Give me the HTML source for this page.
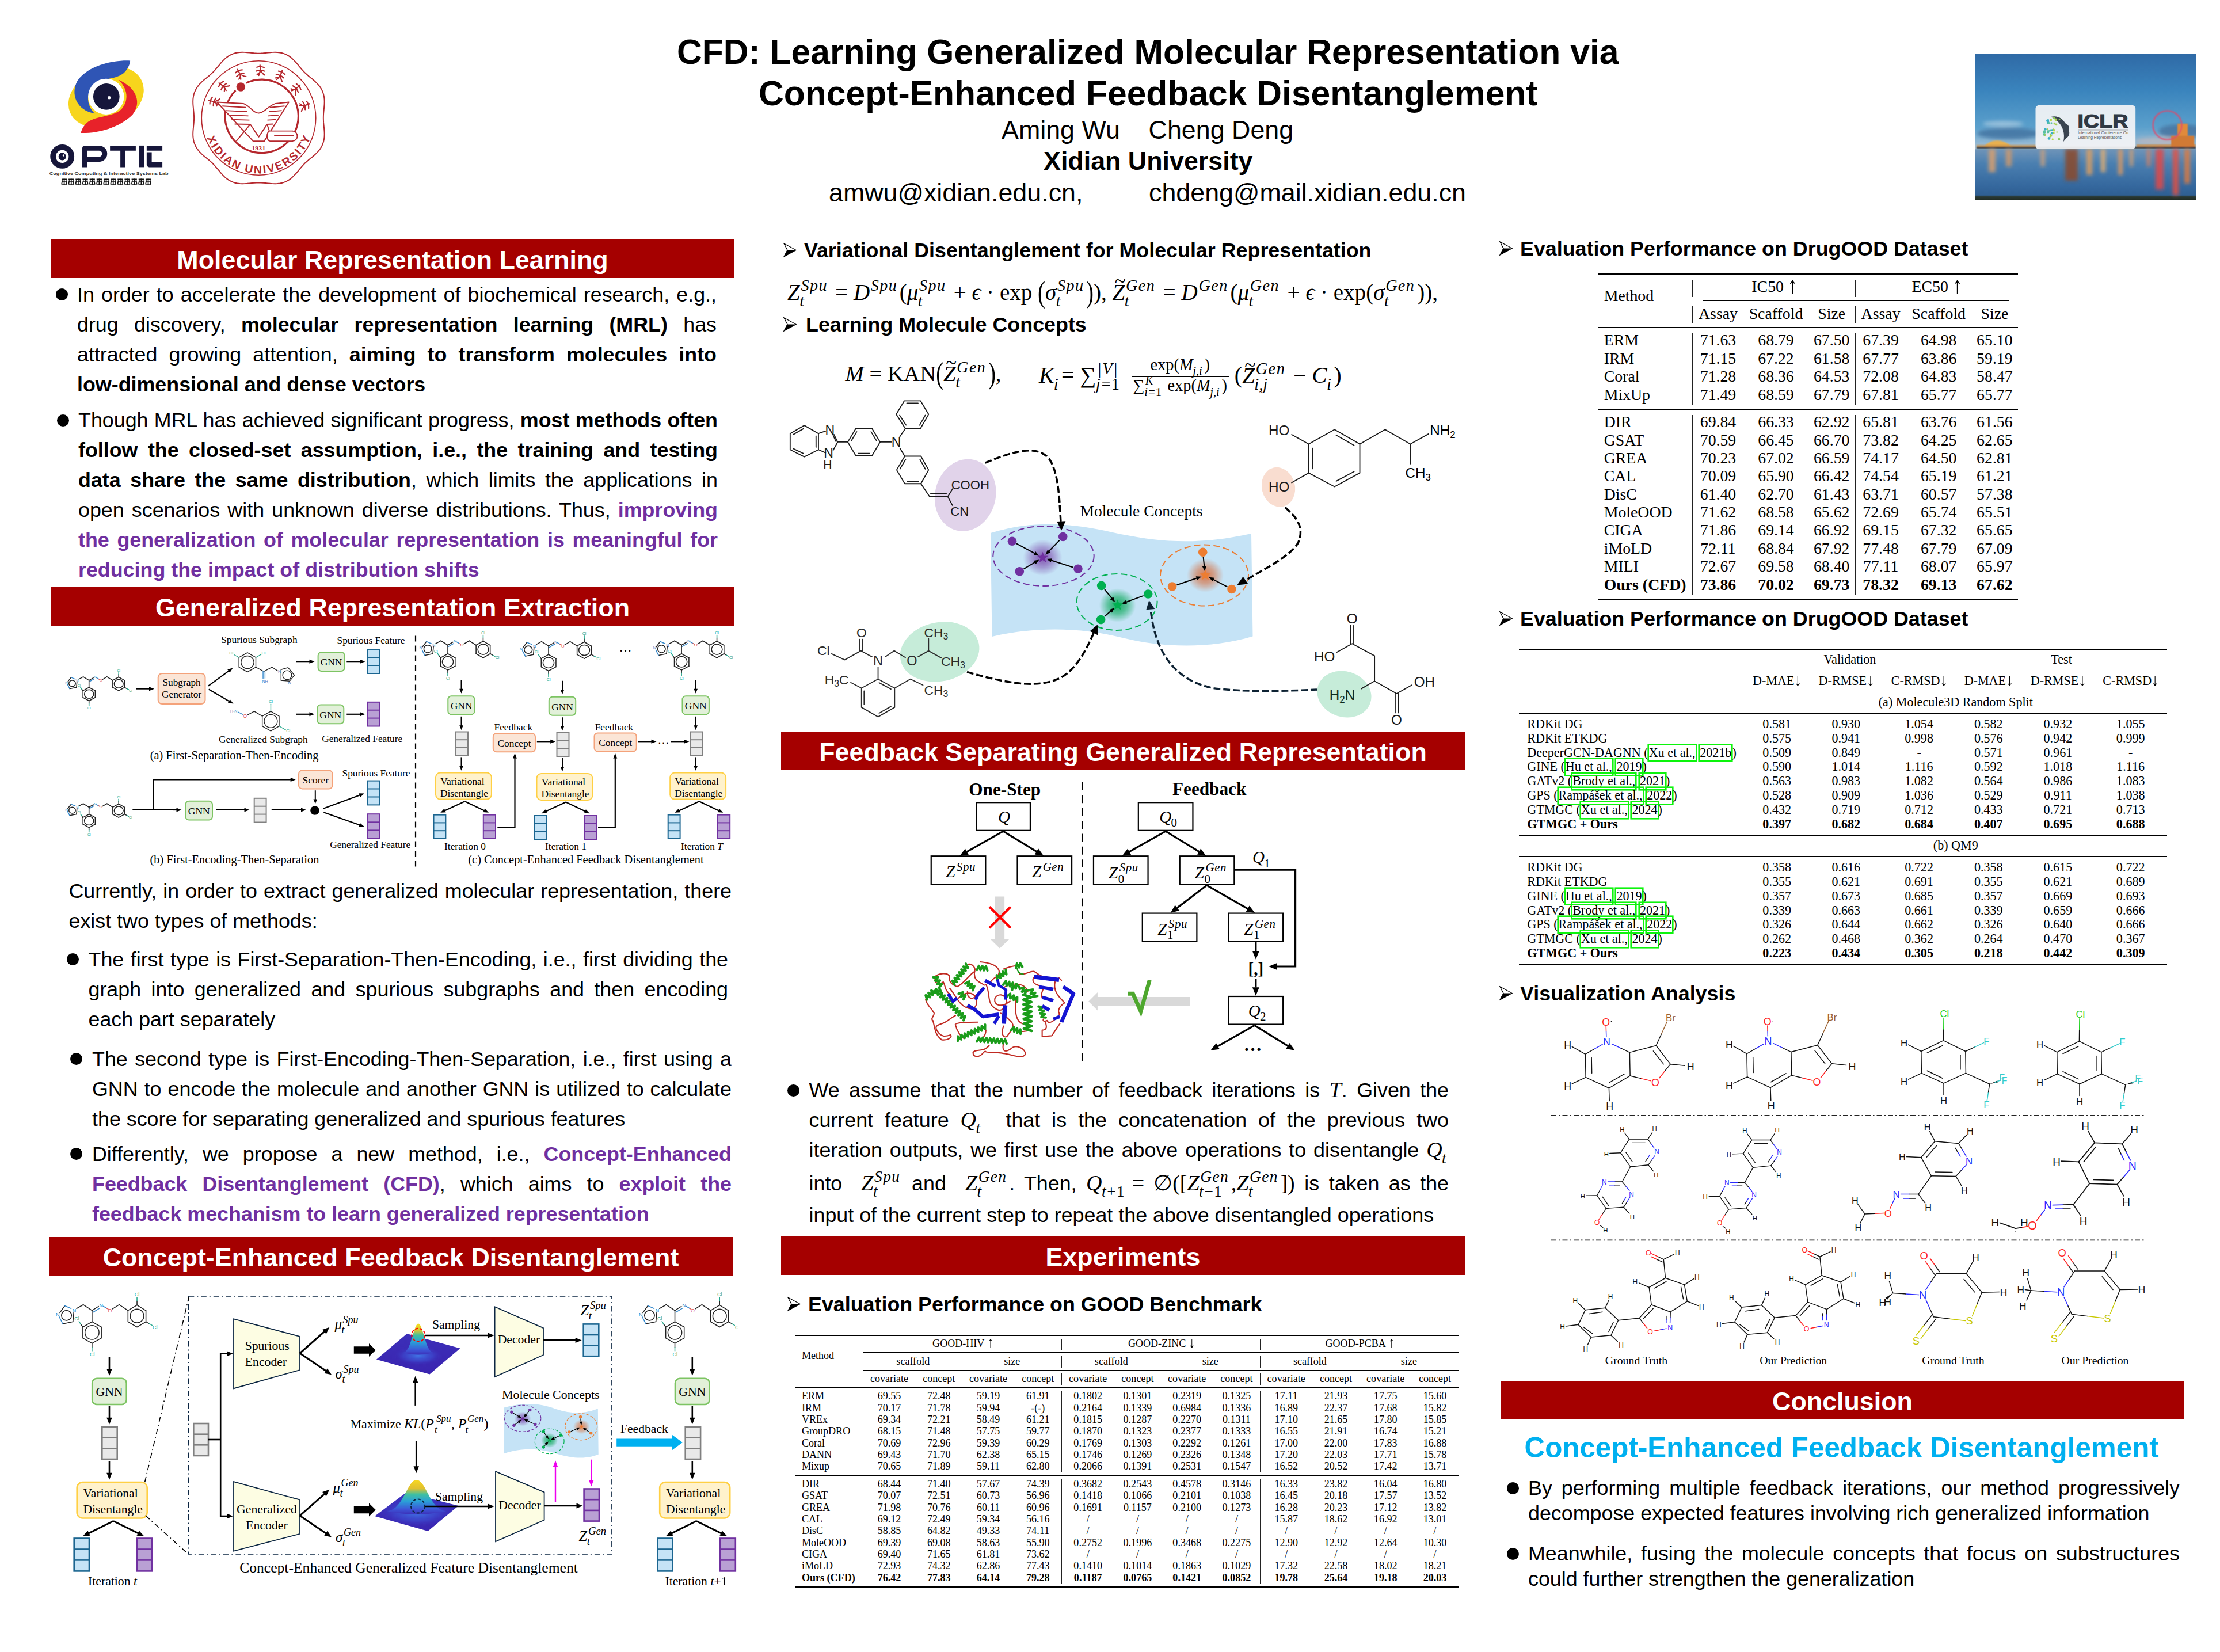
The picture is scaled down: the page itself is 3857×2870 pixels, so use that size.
<!DOCTYPE html>
<html><head><meta charset="utf-8"><title>CFD Poster</title>
<style>

html,body{margin:0;padding:0;background:#fff;}
#page{position:relative;width:3857px;height:2870px;overflow:hidden;background:#fff;font-family:"Liberation Sans",sans-serif;color:#000;}
.a{position:absolute;white-space:nowrap;}
.hdr{position:absolute;background:#a50000;color:#fff;font-weight:bold;font-size:44.8px;text-align:center;height:67px;line-height:67px;white-space:nowrap;}
.p{position:absolute;font-size:35.85px;line-height:52px;}
.ln{height:52px;white-space:nowrap;text-align:justify;text-align-last:justify;}
.ln.l{text-align:left;text-align-last:left;}
.ln span.sp{white-space:normal}
.b{font-weight:bold}
.pu{color:#7030a0;font-weight:bold}
.dot{position:absolute;width:21px;height:21px;border-radius:50%;background:#000;}
.sh{position:absolute;font-size:35.85px;font-weight:bold;white-space:nowrap;line-height:44px;}
.m{font-family:"Liberation Serif",serif;font-style:italic;}
.mr{font-family:"Liberation Serif",serif;font-style:normal;}
svg{position:absolute;left:0;top:0;overflow:visible}
svg text{font-family:"Liberation Serif",serif;}
svg .sans, svg .sans text{font-family:"Liberation Sans",sans-serif;}

.eq{position:absolute;white-space:nowrap;font-family:"Liberation Serif",serif;font-style:italic;transform-origin:0 50%;}
.eq .n,.m .n{font-style:normal}
.ss{display:inline-block;position:relative;width:0;height:0;}
.ss .u{position:absolute;left:.06em;bottom:.36em;font-size:.72em;line-height:1;white-space:nowrap;letter-spacing:.05em}
.ss .d{position:absolute;left:-.02em;top:-.42em;font-size:.72em;line-height:1;white-space:nowrap}
.sp{display:inline-block}
.big{display:inline-block;transform:scaleY(1.35);transform-origin:50% 55%;font-style:normal}
.frac{display:inline-block;vertical-align:middle;text-align:center;font-size:.72em;line-height:1.05;position:relative;top:-.16em}
.frac .nu{display:block;padding:0 .1em .2em}
.frac .de{display:block;border-top:.06em solid #000;padding:.0em .1em 0}
.til{display:inline-block;position:relative}
.til:after{content:"~";position:absolute;left:.12em;top:-.52em;font-style:normal;font-size:.9em}

.t{position:absolute;white-space:nowrap;font-family:"Liberation Serif",serif;transform:translateX(-50%);}
.tl{position:absolute;white-space:nowrap;font-family:"Liberation Serif",serif;}
.r{position:absolute;background:#000;}
.ar{display:inline-block;transform:scale(1.3,1.5);transform-origin:50% 62%;margin-left:.08em}
.ar2{display:inline-block;transform:scale(1.25,1.35);transform-origin:50% 62%;margin-left:.04em}
.gb{display:inline-block;box-shadow:0 0 0 2.6px #0cf40c;margin:0 1px;}

</style></head><body>
<div id="page">
<!-- p_base -->

<!-- p_text -->
<div class="a b" style="left:0;width:3857px;text-align:center;top:53.5px;font-size:60.6px;line-height:72px;"><div style="position:absolute;left:1176px;top:0;white-space:nowrap">CFD: Learning Generalized Molecular Representation via</div><div style="position:absolute;left:1318px;top:72px;white-space:nowrap">Concept-Enhanced Feedback Disentanglement</div></div>
<div class="a" style="left:1740px;top:199px;font-size:44.8px;line-height:52px;white-space:pre">Aming Wu    Cheng Deng</div>
<div class="a b" style="left:1813px;top:253px;font-size:44.8px;line-height:52px;">Xidian University</div>
<div class="a" style="left:1440px;top:308px;font-size:44.8px;line-height:52px;white-space:pre">amwu@xidian.edu.cn,</div>
<div class="a" style="left:1996px;top:308px;font-size:44.8px;line-height:52px;white-space:pre">chdeng@mail.xidian.edu.cn</div>
<div class="hdr" style="left:88px;top:416px;width:1188px;height:67px;line-height:70px;overflow:hidden">Molecular Representation Learning</div>
<div class="hdr" style="left:88px;top:1020px;width:1188px;height:67px;line-height:70px;overflow:hidden">Generalized Representation Extraction</div>
<div class="hdr" style="left:85px;top:2149px;width:1188px;height:67px;line-height:70px;overflow:hidden">Concept-Enhanced Feedback Disentanglement</div>
<div class="hdr" style="left:1357px;top:1271px;width:1188px;height:67px;line-height:70px;overflow:hidden">Feedback Separating Generalized Representation</div>
<div class="hdr" style="left:1357px;top:2148px;width:1188px;height:67px;line-height:70px;overflow:hidden">Experiments</div>
<div class="hdr" style="left:2607px;top:2399px;width:1188px;height:67px;line-height:70px;overflow:hidden">Conclusion</div>
<div class="dot" style="left:97.0px;top:501.0px;width:21px;height:21px"></div>
<div class="p" style="left:134px;top:486px;width:1111px;line-height:52px">
<div class="ln" style="height:52px;white-space:normal">In order to accelerate the development of biochemical research, e.g.,</div>
<div class="ln" style="height:52px;white-space:normal">drug discovery, <span class="b">molecular representation learning (MRL)</span> has</div>
<div class="ln" style="height:52px;white-space:normal">attracted growing attention, <span class="b">aiming to transform molecules into</span></div>
<div class="ln l" style="height:52px;white-space:normal"><span class="b">low-dimensional and dense vectors</span></div>
</div>
<div class="dot" style="left:98.5px;top:719.5px;width:21px;height:21px"></div>
<div class="p" style="left:136px;top:704px;width:1111px;line-height:52px">
<div class="ln" style="height:52px;white-space:normal">Though MRL has achieved significant progress, <span class="b">most methods often</span></div>
<div class="ln" style="height:52px;white-space:normal"><span class="b">follow the closed-set assumption, i.e., the training and testing</span></div>
<div class="ln" style="height:52px;white-space:normal"><span class="b">data share the same distribution</span>, which limits the applications in</div>
<div class="ln" style="height:52px;white-space:normal">open scenarios with unknown diverse distributions. Thus, <span class="pu">improving</span></div>
<div class="ln" style="height:52px;white-space:normal"><span class="pu">the generalization of molecular representation is meaningful for</span></div>
<div class="ln l" style="height:52px;white-space:normal"><span class="pu">reducing the impact of distribution shifts</span></div>
</div>
<div class="p" style="left:119.5px;top:1522px;width:1151.5px;line-height:52px">
<div class="ln" style="height:52px;white-space:normal">Currently, in order to extract generalized molecular representation, there</div>
<div class="ln l" style="height:52px;white-space:normal">exist two types of methods:</div>
</div>
<div class="dot" style="left:116.0px;top:1655.5px;width:21px;height:21px"></div>
<div class="p" style="left:153.5px;top:1641px;width:1111.5px;line-height:52px">
<div class="ln" style="height:52px;white-space:normal">The first type is First-Separation-Then-Encoding, i.e., first dividing the</div>
<div class="ln" style="height:52px;white-space:normal">graph into generalized and spurious subgraphs and then encoding</div>
<div class="ln l" style="height:52px;white-space:normal">each part separately</div>
</div>
<div class="dot" style="left:122.0px;top:1828.5px;width:21px;height:21px"></div>
<div class="p" style="left:160px;top:1814px;width:1111px;line-height:52px">
<div class="ln" style="height:52px;white-space:normal">The second type is First-Encoding-Then-Separation, i.e., first using a</div>
<div class="ln" style="height:52px;white-space:normal">GNN to encode the molecule and another GNN is utilized to calculate</div>
<div class="ln l" style="height:52px;white-space:normal">the score for separating generalized and spurious features</div>
</div>
<div class="dot" style="left:122.0px;top:1993.5px;width:21px;height:21px"></div>
<div class="p" style="left:160px;top:1979px;width:1111px;line-height:52px">
<div class="ln" style="height:52px;white-space:normal">Differently, we propose a new method, i.e., <span class="pu">Concept-Enhanced</span></div>
<div class="ln" style="height:52px;white-space:normal"><span class="pu">Feedback Disentanglement (CFD)</span>, which aims to <span class="pu">exploit the</span></div>
<div class="ln l" style="height:52px;white-space:normal"><span class="pu">feedback mechanism to learn generalized representation</span></div>
</div>
<svg class="a" style="left:1361px;top:421.5px" width="23.0" height="25.0" viewBox="0 0 23 25"><path d="M1 1 L22 12.5 L1 24 L7 12.5 Z" fill="#fff" stroke="#000" stroke-width="1.3" stroke-linejoin="miter"/><path d="M7 12.5 L22 12.5 L1 24 Z" fill="#000"/></svg><div class="sh" style="left:1397px;top:412.5px">Variational Disentanglement for Molecular Representation</div>
<svg class="a" style="left:1361px;top:550.5px" width="23.0" height="25.0" viewBox="0 0 23 25"><path d="M1 1 L22 12.5 L1 24 L7 12.5 Z" fill="#fff" stroke="#000" stroke-width="1.3" stroke-linejoin="miter"/><path d="M7 12.5 L22 12.5 L1 24 Z" fill="#000"/></svg><div class="sh" style="left:1400px;top:541.5px">Learning Molecule Concepts</div>
<svg class="a" style="left:1368px;top:2252.5px" width="23.0" height="25.0" viewBox="0 0 23 25"><path d="M1 1 L22 12.5 L1 24 L7 12.5 Z" fill="#fff" stroke="#000" stroke-width="1.3" stroke-linejoin="miter"/><path d="M7 12.5 L22 12.5 L1 24 Z" fill="#000"/></svg><div class="sh" style="left:1404px;top:2243.5px">Evaluation Performance on GOOD Benchmark</div>
<svg class="a" style="left:2605px;top:418.5px" width="23.0" height="25.0" viewBox="0 0 23 25"><path d="M1 1 L22 12.5 L1 24 L7 12.5 Z" fill="#fff" stroke="#000" stroke-width="1.3" stroke-linejoin="miter"/><path d="M7 12.5 L22 12.5 L1 24 Z" fill="#000"/></svg><div class="sh" style="left:2641px;top:409.5px">Evaluation Performance on DrugOOD Dataset</div>
<svg class="a" style="left:2605px;top:1061.5px" width="23.0" height="25.0" viewBox="0 0 23 25"><path d="M1 1 L22 12.5 L1 24 L7 12.5 Z" fill="#fff" stroke="#000" stroke-width="1.3" stroke-linejoin="miter"/><path d="M7 12.5 L22 12.5 L1 24 Z" fill="#000"/></svg><div class="sh" style="left:2641px;top:1052.5px">Evaluation Performance on DrugOOD Dataset</div>
<svg class="a" style="left:2605px;top:1712.5px" width="23.0" height="25.0" viewBox="0 0 23 25"><path d="M1 1 L22 12.5 L1 24 L7 12.5 Z" fill="#fff" stroke="#000" stroke-width="1.3" stroke-linejoin="miter"/><path d="M7 12.5 L22 12.5 L1 24 Z" fill="#000"/></svg><div class="sh" style="left:2641px;top:1703.5px">Visualization Analysis</div>
<div class="a b" style="left:2648.5px;top:2485px;font-size:49.35px;line-height:60px;color:#00b0f0">Concept-Enhanced Feedback Disentanglement</div>
<div class="dot" style="left:2617.5px;top:2575.0px;width:21px;height:21px"></div>
<div class="p" style="left:2655px;top:2563.4px;width:1132px;line-height:44px">
<div class="ln" style="height:44px;white-space:normal">By performing multiple feedback iterations, our method progressively</div>
<div class="ln l" style="height:44px;white-space:normal">decompose expected features involving rich generalized information</div>
</div>
<div class="dot" style="left:2617.5px;top:2689.0px;width:21px;height:21px"></div>
<div class="p" style="left:2655px;top:2677.4px;width:1132px;line-height:44px">
<div class="ln" style="height:44px;white-space:normal">Meanwhile, fusing the molecule concepts that focus on substructures</div>
<div class="ln l" style="height:44px;white-space:normal">could further strengthen the generalization</div>
</div>
<!-- p_math -->
<div class="eq" id="eq1" style="left:1368px;top:482.6px;font-size:39.1px;line-height:50.8px;transform:scaleX(1.0)">Z<span class="ss"><span class="u">Spu</span><span class="d">t</span></span><span class="sp" style="width:1.32em"></span><span class="n"> = </span>D<span class="ss"><span class="u">Spu</span></span><span class="sp" style="width:1.32em"></span><span class="n">(</span>&mu;<span class="ss"><span class="u">Spu</span><span class="d">t</span></span><span class="sp" style="width:1.32em"></span><span class="n"> + </span>&#1013;<span class="n"> &middot; exp </span><span class="big">(</span>&sigma;<span class="ss"><span class="u">Spu</span><span class="d">t</span></span><span class="sp" style="width:1.32em"></span><span class="big">)</span><span class="n">), </span><span class="til">Z</span><span class="ss"><span class="u">Gen</span><span class="d">t</span></span><span class="sp" style="width:1.45em"></span><span class="n"> = </span>D<span class="ss"><span class="u">Gen</span></span><span class="sp" style="width:1.45em"></span><span class="n">(</span>&mu;<span class="ss"><span class="u">Gen</span><span class="d">t</span></span><span class="sp" style="width:1.45em"></span><span class="n"> + </span>&#1013;<span class="n"> &middot; exp(</span>&sigma;<span class="ss"><span class="u">Gen</span><span class="d">t</span></span><span class="sp" style="width:1.45em"></span><span class="n">)),</span></div>
<div class="eq" id="eq2a" style="left:1468.5px;top:623.8px;font-size:38.8px;line-height:50.4px;transform:scaleX(1.0)">M<span class="n"> = KAN</span><span class="big">(</span><span class="til">Z</span><span class="ss"><span class="u">Gen</span><span class="d">t</span></span><span class="sp" style="width:1.45em"></span><span class="big">)</span><span class="n">,</span></div>
<div class="eq" id="eq2b" style="left:1805px;top:623.3px;font-size:39.5px;line-height:51.4px;transform:scaleX(1.0)">K<span class="ss"><span class="d">i</span></span><span class="sp" style="width:0.32em"></span><span class="n">= &sum;</span><span class="ss"><span class="u">|V|</span><span class="d">j=<span class="n">1</span></span></span><span class="sp" style="width:1.55em"></span><span class="frac"><span class="nu"><span class="n">exp(</span>M<span class="ss"><span class="d">j,i</span></span><span class="sp" style="width:0.7em"></span><span class="n">)</span></span><span class="de"><span class="n">&sum;</span><span class="ss"><span class="u">K</span><span class="d">i=<span class="n">1</span></span></span><span class="sp" style="width:1.15em"></span><span class="n"> exp(</span>M<span class="ss"><span class="d">j,i</span></span><span class="sp" style="width:0.7em"></span><span class="n">)</span></span></span><span class="n"> (</span><span class="til">Z</span><span class="ss"><span class="u">Gen</span><span class="d">i,j</span></span><span class="sp" style="width:1.45em"></span><span class="n"> &minus; </span>C<span class="ss"><span class="d">i</span></span><span class="sp" style="width:0.3em"></span><span class="n">)</span></div>
<div class="dot" style="left:1367.5px;top:1883.5px"></div>
<div class="p" style="left:1405.5px;top:1868.0px;width:1111.5px;line-height:52px"><div class="ln" style="height:52px;white-space:normal">We assume that the number of feedback iterations is <span class="m" style="font-size:38px;line-height:1px">T</span>. Given the</div></div>
<div class="p" style="left:1405.5px;top:1920.0px;width:1111.5px;line-height:52px"><div class="ln" style="height:52px;white-space:normal">current feature <span class="m" style="font-size:38px;line-height:1px">Q<span class="ss"><span class="d">t</span></span><span class="sp" style="width:0.3em"></span></span>&nbsp; that is the concatenation of the previous two</div></div>
<div class="p" style="left:1405.5px;top:1972.0px;width:1111.5px;line-height:52px"><div class="ln" style="height:52px;white-space:normal">iteration outputs, we first use the above operations to disentangle <span class="m" style="font-size:38px;line-height:1px">Q<span class="ss"><span class="d">t</span></span><span class="sp" style="width:0.3em"></span></span></div></div>
<div class="p" style="left:1405.5px;top:2030.0px;width:1111.5px;line-height:52px"><div class="ln" style="height:52px;white-space:normal">into &nbsp;<span class="m" style="font-size:38px;line-height:1px">Z<span class="ss"><span class="u">Spu</span><span class="d">t</span></span><span class="sp" style="width:1.32em"></span></span> and &nbsp;<span class="m" style="font-size:38px;line-height:1px">Z<span class="ss"><span class="u">Gen</span><span class="d">t</span></span><span class="sp" style="width:1.45em"></span></span>. Then, <span class="m" style="font-size:38px;line-height:1px">Q<span class="ss"><span class="d">t+<span class="n">1</span></span></span><span class="sp" style="width:0.95em"></span><span class="n"> = &empty;([</span>Z<span class="ss"><span class="u">Gen</span><span class="d">t&minus;<span class="n">1</span></span></span><span class="sp" style="width:1.45em"></span><span class="n">,</span>Z<span class="ss"><span class="u">Gen</span><span class="d">t</span></span><span class="sp" style="width:1.45em"></span><span class="n">])</span></span> is taken as the</div></div>
<div class="p" style="left:1405.5px;top:2085.0px;width:1111.5px;line-height:52px"><div class="ln l" style="height:52px;white-space:normal">input of the current step to repeat the above disentangled operations</div></div>
<!-- p_tables -->
<div class="r" style="left:2777px;top:473.5px;width:729px;height:3px"></div>
<div class="r" style="left:2777px;top:568.0px;width:729px;height:2px"></div>
<div class="r" style="left:2777px;top:709.6px;width:729px;height:2px"></div>
<div class="r" style="left:2777px;top:1039.8px;width:729px;height:3px"></div>
<div class="r" style="left:2957.6px;top:521.0px;width:532.9000000000001px;height:1.5px"></div>
<div class="r" style="left:2940.2px;top:486px;width:1.5px;height:30px;background:#222"></div>
<div class="r" style="left:2940.2px;top:532px;width:1.5px;height:30px;background:#222"></div>
<div class="r" style="left:2940.2px;top:579px;width:1.5px;height:125px;background:#222"></div>
<div class="r" style="left:2940.2px;top:720.5px;width:1.5px;height:313.5px;background:#222"></div>
<div class="r" style="left:3222.8px;top:486px;width:1.5px;height:30px;background:#222"></div>
<div class="r" style="left:3222.8px;top:532px;width:1.5px;height:30px;background:#222"></div>
<div class="r" style="left:3222.8px;top:579px;width:1.5px;height:125px;background:#222"></div>
<div class="r" style="left:3222.8px;top:720.5px;width:1.5px;height:313.5px;background:#222"></div>
<div class="tl" style="left:2786.7px;top:497.3px;font-size:27.8px;line-height:33.4px">Method</div>
<div class="t" style="left:3082.7px;top:481.1px;font-size:27.8px;line-height:33.4px">IC50 <span class="ar">&#8593;</span></div>
<div class="t" style="left:3364.8px;top:481.1px;font-size:27.8px;line-height:33.4px">EC50 <span class="ar">&#8593;</span></div>
<div class="t" style="left:2985px;top:528.0px;font-size:27.8px;line-height:33.4px">Assay</div>
<div class="t" style="left:3085.5px;top:528.0px;font-size:27.8px;line-height:33.4px">Scaffold</div>
<div class="t" style="left:3182.2px;top:528.0px;font-size:27.8px;line-height:33.4px">Size</div>
<div class="t" style="left:3267.6px;top:528.0px;font-size:27.8px;line-height:33.4px">Assay</div>
<div class="t" style="left:3368.2px;top:528.0px;font-size:27.8px;line-height:33.4px">Scaffold</div>
<div class="t" style="left:3465.4px;top:528.0px;font-size:27.8px;line-height:33.4px">Size</div>
<div class="tl" style="left:2786.7px;top:574.4px;font-size:27.8px;line-height:33.4px">ERM</div>
<div class="t" style="left:2985px;top:574.4px;font-size:27.8px;line-height:33.4px">71.63</div>
<div class="t" style="left:3085.5px;top:574.4px;font-size:27.8px;line-height:33.4px">68.79</div>
<div class="t" style="left:3182.2px;top:574.4px;font-size:27.8px;line-height:33.4px">67.50</div>
<div class="t" style="left:3267.6px;top:574.4px;font-size:27.8px;line-height:33.4px">67.39</div>
<div class="t" style="left:3368.2px;top:574.4px;font-size:27.8px;line-height:33.4px">64.98</div>
<div class="t" style="left:3465.4px;top:574.4px;font-size:27.8px;line-height:33.4px">65.10</div>
<div class="tl" style="left:2786.7px;top:605.8px;font-size:27.8px;line-height:33.4px">IRM</div>
<div class="t" style="left:2985px;top:605.8px;font-size:27.8px;line-height:33.4px">71.15</div>
<div class="t" style="left:3085.5px;top:605.8px;font-size:27.8px;line-height:33.4px">67.22</div>
<div class="t" style="left:3182.2px;top:605.8px;font-size:27.8px;line-height:33.4px">61.58</div>
<div class="t" style="left:3267.6px;top:605.8px;font-size:27.8px;line-height:33.4px">67.77</div>
<div class="t" style="left:3368.2px;top:605.8px;font-size:27.8px;line-height:33.4px">63.86</div>
<div class="t" style="left:3465.4px;top:605.8px;font-size:27.8px;line-height:33.4px">59.19</div>
<div class="tl" style="left:2786.7px;top:637.1px;font-size:27.8px;line-height:33.4px">Coral</div>
<div class="t" style="left:2985px;top:637.1px;font-size:27.8px;line-height:33.4px">71.28</div>
<div class="t" style="left:3085.5px;top:637.1px;font-size:27.8px;line-height:33.4px">68.36</div>
<div class="t" style="left:3182.2px;top:637.1px;font-size:27.8px;line-height:33.4px">64.53</div>
<div class="t" style="left:3267.6px;top:637.1px;font-size:27.8px;line-height:33.4px">72.08</div>
<div class="t" style="left:3368.2px;top:637.1px;font-size:27.8px;line-height:33.4px">64.83</div>
<div class="t" style="left:3465.4px;top:637.1px;font-size:27.8px;line-height:33.4px">58.47</div>
<div class="tl" style="left:2786.7px;top:668.5px;font-size:27.8px;line-height:33.4px">MixUp</div>
<div class="t" style="left:2985px;top:668.5px;font-size:27.8px;line-height:33.4px">71.49</div>
<div class="t" style="left:3085.5px;top:668.5px;font-size:27.8px;line-height:33.4px">68.59</div>
<div class="t" style="left:3182.2px;top:668.5px;font-size:27.8px;line-height:33.4px">67.79</div>
<div class="t" style="left:3267.6px;top:668.5px;font-size:27.8px;line-height:33.4px">67.81</div>
<div class="t" style="left:3368.2px;top:668.5px;font-size:27.8px;line-height:33.4px">65.77</div>
<div class="t" style="left:3465.4px;top:668.5px;font-size:27.8px;line-height:33.4px">65.77</div>
<div class="tl" style="left:2786.7px;top:716.3px;font-size:27.8px;line-height:33.4px">DIR</div>
<div class="t" style="left:2985px;top:716.3px;font-size:27.8px;line-height:33.4px">69.84</div>
<div class="t" style="left:3085.5px;top:716.3px;font-size:27.8px;line-height:33.4px">66.33</div>
<div class="t" style="left:3182.2px;top:716.3px;font-size:27.8px;line-height:33.4px">62.92</div>
<div class="t" style="left:3267.6px;top:716.3px;font-size:27.8px;line-height:33.4px">65.81</div>
<div class="t" style="left:3368.2px;top:716.3px;font-size:27.8px;line-height:33.4px">63.76</div>
<div class="t" style="left:3465.4px;top:716.3px;font-size:27.8px;line-height:33.4px">61.56</div>
<div class="tl" style="left:2786.7px;top:747.6px;font-size:27.8px;line-height:33.4px">GSAT</div>
<div class="t" style="left:2985px;top:747.6px;font-size:27.8px;line-height:33.4px">70.59</div>
<div class="t" style="left:3085.5px;top:747.6px;font-size:27.8px;line-height:33.4px">66.45</div>
<div class="t" style="left:3182.2px;top:747.6px;font-size:27.8px;line-height:33.4px">66.70</div>
<div class="t" style="left:3267.6px;top:747.6px;font-size:27.8px;line-height:33.4px">73.82</div>
<div class="t" style="left:3368.2px;top:747.6px;font-size:27.8px;line-height:33.4px">64.25</div>
<div class="t" style="left:3465.4px;top:747.6px;font-size:27.8px;line-height:33.4px">62.65</div>
<div class="tl" style="left:2786.7px;top:779.0px;font-size:27.8px;line-height:33.4px">GREA</div>
<div class="t" style="left:2985px;top:779.0px;font-size:27.8px;line-height:33.4px">70.23</div>
<div class="t" style="left:3085.5px;top:779.0px;font-size:27.8px;line-height:33.4px">67.02</div>
<div class="t" style="left:3182.2px;top:779.0px;font-size:27.8px;line-height:33.4px">66.59</div>
<div class="t" style="left:3267.6px;top:779.0px;font-size:27.8px;line-height:33.4px">74.17</div>
<div class="t" style="left:3368.2px;top:779.0px;font-size:27.8px;line-height:33.4px">64.50</div>
<div class="t" style="left:3465.4px;top:779.0px;font-size:27.8px;line-height:33.4px">62.81</div>
<div class="tl" style="left:2786.7px;top:810.3px;font-size:27.8px;line-height:33.4px">CAL</div>
<div class="t" style="left:2985px;top:810.3px;font-size:27.8px;line-height:33.4px">70.09</div>
<div class="t" style="left:3085.5px;top:810.3px;font-size:27.8px;line-height:33.4px">65.90</div>
<div class="t" style="left:3182.2px;top:810.3px;font-size:27.8px;line-height:33.4px">66.42</div>
<div class="t" style="left:3267.6px;top:810.3px;font-size:27.8px;line-height:33.4px">74.54</div>
<div class="t" style="left:3368.2px;top:810.3px;font-size:27.8px;line-height:33.4px">65.19</div>
<div class="t" style="left:3465.4px;top:810.3px;font-size:27.8px;line-height:33.4px">61.21</div>
<div class="tl" style="left:2786.7px;top:841.7px;font-size:27.8px;line-height:33.4px">DisC</div>
<div class="t" style="left:2985px;top:841.7px;font-size:27.8px;line-height:33.4px">61.40</div>
<div class="t" style="left:3085.5px;top:841.7px;font-size:27.8px;line-height:33.4px">62.70</div>
<div class="t" style="left:3182.2px;top:841.7px;font-size:27.8px;line-height:33.4px">61.43</div>
<div class="t" style="left:3267.6px;top:841.7px;font-size:27.8px;line-height:33.4px">63.71</div>
<div class="t" style="left:3368.2px;top:841.7px;font-size:27.8px;line-height:33.4px">60.57</div>
<div class="t" style="left:3465.4px;top:841.7px;font-size:27.8px;line-height:33.4px">57.38</div>
<div class="tl" style="left:2786.7px;top:873.0px;font-size:27.8px;line-height:33.4px">MoleOOD</div>
<div class="t" style="left:2985px;top:873.0px;font-size:27.8px;line-height:33.4px">71.62</div>
<div class="t" style="left:3085.5px;top:873.0px;font-size:27.8px;line-height:33.4px">68.58</div>
<div class="t" style="left:3182.2px;top:873.0px;font-size:27.8px;line-height:33.4px">65.62</div>
<div class="t" style="left:3267.6px;top:873.0px;font-size:27.8px;line-height:33.4px">72.69</div>
<div class="t" style="left:3368.2px;top:873.0px;font-size:27.8px;line-height:33.4px">65.74</div>
<div class="t" style="left:3465.4px;top:873.0px;font-size:27.8px;line-height:33.4px">65.51</div>
<div class="tl" style="left:2786.7px;top:904.4px;font-size:27.8px;line-height:33.4px">CIGA</div>
<div class="t" style="left:2985px;top:904.4px;font-size:27.8px;line-height:33.4px">71.86</div>
<div class="t" style="left:3085.5px;top:904.4px;font-size:27.8px;line-height:33.4px">69.14</div>
<div class="t" style="left:3182.2px;top:904.4px;font-size:27.8px;line-height:33.4px">66.92</div>
<div class="t" style="left:3267.6px;top:904.4px;font-size:27.8px;line-height:33.4px">69.15</div>
<div class="t" style="left:3368.2px;top:904.4px;font-size:27.8px;line-height:33.4px">67.32</div>
<div class="t" style="left:3465.4px;top:904.4px;font-size:27.8px;line-height:33.4px">65.65</div>
<div class="tl" style="left:2786.7px;top:935.8px;font-size:27.8px;line-height:33.4px">iMoLD</div>
<div class="t" style="left:2985px;top:935.8px;font-size:27.8px;line-height:33.4px">72.11</div>
<div class="t" style="left:3085.5px;top:935.8px;font-size:27.8px;line-height:33.4px">68.84</div>
<div class="t" style="left:3182.2px;top:935.8px;font-size:27.8px;line-height:33.4px">67.92</div>
<div class="t" style="left:3267.6px;top:935.8px;font-size:27.8px;line-height:33.4px">77.48</div>
<div class="t" style="left:3368.2px;top:935.8px;font-size:27.8px;line-height:33.4px">67.79</div>
<div class="t" style="left:3465.4px;top:935.8px;font-size:27.8px;line-height:33.4px">67.09</div>
<div class="tl" style="left:2786.7px;top:967.1px;font-size:27.8px;line-height:33.4px">MILI</div>
<div class="t" style="left:2985px;top:967.1px;font-size:27.8px;line-height:33.4px">72.67</div>
<div class="t" style="left:3085.5px;top:967.1px;font-size:27.8px;line-height:33.4px">69.58</div>
<div class="t" style="left:3182.2px;top:967.1px;font-size:27.8px;line-height:33.4px">68.40</div>
<div class="t" style="left:3267.6px;top:967.1px;font-size:27.8px;line-height:33.4px">77.11</div>
<div class="t" style="left:3368.2px;top:967.1px;font-size:27.8px;line-height:33.4px">68.07</div>
<div class="t" style="left:3465.4px;top:967.1px;font-size:27.8px;line-height:33.4px">65.97</div>
<div class="tl" style="left:2786.7px;top:998.5px;font-size:27.8px;line-height:33.4px;font-weight:bold">Ours (CFD)</div>
<div class="t" style="left:2985px;top:998.5px;font-size:27.8px;line-height:33.4px;font-weight:bold">73.86</div>
<div class="t" style="left:3085.5px;top:998.5px;font-size:27.8px;line-height:33.4px;font-weight:bold">70.02</div>
<div class="t" style="left:3182.2px;top:998.5px;font-size:27.8px;line-height:33.4px;font-weight:bold">69.73</div>
<div class="t" style="left:3267.6px;top:998.5px;font-size:27.8px;line-height:33.4px;font-weight:bold">78.32</div>
<div class="t" style="left:3368.2px;top:998.5px;font-size:27.8px;line-height:33.4px;font-weight:bold">69.13</div>
<div class="t" style="left:3465.4px;top:998.5px;font-size:27.8px;line-height:33.4px;font-weight:bold">67.62</div>
<div class="r" style="left:2638.7px;top:1126.5px;width:1126.6000000000004px;height:2.5px"></div>
<div class="r" style="left:3030.8px;top:1164.6px;width:734.5px;height:1px"></div>
<div class="r" style="left:3030.8px;top:1201.5px;width:734.5px;height:1px"></div>
<div class="r" style="left:2638.7px;top:1238.0px;width:1126.6000000000004px;height:1.8px"></div>
<div class="r" style="left:2638.7px;top:1450.2px;width:1126.6000000000004px;height:1.8px"></div>
<div class="r" style="left:2638.7px;top:1487.1px;width:1126.6000000000004px;height:1.8px"></div>
<div class="r" style="left:2638.7px;top:1673.8px;width:1126.6000000000004px;height:2.5px"></div>
<div class="t" style="left:3214px;top:1132.8px;font-size:22.1px;line-height:26.5px">Validation</div>
<div class="t" style="left:3581.6px;top:1132.8px;font-size:22.1px;line-height:26.5px">Test</div>
<div class="t" style="left:3087.2px;top:1170.3px;font-size:22.1px;line-height:26.5px">D-MAE<span class="ar2">&#8595;</span></div>
<div class="t" style="left:3207.3px;top:1170.3px;font-size:22.1px;line-height:26.5px">D-RMSE<span class="ar2">&#8595;</span></div>
<div class="t" style="left:3334.1px;top:1170.3px;font-size:22.1px;line-height:26.5px">C-RMSD<span class="ar2">&#8595;</span></div>
<div class="t" style="left:3454.8px;top:1170.3px;font-size:22.1px;line-height:26.5px">D-MAE<span class="ar2">&#8595;</span></div>
<div class="t" style="left:3575.4px;top:1170.3px;font-size:22.1px;line-height:26.5px">D-RMSE<span class="ar2">&#8595;</span></div>
<div class="t" style="left:3701.7px;top:1170.3px;font-size:22.1px;line-height:26.5px">C-RMSD<span class="ar2">&#8595;</span></div>
<div class="t" style="left:3397.8px;top:1206.7px;font-size:22.1px;line-height:26.5px">(a) Molecule3D Random Split</div>
<div class="t" style="left:3397.8px;top:1455.8px;font-size:22.1px;line-height:26.5px">(b) QM9</div>
<div class="tl" style="left:2653.2px;top:1244.7px;font-size:22.1px;line-height:26.5px">RDKit DG</div>
<div class="t" style="left:3087.2px;top:1244.7px;font-size:22.1px;line-height:26.5px">0.581</div>
<div class="t" style="left:3207.3px;top:1244.7px;font-size:22.1px;line-height:26.5px">0.930</div>
<div class="t" style="left:3334.1px;top:1244.7px;font-size:22.1px;line-height:26.5px">1.054</div>
<div class="t" style="left:3454.8px;top:1244.7px;font-size:22.1px;line-height:26.5px">0.582</div>
<div class="t" style="left:3575.4px;top:1244.7px;font-size:22.1px;line-height:26.5px">0.932</div>
<div class="t" style="left:3701.7px;top:1244.7px;font-size:22.1px;line-height:26.5px">1.055</div>
<div class="tl" style="left:2653.2px;top:1269.6px;font-size:22.1px;line-height:26.5px">RDKit ETKDG</div>
<div class="t" style="left:3087.2px;top:1269.6px;font-size:22.1px;line-height:26.5px">0.575</div>
<div class="t" style="left:3207.3px;top:1269.6px;font-size:22.1px;line-height:26.5px">0.941</div>
<div class="t" style="left:3334.1px;top:1269.6px;font-size:22.1px;line-height:26.5px">0.998</div>
<div class="t" style="left:3454.8px;top:1269.6px;font-size:22.1px;line-height:26.5px">0.576</div>
<div class="t" style="left:3575.4px;top:1269.6px;font-size:22.1px;line-height:26.5px">0.942</div>
<div class="t" style="left:3701.7px;top:1269.6px;font-size:22.1px;line-height:26.5px">0.999</div>
<div class="tl" style="left:2653.2px;top:1294.5px;font-size:22.1px;line-height:26.5px">DeeperGCN-DAGNN (<span class="gb">Xu et al.,</span> <span class="gb">2021b</span>)</div>
<div class="t" style="left:3087.2px;top:1294.5px;font-size:22.1px;line-height:26.5px">0.509</div>
<div class="t" style="left:3207.3px;top:1294.5px;font-size:22.1px;line-height:26.5px">0.849</div>
<div class="t" style="left:3334.1px;top:1294.5px;font-size:22.1px;line-height:26.5px">-</div>
<div class="t" style="left:3454.8px;top:1294.5px;font-size:22.1px;line-height:26.5px">0.571</div>
<div class="t" style="left:3575.4px;top:1294.5px;font-size:22.1px;line-height:26.5px">0.961</div>
<div class="t" style="left:3701.7px;top:1294.5px;font-size:22.1px;line-height:26.5px">-</div>
<div class="tl" style="left:2653.2px;top:1319.4px;font-size:22.1px;line-height:26.5px">GINE (<span class="gb">Hu et al.,</span> <span class="gb">2019</span>)</div>
<div class="t" style="left:3087.2px;top:1319.4px;font-size:22.1px;line-height:26.5px">0.590</div>
<div class="t" style="left:3207.3px;top:1319.4px;font-size:22.1px;line-height:26.5px">1.014</div>
<div class="t" style="left:3334.1px;top:1319.4px;font-size:22.1px;line-height:26.5px">1.116</div>
<div class="t" style="left:3454.8px;top:1319.4px;font-size:22.1px;line-height:26.5px">0.592</div>
<div class="t" style="left:3575.4px;top:1319.4px;font-size:22.1px;line-height:26.5px">1.018</div>
<div class="t" style="left:3701.7px;top:1319.4px;font-size:22.1px;line-height:26.5px">1.116</div>
<div class="tl" style="left:2653.2px;top:1344.2px;font-size:22.1px;line-height:26.5px">GATv2 (<span class="gb">Brody et al.,</span> <span class="gb">2021</span>)</div>
<div class="t" style="left:3087.2px;top:1344.2px;font-size:22.1px;line-height:26.5px">0.563</div>
<div class="t" style="left:3207.3px;top:1344.2px;font-size:22.1px;line-height:26.5px">0.983</div>
<div class="t" style="left:3334.1px;top:1344.2px;font-size:22.1px;line-height:26.5px">1.082</div>
<div class="t" style="left:3454.8px;top:1344.2px;font-size:22.1px;line-height:26.5px">0.564</div>
<div class="t" style="left:3575.4px;top:1344.2px;font-size:22.1px;line-height:26.5px">0.986</div>
<div class="t" style="left:3701.7px;top:1344.2px;font-size:22.1px;line-height:26.5px">1.083</div>
<div class="tl" style="left:2653.2px;top:1369.2px;font-size:22.1px;line-height:26.5px">GPS (<span class="gb">Ramp&aacute;&scaron;ek et al.,</span> <span class="gb">2022</span>)</div>
<div class="t" style="left:3087.2px;top:1369.2px;font-size:22.1px;line-height:26.5px">0.528</div>
<div class="t" style="left:3207.3px;top:1369.2px;font-size:22.1px;line-height:26.5px">0.909</div>
<div class="t" style="left:3334.1px;top:1369.2px;font-size:22.1px;line-height:26.5px">1.036</div>
<div class="t" style="left:3454.8px;top:1369.2px;font-size:22.1px;line-height:26.5px">0.529</div>
<div class="t" style="left:3575.4px;top:1369.2px;font-size:22.1px;line-height:26.5px">0.911</div>
<div class="t" style="left:3701.7px;top:1369.2px;font-size:22.1px;line-height:26.5px">1.038</div>
<div class="tl" style="left:2653.2px;top:1394.1px;font-size:22.1px;line-height:26.5px">GTMGC (<span class="gb">Xu et al.,</span> <span class="gb">2024</span>)</div>
<div class="t" style="left:3087.2px;top:1394.1px;font-size:22.1px;line-height:26.5px">0.432</div>
<div class="t" style="left:3207.3px;top:1394.1px;font-size:22.1px;line-height:26.5px">0.719</div>
<div class="t" style="left:3334.1px;top:1394.1px;font-size:22.1px;line-height:26.5px">0.712</div>
<div class="t" style="left:3454.8px;top:1394.1px;font-size:22.1px;line-height:26.5px">0.433</div>
<div class="t" style="left:3575.4px;top:1394.1px;font-size:22.1px;line-height:26.5px">0.721</div>
<div class="t" style="left:3701.7px;top:1394.1px;font-size:22.1px;line-height:26.5px">0.713</div>
<div class="tl" style="left:2653.2px;top:1419.0px;font-size:22.1px;line-height:26.5px;font-weight:bold">GTMGC + Ours</div>
<div class="t" style="left:3087.2px;top:1419.0px;font-size:22.1px;line-height:26.5px;font-weight:bold">0.397</div>
<div class="t" style="left:3207.3px;top:1419.0px;font-size:22.1px;line-height:26.5px;font-weight:bold">0.682</div>
<div class="t" style="left:3334.1px;top:1419.0px;font-size:22.1px;line-height:26.5px;font-weight:bold">0.684</div>
<div class="t" style="left:3454.8px;top:1419.0px;font-size:22.1px;line-height:26.5px;font-weight:bold">0.407</div>
<div class="t" style="left:3575.4px;top:1419.0px;font-size:22.1px;line-height:26.5px;font-weight:bold">0.695</div>
<div class="t" style="left:3701.7px;top:1419.0px;font-size:22.1px;line-height:26.5px;font-weight:bold">0.688</div>
<div class="tl" style="left:2653.2px;top:1493.8px;font-size:22.1px;line-height:26.5px">RDKit DG</div>
<div class="t" style="left:3087.2px;top:1493.8px;font-size:22.1px;line-height:26.5px">0.358</div>
<div class="t" style="left:3207.3px;top:1493.8px;font-size:22.1px;line-height:26.5px">0.616</div>
<div class="t" style="left:3334.1px;top:1493.8px;font-size:22.1px;line-height:26.5px">0.722</div>
<div class="t" style="left:3454.8px;top:1493.8px;font-size:22.1px;line-height:26.5px">0.358</div>
<div class="t" style="left:3575.4px;top:1493.8px;font-size:22.1px;line-height:26.5px">0.615</div>
<div class="t" style="left:3701.7px;top:1493.8px;font-size:22.1px;line-height:26.5px">0.722</div>
<div class="tl" style="left:2653.2px;top:1518.8px;font-size:22.1px;line-height:26.5px">RDKit ETKDG</div>
<div class="t" style="left:3087.2px;top:1518.8px;font-size:22.1px;line-height:26.5px">0.355</div>
<div class="t" style="left:3207.3px;top:1518.8px;font-size:22.1px;line-height:26.5px">0.621</div>
<div class="t" style="left:3334.1px;top:1518.8px;font-size:22.1px;line-height:26.5px">0.691</div>
<div class="t" style="left:3454.8px;top:1518.8px;font-size:22.1px;line-height:26.5px">0.355</div>
<div class="t" style="left:3575.4px;top:1518.8px;font-size:22.1px;line-height:26.5px">0.621</div>
<div class="t" style="left:3701.7px;top:1518.8px;font-size:22.1px;line-height:26.5px">0.689</div>
<div class="tl" style="left:2653.2px;top:1543.6px;font-size:22.1px;line-height:26.5px">GINE (<span class="gb">Hu et al.,</span> <span class="gb">2019</span>)</div>
<div class="t" style="left:3087.2px;top:1543.6px;font-size:22.1px;line-height:26.5px">0.357</div>
<div class="t" style="left:3207.3px;top:1543.6px;font-size:22.1px;line-height:26.5px">0.673</div>
<div class="t" style="left:3334.1px;top:1543.6px;font-size:22.1px;line-height:26.5px">0.685</div>
<div class="t" style="left:3454.8px;top:1543.6px;font-size:22.1px;line-height:26.5px">0.357</div>
<div class="t" style="left:3575.4px;top:1543.6px;font-size:22.1px;line-height:26.5px">0.669</div>
<div class="t" style="left:3701.7px;top:1543.6px;font-size:22.1px;line-height:26.5px">0.693</div>
<div class="tl" style="left:2653.2px;top:1568.5px;font-size:22.1px;line-height:26.5px">GATv2 (<span class="gb">Brody et al.,</span> <span class="gb">2021</span>)</div>
<div class="t" style="left:3087.2px;top:1568.5px;font-size:22.1px;line-height:26.5px">0.339</div>
<div class="t" style="left:3207.3px;top:1568.5px;font-size:22.1px;line-height:26.5px">0.663</div>
<div class="t" style="left:3334.1px;top:1568.5px;font-size:22.1px;line-height:26.5px">0.661</div>
<div class="t" style="left:3454.8px;top:1568.5px;font-size:22.1px;line-height:26.5px">0.339</div>
<div class="t" style="left:3575.4px;top:1568.5px;font-size:22.1px;line-height:26.5px">0.659</div>
<div class="t" style="left:3701.7px;top:1568.5px;font-size:22.1px;line-height:26.5px">0.666</div>
<div class="tl" style="left:2653.2px;top:1593.4px;font-size:22.1px;line-height:26.5px">GPS (<span class="gb">Ramp&aacute;&scaron;ek et al.,</span> <span class="gb">2022</span>)</div>
<div class="t" style="left:3087.2px;top:1593.4px;font-size:22.1px;line-height:26.5px">0.326</div>
<div class="t" style="left:3207.3px;top:1593.4px;font-size:22.1px;line-height:26.5px">0.644</div>
<div class="t" style="left:3334.1px;top:1593.4px;font-size:22.1px;line-height:26.5px">0.662</div>
<div class="t" style="left:3454.8px;top:1593.4px;font-size:22.1px;line-height:26.5px">0.326</div>
<div class="t" style="left:3575.4px;top:1593.4px;font-size:22.1px;line-height:26.5px">0.640</div>
<div class="t" style="left:3701.7px;top:1593.4px;font-size:22.1px;line-height:26.5px">0.666</div>
<div class="tl" style="left:2653.2px;top:1618.3px;font-size:22.1px;line-height:26.5px">GTMGC (<span class="gb">Xu et al.,</span> <span class="gb">2024</span>)</div>
<div class="t" style="left:3087.2px;top:1618.3px;font-size:22.1px;line-height:26.5px">0.262</div>
<div class="t" style="left:3207.3px;top:1618.3px;font-size:22.1px;line-height:26.5px">0.468</div>
<div class="t" style="left:3334.1px;top:1618.3px;font-size:22.1px;line-height:26.5px">0.362</div>
<div class="t" style="left:3454.8px;top:1618.3px;font-size:22.1px;line-height:26.5px">0.264</div>
<div class="t" style="left:3575.4px;top:1618.3px;font-size:22.1px;line-height:26.5px">0.470</div>
<div class="t" style="left:3701.7px;top:1618.3px;font-size:22.1px;line-height:26.5px">0.367</div>
<div class="tl" style="left:2653.2px;top:1643.2px;font-size:22.1px;line-height:26.5px;font-weight:bold">GTMGC + Ours</div>
<div class="t" style="left:3087.2px;top:1643.2px;font-size:22.1px;line-height:26.5px;font-weight:bold">0.223</div>
<div class="t" style="left:3207.3px;top:1643.2px;font-size:22.1px;line-height:26.5px;font-weight:bold">0.434</div>
<div class="t" style="left:3334.1px;top:1643.2px;font-size:22.1px;line-height:26.5px;font-weight:bold">0.305</div>
<div class="t" style="left:3454.8px;top:1643.2px;font-size:22.1px;line-height:26.5px;font-weight:bold">0.218</div>
<div class="t" style="left:3575.4px;top:1643.2px;font-size:22.1px;line-height:26.5px;font-weight:bold">0.442</div>
<div class="t" style="left:3701.7px;top:1643.2px;font-size:22.1px;line-height:26.5px;font-weight:bold">0.309</div>
<div class="r" style="left:1381.3px;top:2318.7px;width:1152.8999999999999px;height:2px"></div>
<div class="r" style="left:1499.5px;top:2349.4px;width:1034.6999999999998px;height:1px"></div>
<div class="r" style="left:1499.5px;top:2379.6px;width:1034.6999999999998px;height:1px"></div>
<div class="r" style="left:1381.3px;top:2409.7px;width:1152.8999999999999px;height:1.2px"></div>
<div class="r" style="left:1381.3px;top:2562.5px;width:1152.8999999999999px;height:1.2px"></div>
<div class="r" style="left:1381.3px;top:2756.1px;width:1152.8999999999999px;height:2px"></div>
<div class="r" style="left:1498.9px;top:2326px;width:1.2px;height:19px;background:#222"></div>
<div class="r" style="left:1498.9px;top:2356px;width:1.2px;height:20px;background:#222"></div>
<div class="r" style="left:1498.9px;top:2386px;width:1.2px;height:20px;background:#222"></div>
<div class="r" style="left:1498.9px;top:2417px;width:1.2px;height:141px;background:#222"></div>
<div class="r" style="left:1498.9px;top:2570px;width:1.2px;height:182px;background:#222"></div>
<div class="r" style="left:1844.0px;top:2326px;width:1.2px;height:19px;background:#222"></div>
<div class="r" style="left:1844.0px;top:2356px;width:1.2px;height:20px;background:#222"></div>
<div class="r" style="left:1844.0px;top:2386px;width:1.2px;height:20px;background:#222"></div>
<div class="r" style="left:1844.0px;top:2417px;width:1.2px;height:141px;background:#222"></div>
<div class="r" style="left:1844.0px;top:2570px;width:1.2px;height:182px;background:#222"></div>
<div class="r" style="left:2189.0px;top:2326px;width:1.2px;height:19px;background:#222"></div>
<div class="r" style="left:2189.0px;top:2356px;width:1.2px;height:20px;background:#222"></div>
<div class="r" style="left:2189.0px;top:2386px;width:1.2px;height:20px;background:#222"></div>
<div class="r" style="left:2189.0px;top:2417px;width:1.2px;height:141px;background:#222"></div>
<div class="r" style="left:2189.0px;top:2570px;width:1.2px;height:182px;background:#222"></div>
<div class="tl" style="left:1392.9px;top:2345.0px;font-size:18.07px;line-height:21.7px">Method</div>
<div class="t" style="left:1672.6px;top:2324.2px;font-size:18.07px;line-height:21.7px">GOOD-HIV <span class="ar">&#8593;</span></div>
<div class="t" style="left:2017.6px;top:2324.2px;font-size:18.07px;line-height:21.7px">GOOD-ZINC <span class="ar">&#8595;</span></div>
<div class="t" style="left:2362.2px;top:2324.2px;font-size:18.07px;line-height:21.7px">GOOD-PCBA <span class="ar">&#8593;</span></div>
<div class="t" style="left:1586.3px;top:2354.8px;font-size:18.07px;line-height:21.7px">scaffold</div>
<div class="t" style="left:1758.3px;top:2354.8px;font-size:18.07px;line-height:21.7px">size</div>
<div class="t" style="left:1930.8px;top:2354.8px;font-size:18.07px;line-height:21.7px">scaffold</div>
<div class="t" style="left:2102.8px;top:2354.8px;font-size:18.07px;line-height:21.7px">size</div>
<div class="t" style="left:2275.9px;top:2354.8px;font-size:18.07px;line-height:21.7px">scaffold</div>
<div class="t" style="left:2447.9px;top:2354.8px;font-size:18.07px;line-height:21.7px">size</div>
<div class="t" style="left:1545px;top:2385.2px;font-size:18.07px;line-height:21.7px">covariate</div>
<div class="t" style="left:1631.3px;top:2385.2px;font-size:18.07px;line-height:21.7px">concept</div>
<div class="t" style="left:1717px;top:2385.2px;font-size:18.07px;line-height:21.7px">covariate</div>
<div class="t" style="left:1803.3px;top:2385.2px;font-size:18.07px;line-height:21.7px">concept</div>
<div class="t" style="left:1890.2px;top:2385.2px;font-size:18.07px;line-height:21.7px">covariate</div>
<div class="t" style="left:1976.4px;top:2385.2px;font-size:18.07px;line-height:21.7px">concept</div>
<div class="t" style="left:2062.2px;top:2385.2px;font-size:18.07px;line-height:21.7px">covariate</div>
<div class="t" style="left:2148.4px;top:2385.2px;font-size:18.07px;line-height:21.7px">concept</div>
<div class="t" style="left:2234.7px;top:2385.2px;font-size:18.07px;line-height:21.7px">covariate</div>
<div class="t" style="left:2321px;top:2385.2px;font-size:18.07px;line-height:21.7px">concept</div>
<div class="t" style="left:2407.2px;top:2385.2px;font-size:18.07px;line-height:21.7px">covariate</div>
<div class="t" style="left:2493px;top:2385.2px;font-size:18.07px;line-height:21.7px">concept</div>
<div class="tl" style="left:1392.9px;top:2415.3px;font-size:18.07px;line-height:21.7px">ERM</div>
<div class="t" style="left:1545px;top:2415.3px;font-size:18.07px;line-height:21.7px">69.55</div>
<div class="t" style="left:1631.3px;top:2415.3px;font-size:18.07px;line-height:21.7px">72.48</div>
<div class="t" style="left:1717px;top:2415.3px;font-size:18.07px;line-height:21.7px">59.19</div>
<div class="t" style="left:1803.3px;top:2415.3px;font-size:18.07px;line-height:21.7px">61.91</div>
<div class="t" style="left:1890.2px;top:2415.3px;font-size:18.07px;line-height:21.7px">0.1802</div>
<div class="t" style="left:1976.4px;top:2415.3px;font-size:18.07px;line-height:21.7px">0.1301</div>
<div class="t" style="left:2062.2px;top:2415.3px;font-size:18.07px;line-height:21.7px">0.2319</div>
<div class="t" style="left:2148.4px;top:2415.3px;font-size:18.07px;line-height:21.7px">0.1325</div>
<div class="t" style="left:2234.7px;top:2415.3px;font-size:18.07px;line-height:21.7px">17.11</div>
<div class="t" style="left:2321px;top:2415.3px;font-size:18.07px;line-height:21.7px">21.93</div>
<div class="t" style="left:2407.2px;top:2415.3px;font-size:18.07px;line-height:21.7px">17.75</div>
<div class="t" style="left:2493px;top:2415.3px;font-size:18.07px;line-height:21.7px">15.60</div>
<div class="tl" style="left:1392.9px;top:2435.7px;font-size:18.07px;line-height:21.7px">IRM</div>
<div class="t" style="left:1545px;top:2435.7px;font-size:18.07px;line-height:21.7px">70.17</div>
<div class="t" style="left:1631.3px;top:2435.7px;font-size:18.07px;line-height:21.7px">71.78</div>
<div class="t" style="left:1717px;top:2435.7px;font-size:18.07px;line-height:21.7px">59.94</div>
<div class="t" style="left:1803.3px;top:2435.7px;font-size:18.07px;line-height:21.7px">-(-)</div>
<div class="t" style="left:1890.2px;top:2435.7px;font-size:18.07px;line-height:21.7px">0.2164</div>
<div class="t" style="left:1976.4px;top:2435.7px;font-size:18.07px;line-height:21.7px">0.1339</div>
<div class="t" style="left:2062.2px;top:2435.7px;font-size:18.07px;line-height:21.7px">0.6984</div>
<div class="t" style="left:2148.4px;top:2435.7px;font-size:18.07px;line-height:21.7px">0.1336</div>
<div class="t" style="left:2234.7px;top:2435.7px;font-size:18.07px;line-height:21.7px">16.89</div>
<div class="t" style="left:2321px;top:2435.7px;font-size:18.07px;line-height:21.7px">22.37</div>
<div class="t" style="left:2407.2px;top:2435.7px;font-size:18.07px;line-height:21.7px">17.68</div>
<div class="t" style="left:2493px;top:2435.7px;font-size:18.07px;line-height:21.7px">15.82</div>
<div class="tl" style="left:1392.9px;top:2456.0px;font-size:18.07px;line-height:21.7px">VREx</div>
<div class="t" style="left:1545px;top:2456.0px;font-size:18.07px;line-height:21.7px">69.34</div>
<div class="t" style="left:1631.3px;top:2456.0px;font-size:18.07px;line-height:21.7px">72.21</div>
<div class="t" style="left:1717px;top:2456.0px;font-size:18.07px;line-height:21.7px">58.49</div>
<div class="t" style="left:1803.3px;top:2456.0px;font-size:18.07px;line-height:21.7px">61.21</div>
<div class="t" style="left:1890.2px;top:2456.0px;font-size:18.07px;line-height:21.7px">0.1815</div>
<div class="t" style="left:1976.4px;top:2456.0px;font-size:18.07px;line-height:21.7px">0.1287</div>
<div class="t" style="left:2062.2px;top:2456.0px;font-size:18.07px;line-height:21.7px">0.2270</div>
<div class="t" style="left:2148.4px;top:2456.0px;font-size:18.07px;line-height:21.7px">0.1311</div>
<div class="t" style="left:2234.7px;top:2456.0px;font-size:18.07px;line-height:21.7px">17.10</div>
<div class="t" style="left:2321px;top:2456.0px;font-size:18.07px;line-height:21.7px">21.65</div>
<div class="t" style="left:2407.2px;top:2456.0px;font-size:18.07px;line-height:21.7px">17.80</div>
<div class="t" style="left:2493px;top:2456.0px;font-size:18.07px;line-height:21.7px">15.85</div>
<div class="tl" style="left:1392.9px;top:2476.3px;font-size:18.07px;line-height:21.7px">GroupDRO</div>
<div class="t" style="left:1545px;top:2476.3px;font-size:18.07px;line-height:21.7px">68.15</div>
<div class="t" style="left:1631.3px;top:2476.3px;font-size:18.07px;line-height:21.7px">71.48</div>
<div class="t" style="left:1717px;top:2476.3px;font-size:18.07px;line-height:21.7px">57.75</div>
<div class="t" style="left:1803.3px;top:2476.3px;font-size:18.07px;line-height:21.7px">59.77</div>
<div class="t" style="left:1890.2px;top:2476.3px;font-size:18.07px;line-height:21.7px">0.1870</div>
<div class="t" style="left:1976.4px;top:2476.3px;font-size:18.07px;line-height:21.7px">0.1323</div>
<div class="t" style="left:2062.2px;top:2476.3px;font-size:18.07px;line-height:21.7px">0.2377</div>
<div class="t" style="left:2148.4px;top:2476.3px;font-size:18.07px;line-height:21.7px">0.1333</div>
<div class="t" style="left:2234.7px;top:2476.3px;font-size:18.07px;line-height:21.7px">16.55</div>
<div class="t" style="left:2321px;top:2476.3px;font-size:18.07px;line-height:21.7px">21.91</div>
<div class="t" style="left:2407.2px;top:2476.3px;font-size:18.07px;line-height:21.7px">16.74</div>
<div class="t" style="left:2493px;top:2476.3px;font-size:18.07px;line-height:21.7px">15.21</div>
<div class="tl" style="left:1392.9px;top:2496.7px;font-size:18.07px;line-height:21.7px">Coral</div>
<div class="t" style="left:1545px;top:2496.7px;font-size:18.07px;line-height:21.7px">70.69</div>
<div class="t" style="left:1631.3px;top:2496.7px;font-size:18.07px;line-height:21.7px">72.96</div>
<div class="t" style="left:1717px;top:2496.7px;font-size:18.07px;line-height:21.7px">59.39</div>
<div class="t" style="left:1803.3px;top:2496.7px;font-size:18.07px;line-height:21.7px">60.29</div>
<div class="t" style="left:1890.2px;top:2496.7px;font-size:18.07px;line-height:21.7px">0.1769</div>
<div class="t" style="left:1976.4px;top:2496.7px;font-size:18.07px;line-height:21.7px">0.1303</div>
<div class="t" style="left:2062.2px;top:2496.7px;font-size:18.07px;line-height:21.7px">0.2292</div>
<div class="t" style="left:2148.4px;top:2496.7px;font-size:18.07px;line-height:21.7px">0.1261</div>
<div class="t" style="left:2234.7px;top:2496.7px;font-size:18.07px;line-height:21.7px">17.00</div>
<div class="t" style="left:2321px;top:2496.7px;font-size:18.07px;line-height:21.7px">22.00</div>
<div class="t" style="left:2407.2px;top:2496.7px;font-size:18.07px;line-height:21.7px">17.83</div>
<div class="t" style="left:2493px;top:2496.7px;font-size:18.07px;line-height:21.7px">16.88</div>
<div class="tl" style="left:1392.9px;top:2517.0px;font-size:18.07px;line-height:21.7px">DANN</div>
<div class="t" style="left:1545px;top:2517.0px;font-size:18.07px;line-height:21.7px">69.43</div>
<div class="t" style="left:1631.3px;top:2517.0px;font-size:18.07px;line-height:21.7px">71.70</div>
<div class="t" style="left:1717px;top:2517.0px;font-size:18.07px;line-height:21.7px">62.38</div>
<div class="t" style="left:1803.3px;top:2517.0px;font-size:18.07px;line-height:21.7px">65.15</div>
<div class="t" style="left:1890.2px;top:2517.0px;font-size:18.07px;line-height:21.7px">0.1746</div>
<div class="t" style="left:1976.4px;top:2517.0px;font-size:18.07px;line-height:21.7px">0.1269</div>
<div class="t" style="left:2062.2px;top:2517.0px;font-size:18.07px;line-height:21.7px">0.2326</div>
<div class="t" style="left:2148.4px;top:2517.0px;font-size:18.07px;line-height:21.7px">0.1348</div>
<div class="t" style="left:2234.7px;top:2517.0px;font-size:18.07px;line-height:21.7px">17.20</div>
<div class="t" style="left:2321px;top:2517.0px;font-size:18.07px;line-height:21.7px">22.03</div>
<div class="t" style="left:2407.2px;top:2517.0px;font-size:18.07px;line-height:21.7px">17.71</div>
<div class="t" style="left:2493px;top:2517.0px;font-size:18.07px;line-height:21.7px">15.78</div>
<div class="tl" style="left:1392.9px;top:2537.3px;font-size:18.07px;line-height:21.7px">Mixup</div>
<div class="t" style="left:1545px;top:2537.3px;font-size:18.07px;line-height:21.7px">70.65</div>
<div class="t" style="left:1631.3px;top:2537.3px;font-size:18.07px;line-height:21.7px">71.89</div>
<div class="t" style="left:1717px;top:2537.3px;font-size:18.07px;line-height:21.7px">59.11</div>
<div class="t" style="left:1803.3px;top:2537.3px;font-size:18.07px;line-height:21.7px">62.80</div>
<div class="t" style="left:1890.2px;top:2537.3px;font-size:18.07px;line-height:21.7px">0.2066</div>
<div class="t" style="left:1976.4px;top:2537.3px;font-size:18.07px;line-height:21.7px">0.1391</div>
<div class="t" style="left:2062.2px;top:2537.3px;font-size:18.07px;line-height:21.7px">0.2531</div>
<div class="t" style="left:2148.4px;top:2537.3px;font-size:18.07px;line-height:21.7px">0.1547</div>
<div class="t" style="left:2234.7px;top:2537.3px;font-size:18.07px;line-height:21.7px">16.52</div>
<div class="t" style="left:2321px;top:2537.3px;font-size:18.07px;line-height:21.7px">20.52</div>
<div class="t" style="left:2407.2px;top:2537.3px;font-size:18.07px;line-height:21.7px">17.42</div>
<div class="t" style="left:2493px;top:2537.3px;font-size:18.07px;line-height:21.7px">13.71</div>
<div class="tl" style="left:1392.9px;top:2568.1px;font-size:18.07px;line-height:21.7px">DIR</div>
<div class="t" style="left:1545px;top:2568.1px;font-size:18.07px;line-height:21.7px">68.44</div>
<div class="t" style="left:1631.3px;top:2568.1px;font-size:18.07px;line-height:21.7px">71.40</div>
<div class="t" style="left:1717px;top:2568.1px;font-size:18.07px;line-height:21.7px">57.67</div>
<div class="t" style="left:1803.3px;top:2568.1px;font-size:18.07px;line-height:21.7px">74.39</div>
<div class="t" style="left:1890.2px;top:2568.1px;font-size:18.07px;line-height:21.7px">0.3682</div>
<div class="t" style="left:1976.4px;top:2568.1px;font-size:18.07px;line-height:21.7px">0.2543</div>
<div class="t" style="left:2062.2px;top:2568.1px;font-size:18.07px;line-height:21.7px">0.4578</div>
<div class="t" style="left:2148.4px;top:2568.1px;font-size:18.07px;line-height:21.7px">0.3146</div>
<div class="t" style="left:2234.7px;top:2568.1px;font-size:18.07px;line-height:21.7px">16.33</div>
<div class="t" style="left:2321px;top:2568.1px;font-size:18.07px;line-height:21.7px">23.82</div>
<div class="t" style="left:2407.2px;top:2568.1px;font-size:18.07px;line-height:21.7px">16.04</div>
<div class="t" style="left:2493px;top:2568.1px;font-size:18.07px;line-height:21.7px">16.80</div>
<div class="tl" style="left:1392.9px;top:2588.4px;font-size:18.07px;line-height:21.7px">GSAT</div>
<div class="t" style="left:1545px;top:2588.4px;font-size:18.07px;line-height:21.7px">70.07</div>
<div class="t" style="left:1631.3px;top:2588.4px;font-size:18.07px;line-height:21.7px">72.51</div>
<div class="t" style="left:1717px;top:2588.4px;font-size:18.07px;line-height:21.7px">60.73</div>
<div class="t" style="left:1803.3px;top:2588.4px;font-size:18.07px;line-height:21.7px">56.96</div>
<div class="t" style="left:1890.2px;top:2588.4px;font-size:18.07px;line-height:21.7px">0.1418</div>
<div class="t" style="left:1976.4px;top:2588.4px;font-size:18.07px;line-height:21.7px">0.1066</div>
<div class="t" style="left:2062.2px;top:2588.4px;font-size:18.07px;line-height:21.7px">0.2101</div>
<div class="t" style="left:2148.4px;top:2588.4px;font-size:18.07px;line-height:21.7px">0.1038</div>
<div class="t" style="left:2234.7px;top:2588.4px;font-size:18.07px;line-height:21.7px">16.45</div>
<div class="t" style="left:2321px;top:2588.4px;font-size:18.07px;line-height:21.7px">20.18</div>
<div class="t" style="left:2407.2px;top:2588.4px;font-size:18.07px;line-height:21.7px">17.57</div>
<div class="t" style="left:2493px;top:2588.4px;font-size:18.07px;line-height:21.7px">13.52</div>
<div class="tl" style="left:1392.9px;top:2608.7px;font-size:18.07px;line-height:21.7px">GREA</div>
<div class="t" style="left:1545px;top:2608.7px;font-size:18.07px;line-height:21.7px">71.98</div>
<div class="t" style="left:1631.3px;top:2608.7px;font-size:18.07px;line-height:21.7px">70.76</div>
<div class="t" style="left:1717px;top:2608.7px;font-size:18.07px;line-height:21.7px">60.11</div>
<div class="t" style="left:1803.3px;top:2608.7px;font-size:18.07px;line-height:21.7px">60.96</div>
<div class="t" style="left:1890.2px;top:2608.7px;font-size:18.07px;line-height:21.7px">0.1691</div>
<div class="t" style="left:1976.4px;top:2608.7px;font-size:18.07px;line-height:21.7px">0.1157</div>
<div class="t" style="left:2062.2px;top:2608.7px;font-size:18.07px;line-height:21.7px">0.2100</div>
<div class="t" style="left:2148.4px;top:2608.7px;font-size:18.07px;line-height:21.7px">0.1273</div>
<div class="t" style="left:2234.7px;top:2608.7px;font-size:18.07px;line-height:21.7px">16.28</div>
<div class="t" style="left:2321px;top:2608.7px;font-size:18.07px;line-height:21.7px">20.23</div>
<div class="t" style="left:2407.2px;top:2608.7px;font-size:18.07px;line-height:21.7px">17.12</div>
<div class="t" style="left:2493px;top:2608.7px;font-size:18.07px;line-height:21.7px">13.82</div>
<div class="tl" style="left:1392.9px;top:2629.0px;font-size:18.07px;line-height:21.7px">CAL</div>
<div class="t" style="left:1545px;top:2629.0px;font-size:18.07px;line-height:21.7px">69.12</div>
<div class="t" style="left:1631.3px;top:2629.0px;font-size:18.07px;line-height:21.7px">72.49</div>
<div class="t" style="left:1717px;top:2629.0px;font-size:18.07px;line-height:21.7px">59.34</div>
<div class="t" style="left:1803.3px;top:2629.0px;font-size:18.07px;line-height:21.7px">56.16</div>
<div class="t" style="left:1890.2px;top:2629.0px;font-size:18.07px;line-height:21.7px">/</div>
<div class="t" style="left:1976.4px;top:2629.0px;font-size:18.07px;line-height:21.7px">/</div>
<div class="t" style="left:2062.2px;top:2629.0px;font-size:18.07px;line-height:21.7px">/</div>
<div class="t" style="left:2148.4px;top:2629.0px;font-size:18.07px;line-height:21.7px">/</div>
<div class="t" style="left:2234.7px;top:2629.0px;font-size:18.07px;line-height:21.7px">15.87</div>
<div class="t" style="left:2321px;top:2629.0px;font-size:18.07px;line-height:21.7px">18.62</div>
<div class="t" style="left:2407.2px;top:2629.0px;font-size:18.07px;line-height:21.7px">16.92</div>
<div class="t" style="left:2493px;top:2629.0px;font-size:18.07px;line-height:21.7px">13.01</div>
<div class="tl" style="left:1392.9px;top:2649.4px;font-size:18.07px;line-height:21.7px">DisC</div>
<div class="t" style="left:1545px;top:2649.4px;font-size:18.07px;line-height:21.7px">58.85</div>
<div class="t" style="left:1631.3px;top:2649.4px;font-size:18.07px;line-height:21.7px">64.82</div>
<div class="t" style="left:1717px;top:2649.4px;font-size:18.07px;line-height:21.7px">49.33</div>
<div class="t" style="left:1803.3px;top:2649.4px;font-size:18.07px;line-height:21.7px">74.11</div>
<div class="t" style="left:1890.2px;top:2649.4px;font-size:18.07px;line-height:21.7px">/</div>
<div class="t" style="left:1976.4px;top:2649.4px;font-size:18.07px;line-height:21.7px">/</div>
<div class="t" style="left:2062.2px;top:2649.4px;font-size:18.07px;line-height:21.7px">/</div>
<div class="t" style="left:2148.4px;top:2649.4px;font-size:18.07px;line-height:21.7px">/</div>
<div class="t" style="left:2234.7px;top:2649.4px;font-size:18.07px;line-height:21.7px">/</div>
<div class="t" style="left:2321px;top:2649.4px;font-size:18.07px;line-height:21.7px">/</div>
<div class="t" style="left:2407.2px;top:2649.4px;font-size:18.07px;line-height:21.7px">/</div>
<div class="t" style="left:2493px;top:2649.4px;font-size:18.07px;line-height:21.7px">/</div>
<div class="tl" style="left:1392.9px;top:2669.7px;font-size:18.07px;line-height:21.7px">MoleOOD</div>
<div class="t" style="left:1545px;top:2669.7px;font-size:18.07px;line-height:21.7px">69.39</div>
<div class="t" style="left:1631.3px;top:2669.7px;font-size:18.07px;line-height:21.7px">69.08</div>
<div class="t" style="left:1717px;top:2669.7px;font-size:18.07px;line-height:21.7px">58.63</div>
<div class="t" style="left:1803.3px;top:2669.7px;font-size:18.07px;line-height:21.7px">55.90</div>
<div class="t" style="left:1890.2px;top:2669.7px;font-size:18.07px;line-height:21.7px">0.2752</div>
<div class="t" style="left:1976.4px;top:2669.7px;font-size:18.07px;line-height:21.7px">0.1996</div>
<div class="t" style="left:2062.2px;top:2669.7px;font-size:18.07px;line-height:21.7px">0.3468</div>
<div class="t" style="left:2148.4px;top:2669.7px;font-size:18.07px;line-height:21.7px">0.2275</div>
<div class="t" style="left:2234.7px;top:2669.7px;font-size:18.07px;line-height:21.7px">12.90</div>
<div class="t" style="left:2321px;top:2669.7px;font-size:18.07px;line-height:21.7px">12.92</div>
<div class="t" style="left:2407.2px;top:2669.7px;font-size:18.07px;line-height:21.7px">12.64</div>
<div class="t" style="left:2493px;top:2669.7px;font-size:18.07px;line-height:21.7px">10.30</div>
<div class="tl" style="left:1392.9px;top:2690.0px;font-size:18.07px;line-height:21.7px">CIGA</div>
<div class="t" style="left:1545px;top:2690.0px;font-size:18.07px;line-height:21.7px">69.40</div>
<div class="t" style="left:1631.3px;top:2690.0px;font-size:18.07px;line-height:21.7px">71.65</div>
<div class="t" style="left:1717px;top:2690.0px;font-size:18.07px;line-height:21.7px">61.81</div>
<div class="t" style="left:1803.3px;top:2690.0px;font-size:18.07px;line-height:21.7px">73.62</div>
<div class="t" style="left:1890.2px;top:2690.0px;font-size:18.07px;line-height:21.7px">/</div>
<div class="t" style="left:1976.4px;top:2690.0px;font-size:18.07px;line-height:21.7px">/</div>
<div class="t" style="left:2062.2px;top:2690.0px;font-size:18.07px;line-height:21.7px">/</div>
<div class="t" style="left:2148.4px;top:2690.0px;font-size:18.07px;line-height:21.7px">/</div>
<div class="t" style="left:2234.7px;top:2690.0px;font-size:18.07px;line-height:21.7px">/</div>
<div class="t" style="left:2321px;top:2690.0px;font-size:18.07px;line-height:21.7px">/</div>
<div class="t" style="left:2407.2px;top:2690.0px;font-size:18.07px;line-height:21.7px">/</div>
<div class="t" style="left:2493px;top:2690.0px;font-size:18.07px;line-height:21.7px">/</div>
<div class="tl" style="left:1392.9px;top:2710.4px;font-size:18.07px;line-height:21.7px">iMoLD</div>
<div class="t" style="left:1545px;top:2710.4px;font-size:18.07px;line-height:21.7px">72.93</div>
<div class="t" style="left:1631.3px;top:2710.4px;font-size:18.07px;line-height:21.7px">74.32</div>
<div class="t" style="left:1717px;top:2710.4px;font-size:18.07px;line-height:21.7px">62.86</div>
<div class="t" style="left:1803.3px;top:2710.4px;font-size:18.07px;line-height:21.7px">77.43</div>
<div class="t" style="left:1890.2px;top:2710.4px;font-size:18.07px;line-height:21.7px">0.1410</div>
<div class="t" style="left:1976.4px;top:2710.4px;font-size:18.07px;line-height:21.7px">0.1014</div>
<div class="t" style="left:2062.2px;top:2710.4px;font-size:18.07px;line-height:21.7px">0.1863</div>
<div class="t" style="left:2148.4px;top:2710.4px;font-size:18.07px;line-height:21.7px">0.1029</div>
<div class="t" style="left:2234.7px;top:2710.4px;font-size:18.07px;line-height:21.7px">17.32</div>
<div class="t" style="left:2321px;top:2710.4px;font-size:18.07px;line-height:21.7px">22.58</div>
<div class="t" style="left:2407.2px;top:2710.4px;font-size:18.07px;line-height:21.7px">18.02</div>
<div class="t" style="left:2493px;top:2710.4px;font-size:18.07px;line-height:21.7px">18.21</div>
<div class="tl" style="left:1392.9px;top:2730.7px;font-size:18.07px;line-height:21.7px;font-weight:bold">Ours (CFD)</div>
<div class="t" style="left:1545px;top:2730.7px;font-size:18.07px;line-height:21.7px;font-weight:bold">76.42</div>
<div class="t" style="left:1631.3px;top:2730.7px;font-size:18.07px;line-height:21.7px;font-weight:bold">77.83</div>
<div class="t" style="left:1717px;top:2730.7px;font-size:18.07px;line-height:21.7px;font-weight:bold">64.14</div>
<div class="t" style="left:1803.3px;top:2730.7px;font-size:18.07px;line-height:21.7px;font-weight:bold">79.28</div>
<div class="t" style="left:1890.2px;top:2730.7px;font-size:18.07px;line-height:21.7px;font-weight:bold">0.1187</div>
<div class="t" style="left:1976.4px;top:2730.7px;font-size:18.07px;line-height:21.7px;font-weight:bold">0.0765</div>
<div class="t" style="left:2062.2px;top:2730.7px;font-size:18.07px;line-height:21.7px;font-weight:bold">0.1421</div>
<div class="t" style="left:2148.4px;top:2730.7px;font-size:18.07px;line-height:21.7px;font-weight:bold">0.0852</div>
<div class="t" style="left:2234.7px;top:2730.7px;font-size:18.07px;line-height:21.7px;font-weight:bold">19.78</div>
<div class="t" style="left:2321px;top:2730.7px;font-size:18.07px;line-height:21.7px;font-weight:bold">25.64</div>
<div class="t" style="left:2407.2px;top:2730.7px;font-size:18.07px;line-height:21.7px;font-weight:bold">19.18</div>
<div class="t" style="left:2493px;top:2730.7px;font-size:18.07px;line-height:21.7px;font-weight:bold">20.03</div>
<!-- p_fig1 -->
<svg width="3857" height="2870" viewBox="0 0 3857 2870" style="pointer-events:none"><defs><symbol id="mol" viewBox="120 102 1210 768" preserveAspectRatio="none" overflow="visible"><line x1="165" y1="345" x2="225" y2="262" stroke="#222" stroke-width="1.55" vector-effect="non-scaling-stroke" stroke-linecap="round"/><line x1="225" y1="262" x2="300" y2="295" stroke="#3388cc" stroke-width="1.55" vector-effect="non-scaling-stroke" stroke-linecap="round"/><line x1="332" y1="340" x2="322" y2="455" stroke="#222" stroke-width="1.55" vector-effect="non-scaling-stroke" stroke-linecap="round"/><line x1="322" y1="455" x2="200" y2="480" stroke="#222" stroke-width="1.55" vector-effect="non-scaling-stroke" stroke-linecap="round"/><line x1="200" y1="480" x2="158" y2="395" stroke="#3388cc" stroke-width="1.55" vector-effect="non-scaling-stroke" stroke-linecap="round"/><circle cx="245" cy="378" r="60" fill="none" stroke="#222" stroke-width="1.55" vector-effect="non-scaling-stroke"/><line x1="365" y1="295" x2="445" y2="250" stroke="#222" stroke-width="1.55" vector-effect="non-scaling-stroke" stroke-linecap="round"/><line x1="445" y1="250" x2="550" y2="318" stroke="#222" stroke-width="1.55" vector-effect="non-scaling-stroke" stroke-linecap="round"/><line x1="550" y1="318" x2="628" y2="270" stroke="#222" stroke-width="1.55" vector-effect="non-scaling-stroke" stroke-linecap="round"/><line x1="562" y1="340" x2="640" y2="292" stroke="#3388cc" stroke-width="1.55" vector-effect="non-scaling-stroke" stroke-linecap="round"/><line x1="685" y1="268" x2="725" y2="292" stroke="#3388cc" stroke-width="1.55" vector-effect="non-scaling-stroke" stroke-linecap="round"/><line x1="725" y1="292" x2="745" y2="303" stroke="#e05a5a" stroke-width="1.55" vector-effect="non-scaling-stroke" stroke-linecap="round"/><line x1="795" y1="300" x2="875" y2="250" stroke="#222" stroke-width="1.55" vector-effect="non-scaling-stroke" stroke-linecap="round"/><line x1="875" y1="250" x2="980" y2="318" stroke="#222" stroke-width="1.55" vector-effect="non-scaling-stroke" stroke-linecap="round"/><line x1="550" y1="318" x2="550" y2="455" stroke="#222" stroke-width="1.55" vector-effect="non-scaling-stroke" stroke-linecap="round"/><line x1="550" y1="455" x2="662" y2="518" stroke="#222" stroke-width="1.55" vector-effect="non-scaling-stroke" stroke-linecap="round"/><line x1="662" y1="518" x2="662" y2="650" stroke="#222" stroke-width="1.55" vector-effect="non-scaling-stroke" stroke-linecap="round"/><line x1="662" y1="650" x2="550" y2="713" stroke="#222" stroke-width="1.55" vector-effect="non-scaling-stroke" stroke-linecap="round"/><line x1="550" y1="713" x2="440" y2="650" stroke="#222" stroke-width="1.55" vector-effect="non-scaling-stroke" stroke-linecap="round"/><line x1="440" y1="650" x2="440" y2="518" stroke="#222" stroke-width="1.55" vector-effect="non-scaling-stroke" stroke-linecap="round"/><line x1="440" y1="518" x2="550" y2="455" stroke="#222" stroke-width="1.55" vector-effect="non-scaling-stroke" stroke-linecap="round"/><circle cx="550" cy="583" r="84" fill="none" stroke="#222" stroke-width="1.55" vector-effect="non-scaling-stroke"/><line x1="440" y1="518" x2="418" y2="487" stroke="#222" stroke-width="1.55" vector-effect="non-scaling-stroke" stroke-linecap="round"/><line x1="418" y1="487" x2="395" y2="452" stroke="#22a68a" stroke-width="1.55" vector-effect="non-scaling-stroke" stroke-linecap="round"/><line x1="550" y1="713" x2="550" y2="760" stroke="#222" stroke-width="1.55" vector-effect="non-scaling-stroke" stroke-linecap="round"/><line x1="550" y1="760" x2="550" y2="805" stroke="#22a68a" stroke-width="1.55" vector-effect="non-scaling-stroke" stroke-linecap="round"/><line x1="1088" y1="255" x2="1195" y2="320" stroke="#222" stroke-width="1.55" vector-effect="non-scaling-stroke" stroke-linecap="round"/><line x1="1195" y1="320" x2="1195" y2="455" stroke="#222" stroke-width="1.55" vector-effect="non-scaling-stroke" stroke-linecap="round"/><line x1="1195" y1="455" x2="1088" y2="518" stroke="#222" stroke-width="1.55" vector-effect="non-scaling-stroke" stroke-linecap="round"/><line x1="1088" y1="518" x2="980" y2="455" stroke="#222" stroke-width="1.55" vector-effect="non-scaling-stroke" stroke-linecap="round"/><line x1="980" y1="455" x2="980" y2="318" stroke="#222" stroke-width="1.55" vector-effect="non-scaling-stroke" stroke-linecap="round"/><line x1="980" y1="318" x2="1088" y2="255" stroke="#222" stroke-width="1.55" vector-effect="non-scaling-stroke" stroke-linecap="round"/><circle cx="1088" cy="385" r="82" fill="none" stroke="#222" stroke-width="1.55" vector-effect="non-scaling-stroke"/><line x1="1088" y1="255" x2="1088" y2="205" stroke="#222" stroke-width="1.55" vector-effect="non-scaling-stroke" stroke-linecap="round"/><line x1="1088" y1="205" x2="1088" y2="160" stroke="#22a68a" stroke-width="1.55" vector-effect="non-scaling-stroke" stroke-linecap="round"/><line x1="1195" y1="455" x2="1235" y2="478" stroke="#222" stroke-width="1.55" vector-effect="non-scaling-stroke" stroke-linecap="round"/><line x1="1235" y1="478" x2="1268" y2="497" stroke="#22a68a" stroke-width="1.55" vector-effect="non-scaling-stroke" stroke-linecap="round"/><text x="140" y="388" font-size="62" class="sans" fill="#3388cc" text-anchor="middle">N</text><text x="338" y="345" font-size="62" class="sans" fill="#3388cc" text-anchor="middle">N</text><text x="660" y="277" font-size="62" class="sans" fill="#3388cc" text-anchor="middle">N</text><text x="765" y="342" font-size="62" class="sans" fill="#e05a5a" text-anchor="middle">O</text><text x="368" y="437" font-size="62" class="sans" fill="#22a68a" text-anchor="middle">Cl</text><text x="552" y="870" font-size="62" class="sans" fill="#22a68a" text-anchor="middle">Cl</text><text x="1088" y="147" font-size="62" class="sans" fill="#22a68a" text-anchor="middle">Cl</text><text x="1303" y="540" font-size="62" class="sans" fill="#22a68a" text-anchor="middle">Cl</text></symbol></defs>
<use href="#mol" x="113.5" y="1162.5" width="115.9" height="69.1"/>
<line x1="236" y1="1196.7" x2="260" y2="1196.7" stroke="#000" stroke-width="2"/><polygon points="268,1196.7 259,1200.2 259,1193.2" fill="#000"/>
<rect x="274.7" y="1170" width="81.8" height="53" rx="7" fill="#fbe5d6" stroke="#f4a27a" stroke-width="2"/>
<text x="315.6" y="1190.7" font-size="17.3" text-anchor="middle" >Subgraph</text>
<text x="315.6" y="1211.7" font-size="17.3" text-anchor="middle" >Generator</text>
<line x1="362" y1="1191.7" x2="398.1" y2="1165.2" stroke="#000" stroke-width="2.2"/><polygon points="404.5,1160.5 399.3,1168.6 395.2,1163" fill="#000"/>
<line x1="362.6" y1="1197.5" x2="398.6" y2="1218.6" stroke="#000" stroke-width="2.2"/><polygon points="405.5,1222.6 396,1221.1 399.5,1215" fill="#000"/>
<text x="450.4" y="1117" font-size="17.35" text-anchor="middle" >Spurious Subgraph</text>
<text x="457.4" y="1289.5" font-size="17.35" text-anchor="middle" >Generalized Subgraph</text>
<text x="644.5" y="1117.5" font-size="17.35" text-anchor="middle" >Spurious Feature</text>
<text x="629.2" y="1288.5" font-size="17.35" text-anchor="middle" >Generalized Feature</text>
<g transform="translate(80,1085) scale(0.2793)" fill="none" stroke="#222" stroke-width="5" stroke-linecap="round">
<polygon points="1253,175 1305,205 1305,265 1253,295 1200,265 1200,205"/><circle cx="1253" cy="235" r="40"/>
<path d="M1200 205 L1170 188" stroke="#22a68a"/><path d="M1305 205 L1338 186" stroke="#22a68a"/>
<path d="M1305 265 L1355 292 L1405 265 L1440 288"/><path d="M1350 292 L1350 335 M1362 292 L1362 335" stroke="#3388cc"/>
<path d="M1462 280 L1505 268 L1545 315 L1515 352 L1462 348 Z"/><circle cx="1500" cy="315" r="28"/>
</g>
<g transform="translate(80,1085) scale(0.2793)" class="sans" font-size="26" text-anchor="middle">
<text x="1152" y="187" fill="#22a68a">Cl</text><text x="1353" y="187" fill="#22a68a">Cl</text><text x="1362" y="360" fill="#3388cc">NH</text><text x="1452" y="302" fill="#3388cc">N</text><text x="1515" y="374" fill="#3388cc">N</text></g>
<g transform="translate(80,1085) scale(0.2793)" fill="none" stroke="#222" stroke-width="5" stroke-linecap="round">
<polygon points="1398,540 1450,570 1450,632 1398,662 1345,632 1345,570"/><circle cx="1398" cy="601" r="41"/>
<path d="M1398 540 L1398 495" stroke="#22a68a"/><path d="M1450 632 L1490 655" stroke="#22a68a"/>
<path d="M1345 570 L1295 540 L1255 562"/><path d="M1225 560 L1195 545" stroke="#3388cc"/>
</g>
<g transform="translate(80,1085) scale(0.2793)" class="sans" font-size="26" text-anchor="middle">
<text x="1398" y="486" fill="#22a68a">Cl</text><text x="1506" y="670" fill="#22a68a">Cl</text><text x="1238" y="580" fill="#e05a5a" font-size="30">O</text><text x="1168" y="548" fill="#3388cc" font-size="24">H&#8322;N</text></g>
<line x1="514.5" y1="1149.2" x2="538.5" y2="1149.2" stroke="#000" stroke-width="2.2"/><polygon points="546.5,1149.2 537.5,1152.7 537.5,1145.7" fill="#000"/>
<line x1="602.3" y1="1149.2" x2="626.5" y2="1149.2" stroke="#000" stroke-width="2.2"/><polygon points="634.5,1149.2 625.5,1152.7 625.5,1145.7" fill="#000"/>
<line x1="514.5" y1="1240.8" x2="538.5" y2="1240.8" stroke="#000" stroke-width="2.2"/><polygon points="546.5,1240.8 537.5,1244.3 537.5,1237.3" fill="#000"/>
<line x1="602.3" y1="1240.8" x2="626.5" y2="1240.8" stroke="#000" stroke-width="2.2"/><polygon points="634.5,1240.8 625.5,1244.3 625.5,1237.3" fill="#000"/>
<rect x="552.6" y="1133" width="46.1" height="33" rx="6" fill="#e2f0d9" stroke="#7dc463" stroke-width="2"/>
<text x="575.6" y="1156" font-size="17.4" text-anchor="middle" >GNN</text>
<rect x="551.2" y="1224.6" width="46.1" height="32.7" rx="6" fill="#e2f0d9" stroke="#7dc463" stroke-width="2"/>
<text x="574.2" y="1247.5" font-size="17.4" text-anchor="middle" >GNN</text>
<rect x="638.6" y="1128" width="21.2" height="42" fill="#c5e3f6" stroke="#1b6590" stroke-width="2"/><line x1="638.6" y1="1142" x2="659.8" y2="1142" stroke="#1b6590" stroke-width="2"/><line x1="638.6" y1="1156" x2="659.8" y2="1156" stroke="#1b6590" stroke-width="2"/>
<rect x="638.6" y="1219.8" width="21.2" height="41.7" fill="#b9a0d4" stroke="#7030a0" stroke-width="2"/><line x1="638.6" y1="1233.7" x2="659.8" y2="1233.7" stroke="#7030a0" stroke-width="2"/><line x1="638.6" y1="1247.6" x2="659.8" y2="1247.6" stroke="#7030a0" stroke-width="2"/>
<text x="407" y="1319" font-size="20.4" text-anchor="middle" >(a) First-Separation-Then-Encoding</text>
<use href="#mol" x="113.5" y="1383" width="115.9" height="68.6"/>
<line x1="230.3" y1="1407" x2="306" y2="1407" stroke="#000" stroke-width="2.2" />
<line x1="300" y1="1407" x2="307.5" y2="1407" stroke="#000" stroke-width="2.2"/><polygon points="315.5,1407 306.5,1410.5 306.5,1403.5" fill="#000"/>
<path d="M266.6 1407 L266.6 1354.5 L505.7 1354.5" fill="none" stroke="#000" stroke-width="2.2" stroke-linejoin="miter"/><polygon points="513.7,1354.5 504.7,1358 504.7,1351" fill="#000"/>
<rect x="519" y="1338.6" width="58.7" height="31.8" rx="6" fill="#fbe5d6" stroke="#f4a27a" stroke-width="2"/>
<text x="548.3" y="1360.5" font-size="17.4" text-anchor="middle" >Scorer</text>
<rect x="322.4" y="1391.7" width="46.6" height="32.9" rx="6" fill="#e2f0d9" stroke="#7dc463" stroke-width="2"/>
<text x="345.7" y="1414.5" font-size="17.4" text-anchor="middle" >GNN</text>
<line x1="376" y1="1407" x2="425.5" y2="1407" stroke="#000" stroke-width="2.2"/><polygon points="433.5,1407 424.5,1410.5 424.5,1403.5" fill="#000"/>
<rect x="441.7" y="1386.8" width="20.9" height="41.7" fill="#e9e9e9" stroke="#808080" stroke-width="2"/><line x1="441.7" y1="1400.7" x2="462.6" y2="1400.7" stroke="#808080" stroke-width="2"/><line x1="441.7" y1="1414.6" x2="462.6" y2="1414.6" stroke="#808080" stroke-width="2"/>
<line x1="471.8" y1="1407" x2="524" y2="1407" stroke="#000" stroke-width="2.2"/><polygon points="532,1407 523,1410.5 523,1403.5" fill="#000"/>
<circle cx="547" cy="1408" r="7.8" fill="#000"/>
<line x1="547.8" y1="1373.2" x2="547.8" y2="1389.6" stroke="#000" stroke-width="2"/><polygon points="547.8,1396.6 544.5,1388.6 551,1388.6" fill="#000"/>
<line x1="561.8" y1="1404.8" x2="625.5" y2="1381.3" stroke="#000" stroke-width="2.2"/><polygon points="633,1378.5 625.8,1384.9 623.3,1378.3" fill="#000"/>
<line x1="562.3" y1="1411.2" x2="625.5" y2="1433.5" stroke="#000" stroke-width="2.2"/><polygon points="633,1436.2 623.3,1436.5 625.7,1429.9" fill="#000"/>
<rect x="638.6" y="1356.6" width="21.2" height="41.8" fill="#c5e3f6" stroke="#1b6590" stroke-width="2"/><line x1="638.6" y1="1370.5" x2="659.8" y2="1370.5" stroke="#1b6590" stroke-width="2"/><line x1="638.6" y1="1384.5" x2="659.8" y2="1384.5" stroke="#1b6590" stroke-width="2"/>
<rect x="638.6" y="1414.2" width="21.2" height="42.3" fill="#b9a0d4" stroke="#7030a0" stroke-width="2"/><line x1="638.6" y1="1428.3" x2="659.8" y2="1428.3" stroke="#7030a0" stroke-width="2"/><line x1="638.6" y1="1442.4" x2="659.8" y2="1442.4" stroke="#7030a0" stroke-width="2"/>
<text x="653.5" y="1348.5" font-size="17.35" text-anchor="middle" >Spurious Feature</text>
<text x="643.2" y="1473.3" font-size="17.35" text-anchor="middle" >Generalized Feature</text>
<text x="407.5" y="1500" font-size="20.4" text-anchor="middle" >(b) First-Encoding-Then-Separation</text>
<line x1="722" y1="1104.5" x2="722" y2="1509.5" stroke="#000" stroke-width="2.2" stroke-dasharray="10 7"/>
<use href="#mol" x="728.9" y="1097" width="138.2" height="84.4"/>
<use href="#mol" x="903.4" y="1098.4" width="139.6" height="84.4"/>
<use href="#mol" x="1135" y="1097" width="138.2" height="84.4"/>
<text x="1086.5" y="1132" font-size="22" text-anchor="middle" >&#8230;</text>
<line x1="801.5" y1="1181.4" x2="801.5" y2="1197.8" stroke="#000" stroke-width="2"/><polygon points="801.5,1204.8 798.2,1196.8 804.8,1196.8" fill="#000"/>
<rect x="778.3" y="1209.3" width="46.4" height="32.1" rx="6" fill="#e2f0d9" stroke="#7dc463" stroke-width="2"/>
<text x="801.5" y="1232.3" font-size="17.4" text-anchor="middle" >GNN</text>
<line x1="801.5" y1="1244.8" x2="801.5" y2="1261.2" stroke="#000" stroke-width="2"/><polygon points="801.5,1268.2 798.2,1260.2 804.8,1260.2" fill="#000"/>
<rect x="792" y="1271.5" width="21" height="41.1" fill="#e9e9e9" stroke="#808080" stroke-width="2"/><line x1="792" y1="1285.2" x2="813" y2="1285.2" stroke="#808080" stroke-width="2"/><line x1="792" y1="1298.9" x2="813" y2="1298.9" stroke="#808080" stroke-width="2"/>
<line x1="801.5" y1="1315.4" x2="801.5" y2="1331.8" stroke="#000" stroke-width="2"/><polygon points="801.5,1338.8 798.2,1330.8 804.8,1330.8" fill="#000"/>
<rect x="757" y="1342.5" width="96.9" height="46.1" rx="8" fill="#fff2cc" stroke="#ffd044" stroke-width="2"/>
<text x="803.5" y="1362.5" font-size="17.4" text-anchor="middle" >Variational</text>
<text x="806.5" y="1383.5" font-size="17.4" text-anchor="middle" >Disentangle</text>
<line x1="807.6" y1="1392.2" x2="772.5" y2="1408.4" stroke="#000" stroke-width="2.2"/><polygon points="765.2,1411.8 771.9,1404.8 774.8,1411.2" fill="#000"/>
<line x1="807.6" y1="1392.2" x2="841.8" y2="1408.4" stroke="#000" stroke-width="2.2"/><polygon points="849,1411.8 839.4,1411.1 842.4,1404.8" fill="#000"/>
<rect x="753.5" y="1415.6" width="20.9" height="41.4" fill="#c5e3f6" stroke="#1b6590" stroke-width="2"/><line x1="753.5" y1="1429.4" x2="774.4" y2="1429.4" stroke="#1b6590" stroke-width="2"/><line x1="753.5" y1="1443.2" x2="774.4" y2="1443.2" stroke="#1b6590" stroke-width="2"/>
<rect x="839.8" y="1415.6" width="21.2" height="41.4" fill="#b9a0d4" stroke="#7030a0" stroke-width="2"/><line x1="839.8" y1="1429.4" x2="861" y2="1429.4" stroke="#7030a0" stroke-width="2"/><line x1="839.8" y1="1443.2" x2="861" y2="1443.2" stroke="#7030a0" stroke-width="2"/>
<line x1="977" y1="1182.8" x2="977" y2="1199.2" stroke="#000" stroke-width="2"/><polygon points="977,1206.2 973.8,1198.2 980.2,1198.2" fill="#000"/>
<rect x="953.8" y="1210.7" width="46.4" height="32.1" rx="6" fill="#e2f0d9" stroke="#7dc463" stroke-width="2"/>
<text x="977" y="1233.7" font-size="17.4" text-anchor="middle" >GNN</text>
<line x1="977" y1="1246.2" x2="977" y2="1262.6" stroke="#000" stroke-width="2"/><polygon points="977,1269.6 973.8,1261.6 980.2,1261.6" fill="#000"/>
<rect x="967.5" y="1272.9" width="21" height="41.1" fill="#e9e9e9" stroke="#808080" stroke-width="2"/><line x1="967.5" y1="1286.6" x2="988.5" y2="1286.6" stroke="#808080" stroke-width="2"/><line x1="967.5" y1="1300.3" x2="988.5" y2="1300.3" stroke="#808080" stroke-width="2"/>
<line x1="977" y1="1316.8" x2="977" y2="1333.2" stroke="#000" stroke-width="2"/><polygon points="977,1340.2 973.8,1332.2 980.2,1332.2" fill="#000"/>
<rect x="932.5" y="1343.9" width="96.9" height="46.1" rx="8" fill="#fff2cc" stroke="#ffd044" stroke-width="2"/>
<text x="979" y="1363.9" font-size="17.4" text-anchor="middle" >Variational</text>
<text x="982" y="1384.9" font-size="17.4" text-anchor="middle" >Disentangle</text>
<line x1="983.1" y1="1393.6" x2="948" y2="1409.8" stroke="#000" stroke-width="2.2"/><polygon points="940.7,1413.2 947.4,1406.2 950.3,1412.6" fill="#000"/>
<line x1="983.1" y1="1393.6" x2="1017.3" y2="1409.8" stroke="#000" stroke-width="2.2"/><polygon points="1024.5,1413.2 1014.9,1412.5 1017.9,1406.2" fill="#000"/>
<rect x="929" y="1417" width="20.9" height="41.4" fill="#c5e3f6" stroke="#1b6590" stroke-width="2"/><line x1="929" y1="1430.8" x2="949.9" y2="1430.8" stroke="#1b6590" stroke-width="2"/><line x1="929" y1="1444.6" x2="949.9" y2="1444.6" stroke="#1b6590" stroke-width="2"/>
<rect x="1015.3" y="1417" width="21.2" height="41.4" fill="#b9a0d4" stroke="#7030a0" stroke-width="2"/><line x1="1015.3" y1="1430.8" x2="1036.5" y2="1430.8" stroke="#7030a0" stroke-width="2"/><line x1="1015.3" y1="1444.6" x2="1036.5" y2="1444.6" stroke="#7030a0" stroke-width="2"/>
<line x1="1208.7" y1="1181.4" x2="1208.7" y2="1197.8" stroke="#000" stroke-width="2"/><polygon points="1208.7,1204.8 1205.5,1196.8 1212,1196.8" fill="#000"/>
<rect x="1185.5" y="1209.3" width="46.4" height="32.1" rx="6" fill="#e2f0d9" stroke="#7dc463" stroke-width="2"/>
<text x="1208.7" y="1232.3" font-size="17.4" text-anchor="middle" >GNN</text>
<line x1="1208.7" y1="1244.8" x2="1208.7" y2="1261.2" stroke="#000" stroke-width="2"/><polygon points="1208.7,1268.2 1205.5,1260.2 1212,1260.2" fill="#000"/>
<rect x="1199.2" y="1271.5" width="21" height="41.1" fill="#e9e9e9" stroke="#808080" stroke-width="2"/><line x1="1199.2" y1="1285.2" x2="1220.2" y2="1285.2" stroke="#808080" stroke-width="2"/><line x1="1199.2" y1="1298.9" x2="1220.2" y2="1298.9" stroke="#808080" stroke-width="2"/>
<line x1="1208.7" y1="1315.4" x2="1208.7" y2="1331.8" stroke="#000" stroke-width="2"/><polygon points="1208.7,1338.8 1205.5,1330.8 1212,1330.8" fill="#000"/>
<rect x="1164.2" y="1342.5" width="96.9" height="46.1" rx="8" fill="#fff2cc" stroke="#ffd044" stroke-width="2"/>
<text x="1210.7" y="1362.5" font-size="17.4" text-anchor="middle" >Variational</text>
<text x="1213.7" y="1383.5" font-size="17.4" text-anchor="middle" >Disentangle</text>
<line x1="1214.8" y1="1392.2" x2="1179.7" y2="1408.4" stroke="#000" stroke-width="2.2"/><polygon points="1172.4,1411.8 1179.1,1404.8 1182,1411.2" fill="#000"/>
<line x1="1214.8" y1="1392.2" x2="1249" y2="1408.4" stroke="#000" stroke-width="2.2"/><polygon points="1256.2,1411.8 1246.6,1411.1 1249.6,1404.8" fill="#000"/>
<rect x="1160.7" y="1415.6" width="20.9" height="41.4" fill="#c5e3f6" stroke="#1b6590" stroke-width="2"/><line x1="1160.7" y1="1429.4" x2="1181.6" y2="1429.4" stroke="#1b6590" stroke-width="2"/><line x1="1160.7" y1="1443.2" x2="1181.6" y2="1443.2" stroke="#1b6590" stroke-width="2"/>
<rect x="1247" y="1415.6" width="21.2" height="41.4" fill="#b9a0d4" stroke="#7030a0" stroke-width="2"/><line x1="1247" y1="1429.4" x2="1268.2" y2="1429.4" stroke="#7030a0" stroke-width="2"/><line x1="1247" y1="1443.2" x2="1268.2" y2="1443.2" stroke="#7030a0" stroke-width="2"/>
<path d="M864.3 1437 L894.5 1437 L894.5 1316.6" fill="none" stroke="#000" stroke-width="2.2" stroke-linejoin="miter"/><polygon points="894.5,1308.6 898,1317.6 891,1317.6" fill="#000"/>
<path d="M1039 1437.5 L1068.8 1437.5 L1068.8 1316.6" fill="none" stroke="#000" stroke-width="2.2" stroke-linejoin="miter"/><polygon points="1068.8,1308.6 1072.3,1317.6 1065.3,1317.6" fill="#000"/>
<rect x="856.8" y="1274" width="73.2" height="32.2" rx="6" fill="#fbe5d6" stroke="#f4a27a" stroke-width="2"/>
<text x="893.5" y="1296.5" font-size="17.4" text-anchor="middle" >Concept</text>
<rect x="1032.5" y="1273.5" width="73.2" height="32.1" rx="6" fill="#fbe5d6" stroke="#f4a27a" stroke-width="2"/>
<text x="1069.2" y="1296" font-size="17.4" text-anchor="middle" >Concept</text>
<text x="891.8" y="1268.5" font-size="17.4" text-anchor="middle" >Feedback</text>
<text x="1067" y="1268.5" font-size="17.4" text-anchor="middle" >Feedback</text>
<line x1="932.8" y1="1288.3" x2="957.2" y2="1288.3" stroke="#000" stroke-width="2.2"/><polygon points="965.2,1288.3 956.2,1291.8 956.2,1284.8" fill="#000"/>
<line x1="1108" y1="1288.3" x2="1132.5" y2="1288.3" stroke="#000" stroke-width="2.2"/><polygon points="1140.5,1288.3 1131.5,1291.8 1131.5,1284.8" fill="#000"/>
<text x="1152.5" y="1292" font-size="20" text-anchor="middle" >&#8230;</text>
<line x1="1165" y1="1288.3" x2="1189.5" y2="1288.3" stroke="#000" stroke-width="2.2"/><polygon points="1197.5,1288.3 1188.5,1291.8 1188.5,1284.8" fill="#000"/>
<text x="808" y="1476" font-size="17.4" text-anchor="middle" >Iteration 0</text>
<text x="983" y="1476" font-size="17.4" text-anchor="middle" >Iteration 1</text>
<text x="1219.5" y="1476" font-size="17.4" text-anchor="middle" >Iteration <tspan font-style="italic">T</tspan></text>
<text x="1018" y="1500" font-size="20.4" text-anchor="middle" >(c) Concept-Enhanced Feedback Disentanglement</text>
</svg>
<!-- p_fig2 -->
<svg width="3857" height="2870" viewBox="0 0 3857 2870" style="pointer-events:none"><defs>
<radialGradient id="gsg"><stop offset="0" stop-color="#3f7ae8" stop-opacity=".95"/><stop offset=".6" stop-color="#3d55d8" stop-opacity=".5"/><stop offset="1" stop-color="#3c2fb8" stop-opacity="0"/></radialGradient>
<clipPath id="clipR"><rect x="1100" y="2230" width="181.7" height="140"/></clipPath>
<linearGradient id="gs1" x1="0" y1="0" x2="0" y2="1"><stop offset="0" stop-color="#3c2fb8"/><stop offset="1" stop-color="#3a24b0"/></linearGradient>
<linearGradient id="gs2" x1="0" y1="0" x2="0" y2="1"><stop offset="0" stop-color="#3c35c0"/><stop offset="1" stop-color="#3a24b0"/></linearGradient>
<linearGradient id="gb1" x1="0" y1="0" x2="0" y2="1"><stop offset="0" stop-color="#f6e21c"/><stop offset=".22" stop-color="#d9c433"/><stop offset=".38" stop-color="#3fc0a0"/><stop offset=".6" stop-color="#2a9fd8"/><stop offset=".85" stop-color="#3d55d8"/><stop offset="1" stop-color="#3c2fb8"/></linearGradient>
<linearGradient id="gb2" x1="0" y1="0" x2="0" y2="1"><stop offset="0" stop-color="#f8d820"/><stop offset=".25" stop-color="#e0c030"/><stop offset=".42" stop-color="#40c0a0"/><stop offset=".62" stop-color="#2aa0d8"/><stop offset=".85" stop-color="#3d55d8"/><stop offset="1" stop-color="#3c2fb8"/></linearGradient>
<radialGradient id="glP"><stop offset="0" stop-color="#7030a0" stop-opacity=".75"/><stop offset=".55" stop-color="#7030a0" stop-opacity=".4"/><stop offset="1" stop-color="#7030a0" stop-opacity="0"/></radialGradient>
<radialGradient id="glG"><stop offset="0" stop-color="#00a550" stop-opacity=".85"/><stop offset=".55" stop-color="#00a550" stop-opacity=".5"/><stop offset="1" stop-color="#00a550" stop-opacity="0"/></radialGradient>
<radialGradient id="glO"><stop offset="0" stop-color="#e07038" stop-opacity=".8"/><stop offset=".55" stop-color="#e07038" stop-opacity=".45"/><stop offset="1" stop-color="#e07038" stop-opacity="0"/></radialGradient>
</defs>
<g><use href="#mol" x="97.4" y="2245.3" width="175.8" height="111.1"/></g>
<line x1="190" y1="2357.5" x2="190" y2="2379" stroke="#000" stroke-width="2.6"/><polygon points="190,2390 185.2,2378 194.8,2378" fill="#000"/>
<rect x="160.2" y="2394.8" width="59.5" height="45.2" rx="8" fill="#e2f0d9" stroke="#7dc463" stroke-width="2.6"/>
<text x="190" y="2424.8" font-size="21.7" text-anchor="middle" >GNN</text>
<line x1="190" y1="2442" x2="190" y2="2463.8" stroke="#000" stroke-width="2.6"/><polygon points="190,2474.8 185.2,2462.8 194.8,2462.8" fill="#000"/>
<rect x="177.3" y="2479" width="26.4" height="56" fill="#e9e9e9" stroke="#808080" stroke-width="2.6"/><line x1="177.3" y1="2497.7" x2="203.7" y2="2497.7" stroke="#808080" stroke-width="2.6"/><line x1="177.3" y1="2516.3" x2="203.7" y2="2516.3" stroke="#808080" stroke-width="2.6"/>
<line x1="190" y1="2538" x2="190" y2="2559.7" stroke="#000" stroke-width="2.6"/><polygon points="190,2570.7 185.2,2558.7 194.8,2558.7" fill="#000"/>
<rect x="133.7" y="2575" width="122" height="62.5" rx="10" fill="#fff2cc" stroke="#ffd044" stroke-width="2.6"/>
<text x="192.2" y="2601" font-size="21.7" text-anchor="middle" >Variational</text>
<text x="196.2" y="2629" font-size="21.7" text-anchor="middle" >Disentangle</text>
<line x1="196.9" y1="2642.5" x2="153.8" y2="2663.9" stroke="#000" stroke-width="3"/><polygon points="143.9,2668.8 152.5,2659.2 156.8,2667.7" fill="#000"/>
<line x1="196.9" y1="2642.5" x2="240.5" y2="2663.9" stroke="#000" stroke-width="3"/><polygon points="250.4,2668.8 237.5,2667.8 241.7,2659.2" fill="#000"/>
<rect x="128.7" y="2672.5" width="26.3" height="56.9" fill="#c5e3f6" stroke="#1b6590" stroke-width="2.6"/><line x1="128.7" y1="2691.5" x2="155" y2="2691.5" stroke="#1b6590" stroke-width="2.6"/><line x1="128.7" y1="2710.4" x2="155" y2="2710.4" stroke="#1b6590" stroke-width="2.6"/>
<rect x="237.7" y="2672.5" width="26.5" height="56.9" fill="#b9a0d4" stroke="#7030a0" stroke-width="2.6"/><line x1="237.7" y1="2691.5" x2="264.2" y2="2691.5" stroke="#7030a0" stroke-width="2.6"/><line x1="237.7" y1="2710.4" x2="264.2" y2="2710.4" stroke="#7030a0" stroke-width="2.6"/>
<g clip-path="url(#clipR)"><use href="#mol" x="1110.4" y="2245.3" width="174.8" height="111.1"/></g>
<line x1="1202.8" y1="2357.5" x2="1202.8" y2="2379" stroke="#000" stroke-width="2.6"/><polygon points="1202.8,2390 1198,2378 1207.5,2378" fill="#000"/>
<rect x="1173" y="2394.8" width="59.5" height="45.2" rx="8" fill="#e2f0d9" stroke="#7dc463" stroke-width="2.6"/>
<text x="1202.8" y="2424.8" font-size="21.7" text-anchor="middle" >GNN</text>
<line x1="1202.8" y1="2442" x2="1202.8" y2="2463.8" stroke="#000" stroke-width="2.6"/><polygon points="1202.8,2474.8 1198,2462.8 1207.5,2462.8" fill="#000"/>
<rect x="1190.7" y="2479" width="26.4" height="56" fill="#e9e9e9" stroke="#808080" stroke-width="2.6"/><line x1="1190.7" y1="2497.7" x2="1217.1" y2="2497.7" stroke="#808080" stroke-width="2.6"/><line x1="1190.7" y1="2516.3" x2="1217.1" y2="2516.3" stroke="#808080" stroke-width="2.6"/>
<line x1="1202.8" y1="2538" x2="1202.8" y2="2559.7" stroke="#000" stroke-width="2.6"/><polygon points="1202.8,2570.7 1198,2558.7 1207.5,2558.7" fill="#000"/>
<rect x="1146.2" y="2575" width="122" height="62.5" rx="10" fill="#fff2cc" stroke="#ffd044" stroke-width="2.6"/>
<text x="1204.7" y="2601" font-size="21.7" text-anchor="middle" >Variational</text>
<text x="1208.7" y="2629" font-size="21.7" text-anchor="middle" >Disentangle</text>
<line x1="1209.8" y1="2642.5" x2="1166.7" y2="2663.9" stroke="#000" stroke-width="3"/><polygon points="1156.8,2668.8 1165.4,2659.2 1169.7,2667.7" fill="#000"/>
<line x1="1209.8" y1="2642.5" x2="1253.4" y2="2663.9" stroke="#000" stroke-width="3"/><polygon points="1263.3,2668.8 1250.4,2667.8 1254.6,2659.2" fill="#000"/>
<rect x="1142.3" y="2672.5" width="26.3" height="56.9" fill="#c5e3f6" stroke="#1b6590" stroke-width="2.6"/><line x1="1142.3" y1="2691.5" x2="1168.6" y2="2691.5" stroke="#1b6590" stroke-width="2.6"/><line x1="1142.3" y1="2710.4" x2="1168.6" y2="2710.4" stroke="#1b6590" stroke-width="2.6"/>
<rect x="1251.3" y="2672.5" width="26.5" height="56.9" fill="#b9a0d4" stroke="#7030a0" stroke-width="2.6"/><line x1="1251.3" y1="2691.5" x2="1277.8" y2="2691.5" stroke="#7030a0" stroke-width="2.6"/><line x1="1251.3" y1="2710.4" x2="1277.8" y2="2710.4" stroke="#7030a0" stroke-width="2.6"/>
<text x="195.5" y="2754" font-size="21.7" text-anchor="middle" >Iteration <tspan font-style="italic">t</tspan></text>
<text x="1209.5" y="2754" font-size="21.7" text-anchor="middle" >Iteration <tspan font-style="italic">t</tspan>+1</text>
<rect x="327.8" y="2251.8" width="735.2" height="448.2" fill="none" stroke="#0d2743" stroke-width="1.7" stroke-dasharray="9.5 5 2 5"/>
<line x1="251.6" y1="2575" x2="328" y2="2254" stroke="#000" stroke-width="1.6" stroke-dasharray="9.5 5 2 5"/>
<line x1="252.7" y1="2632.7" x2="327" y2="2699.8" stroke="#000" stroke-width="1.6" stroke-dasharray="9.5 5 2 5"/>
<rect x="336.3" y="2473" width="25.7" height="56" fill="#e9e9e9" stroke="#808080" stroke-width="2.6"/><line x1="336.3" y1="2491.7" x2="362" y2="2491.7" stroke="#808080" stroke-width="2.6"/><line x1="336.3" y1="2510.3" x2="362" y2="2510.3" stroke="#808080" stroke-width="2.6"/>
<line x1="362" y1="2501" x2="383.2" y2="2501" stroke="#000" stroke-width="2.6" />
<line x1="383.2" y1="2350.4" x2="383.2" y2="2635.3" stroke="#000" stroke-width="2.6" />
<line x1="382" y1="2351.7" x2="395" y2="2351.7" stroke="#000" stroke-width="2.6"/><polygon points="405,2351.7 394,2356.2 394,2347.2" fill="#000"/>
<line x1="382" y1="2634" x2="395" y2="2634" stroke="#000" stroke-width="2.6"/><polygon points="405,2634 394,2638.5 394,2629.5" fill="#000"/>
<polygon points="406,2291.4 520,2321.7 520,2380.4 406,2412.2" fill="#fdfde3" stroke="#0d2743" stroke-width="1.8"/>
<polygon points="406,2574.2 520,2605.3 520,2665 406,2694.6" fill="#fdfde3" stroke="#0d2743" stroke-width="1.8"/>
<text x="464.2" y="2344.5" font-size="21.7" text-anchor="middle" >Spurious</text>
<text x="462" y="2372.5" font-size="21.7" text-anchor="middle" >Encoder</text>
<text x="463.5" y="2628.5" font-size="21.7" text-anchor="middle" >Generalized</text>
<text x="463.5" y="2657" font-size="21.7" text-anchor="middle" >Encoder</text>
<line x1="521" y1="2351" x2="564.1" y2="2313" stroke="#000" stroke-width="3"/><polygon points="572.4,2305.7 566.7,2317.4 560.1,2309.9" fill="#000"/>
<line x1="521" y1="2351" x2="566.9" y2="2382.1" stroke="#000" stroke-width="3"/><polygon points="576,2388.3 563.3,2385.7 568.9,2377.4" fill="#000"/>
<line x1="521" y1="2633.2" x2="564.2" y2="2595.1" stroke="#000" stroke-width="3"/><polygon points="572.4,2587.8 566.7,2599.5 560.1,2592" fill="#000"/>
<line x1="521" y1="2633.2" x2="566.9" y2="2664.2" stroke="#000" stroke-width="3"/><polygon points="576,2670.4 563.3,2667.8 568.9,2659.5" fill="#000"/>
<text x="581.5" y="2309" font-size="25" font-style="italic">&mu;</text><text x="595.5" y="2298.5" font-size="18" font-style="italic">Spu</text><text x="593.5" y="2316" font-size="18" font-style="italic">t</text>
<text x="582.5" y="2395" font-size="25" font-style="italic">&sigma;</text><text x="596.5" y="2384.5" font-size="18" font-style="italic">Spu</text><text x="594.5" y="2402" font-size="18" font-style="italic">t</text>
<text x="578.5" y="2592.5" font-size="25" font-style="italic">&mu;</text><text x="592.5" y="2582" font-size="18" font-style="italic">Gen</text><text x="590.5" y="2599.5" font-size="18" font-style="italic">t</text>
<text x="583" y="2678.5" font-size="25" font-style="italic">&sigma;</text><text x="597" y="2668" font-size="18" font-style="italic">Gen</text><text x="595" y="2685.5" font-size="18" font-style="italic">t</text>
<polygon points="614.8,2339.3 641,2339.3 641,2334.0 652.8,2345.5 641,2357.0 641,2351.7 614.8,2351.7" fill="#000"/>
<polygon points="614.8,2616.8 641,2616.8 641,2611.5 652.8,2623 641,2634.5 641,2629.2 614.8,2629.2" fill="#000"/>
<polygon points="654,2361.7 707,2317 799.5,2342.6 746.5,2387.4" fill="url(#gs1)"/><clipPath id="gc1"><polygon points="654,2361.7 707,2317 799.5,2342.6 746.5,2387.4"/></clipPath><ellipse clip-path="url(#gc1)" cx="726.8" cy="2355.1" rx="41.9" ry="16.7" fill="url(#gsg)"/><path d="M699.8 2350.1 C714.6 2350.1 718.2 2299.4 726.8 2299.4 C735.4 2299.4 738.9 2350.1 753.8 2350.1 Q726.8 2357.1 699.8 2350.1 Z" fill="url(#gb1)"/>
<polygon points="651,2634 705.6,2593 796.4,2616 743.5,2660" fill="url(#gs2)"/><clipPath id="gc2"><polygon points="651,2634 705.6,2593 796.4,2616 743.5,2660"/></clipPath><ellipse clip-path="url(#gc2)" cx="723.8" cy="2627" rx="65" ry="26" fill="url(#gsg)"/><path d="M671.8 2625 C700.4 2625 707.2 2571 723.8 2571 C740.4 2571 747.2 2625 775.8 2625 Q723.8 2636.9 671.8 2625 Z" fill="url(#gb2)"/>
<circle cx="726.8" cy="2319.3" r="11.5" fill="none" stroke="#ff0000" stroke-width="2" stroke-dasharray="5 3"/>
<circle cx="726" cy="2616.5" r="12" fill="none" stroke="#0d2743" stroke-width="2" stroke-dasharray="5 3"/>
<line x1="739" y1="2320" x2="848.5" y2="2320" stroke="#000" stroke-width="2.6"/><polygon points="858.5,2320 847.5,2324.5 847.5,2315.5" fill="#000"/>
<line x1="739" y1="2617" x2="848.5" y2="2617" stroke="#000" stroke-width="2.6"/><polygon points="858.5,2617 847.5,2621.5 847.5,2612.5" fill="#000"/>
<text x="792.5" y="2308.3" font-size="21.7" text-anchor="middle" >Sampling</text>
<text x="797.5" y="2607.3" font-size="21.7" text-anchor="middle" >Sampling</text>
<line x1="721.7" y1="2441.9" x2="721.7" y2="2401.4" stroke="#000" stroke-width="2.6"/><polygon points="721.7,2390.4 726.5,2402.4 717,2402.4" fill="#000"/>
<line x1="723.2" y1="2504" x2="723.2" y2="2548.3" stroke="#000" stroke-width="2.6"/><polygon points="723.2,2559.3 718.5,2547.3 728,2547.3" fill="#000"/>
<text x="608.8" y="2481" font-size="21.7" text-anchor="start" >Maximize</text>
<text x="702" y="2481" font-size="24" font-style="italic">KL<tspan font-style="normal">(</tspan>P</text>
<text x="758" y="2470" font-size="17" font-style="italic">Spu</text><text x="755" y="2488.5" font-size="17" font-style="italic">t</text>
<text x="784" y="2481" font-size="24" font-style="italic"><tspan font-style="normal">, </tspan>P</text>
<text x="812" y="2470" font-size="17" font-style="italic">Gen</text><text x="808.5" y="2488.5" font-size="17" font-style="italic">t</text>
<text x="848.5" y="2481" font-size="24" text-anchor="end">)</text>
<polygon points="859.6,2270.3 944,2307.2 944,2354 859.6,2392" fill="#fdfde3" stroke="#0d2743" stroke-width="1.8"/>
<polygon points="861,2556.3 945.6,2592.3 945.6,2640.7 861,2678" fill="#fdfde3" stroke="#0d2743" stroke-width="1.8"/>
<text x="901.4" y="2333.8" font-size="21.7" text-anchor="middle" >Decoder</text>
<text x="903" y="2622.3" font-size="21.7" text-anchor="middle" >Decoder</text>
<line x1="944" y1="2328.4" x2="1000.6" y2="2328.4" stroke="#000" stroke-width="2.6"/><polygon points="1010.6,2328.4 999.6,2332.9 999.6,2323.9" fill="#000"/>
<line x1="945.6" y1="2616" x2="1002.5" y2="2616" stroke="#000" stroke-width="2.6"/><polygon points="1012.5,2616 1001.5,2620.5 1001.5,2611.5" fill="#000"/>
<rect x="1013.7" y="2300.4" width="26.6" height="55.8" fill="#c5e3f6" stroke="#1b6590" stroke-width="2.6"/><line x1="1013.7" y1="2319" x2="1040.3" y2="2319" stroke="#1b6590" stroke-width="2.6"/><line x1="1013.7" y1="2337.6" x2="1040.3" y2="2337.6" stroke="#1b6590" stroke-width="2.6"/>
<rect x="1014.6" y="2586.5" width="26.4" height="56.1" fill="#b9a0d4" stroke="#7030a0" stroke-width="2.6"/><line x1="1014.6" y1="2605.2" x2="1041" y2="2605.2" stroke="#7030a0" stroke-width="2.6"/><line x1="1014.6" y1="2623.9" x2="1041" y2="2623.9" stroke="#7030a0" stroke-width="2.6"/>
<text x="1008.5" y="2285" font-size="26" font-style="italic">Z</text><text x="1024.9" y="2274.1" font-size="18.7" font-style="italic">Spu</text><text x="1022.8" y="2292.3" font-size="18.7" font-style="italic">t</text>
<text x="1005.5" y="2677" font-size="26" font-style="italic">Z</text><text x="1021.9" y="2666.1" font-size="18.7" font-style="italic">Gen</text><text x="1019.8" y="2684.3" font-size="18.7" font-style="italic">t</text>
<text x="956.8" y="2429.5" font-size="21.9" text-anchor="middle" >Molecule Concepts</text>
<g transform="translate(875.3,2438.8) scale(0.3028,0.3029)"><path d="M0 22 C120 -10 200 -5 300 30 C400 62 470 55 540 28 L543 290 C470 318 400 315 300 285 C200 255 110 250 2 285 Z" fill="#c5e3f6"/><ellipse cx="108" cy="86" rx="48" ry="42" fill="url(#glP)"/><ellipse cx="108" cy="84" rx="105" ry="76" fill="none" stroke="#7030a0" stroke-width="4" stroke-dasharray="16 9"/><circle cx="45" cy="48" r="9" fill="#7030a0"/><line x1="53.6" y1="53.2" x2="83.2" y2="71" stroke="#000" stroke-width="4"/><polygon points="101.1,81.9 77.9,77.8 86.7,63.2" fill="#000"/><circle cx="150" cy="35" r="9" fill="#7030a0"/><line x1="143.6" y1="42.7" x2="126.4" y2="63.6" stroke="#000" stroke-width="4"/><polygon points="113.1,79.8 120.5,57.4 133.6,68.2" fill="#000"/><circle cx="58" cy="124" r="9" fill="#7030a0"/><line x1="66" y1="117.9" x2="84.9" y2="103.5" stroke="#000" stroke-width="4"/><polygon points="101.6,90.8 89.3,110.9 79,97.4" fill="#000"/><circle cx="180" cy="118" r="9" fill="#7030a0"/><line x1="170.9" y1="113.9" x2="134.5" y2="97.8" stroke="#000" stroke-width="4"/><polygon points="115.3,89.2 138.9,90.4 132,106" fill="#000"/><path d="M108 73 L111.2 81.6 L120.4 82 L113.2 87.7 L115.6 96.5 L108 91.5 L100.4 96.5 L102.8 87.7 L95.6 82 L104.8 81.6 Z" fill="#7030a0"/><ellipse cx="262" cy="210" rx="48" ry="42" fill="url(#glG)"/><ellipse cx="262" cy="215" rx="84" ry="72" fill="none" stroke="#00b050" stroke-width="4" stroke-dasharray="16 9"/><circle cx="228" cy="160" r="9" fill="#00b050"/><line x1="233.6" y1="168.3" x2="245.7" y2="186" stroke="#000" stroke-width="4"/><polygon points="257.5,203.4 238.1,190 252.2,180.4" fill="#000"/><circle cx="326" cy="180" r="9" fill="#00b050"/><line x1="316.9" y1="184.2" x2="288.3" y2="197.7" stroke="#000" stroke-width="4"/><polygon points="269.2,206.6 285.6,189.6 292.8,205" fill="#000"/><circle cx="228" cy="248" r="9" fill="#00b050"/><line x1="234.7" y1="240.5" x2="242.7" y2="231.6" stroke="#000" stroke-width="4"/><polygon points="256.7,216 248.3,238 235.7,226.7" fill="#000"/><path d="M262 197 L265.2 205.6 L274.4 206 L267.2 211.7 L269.6 220.5 L262 215.5 L254.4 220.5 L256.8 211.7 L249.6 206 L258.8 205.6 Z" fill="#00b050"/><ellipse cx="446" cy="132" rx="48" ry="42" fill="url(#glO)"/><ellipse cx="444" cy="132" rx="92" ry="76" fill="none" stroke="#ed7d31" stroke-width="4" stroke-dasharray="16 9"/><circle cx="440" cy="75" r="9" fill="#ed7d31"/><line x1="441" y1="84.9" x2="443" y2="103.2" stroke="#000" stroke-width="4"/><polygon points="445.2,124 434.4,103.1 451.3,101.3" fill="#000"/><circle cx="375" cy="162" r="9" fill="#ed7d31"/><line x1="384.2" y1="158.1" x2="419.3" y2="143.3" stroke="#000" stroke-width="4"/><polygon points="438.6,135.1 421.7,151.5 415.1,135.8" fill="#000"/><circle cx="500" cy="168" r="9" fill="#ed7d31"/><line x1="491.7" y1="162.5" x2="470.1" y2="148.1" stroke="#000" stroke-width="4"/><polygon points="452.7,136.4 475.7,141.6 466.2,155.7" fill="#000"/><path d="M446 119 L449.2 127.6 L458.4 128 L451.2 133.7 L453.6 142.5 L446 137.5 L438.4 142.5 L440.8 133.7 L433.6 128 L442.8 127.6 Z" fill="#ed7d31"/></g>
<line x1="965" y1="2609" x2="965" y2="2547.2" stroke="#ee00ee" stroke-width="2.4"/><polygon points="965,2537.2 969.2,2548.2 960.8,2548.2" fill="#ee00ee"/>
<line x1="1027.3" y1="2535.7" x2="1027.3" y2="2572.6" stroke="#ee00ee" stroke-width="2.4"/><polygon points="1027.3,2582.6 1023,2571.6 1031.5,2571.6" fill="#ee00ee"/>
<polygon points="1071.2,2499.4 1167.4,2499.4 1167.4,2492.6 1185.8,2506 1167.4,2519.6 1167.4,2512.8 1071.2,2512.8" fill="#00b0f0"/>
<text x="1119.4" y="2488.5" font-size="21.7" text-anchor="middle" >Feedback</text>
<text x="710" y="2732" font-size="25.6" text-anchor="middle" >Concept-Enhanced Generalized Feature Disentanglement</text>
</svg>
<!-- p_fig3 -->
<svg width="3857" height="2870" viewBox="0 0 3857 2870" style="pointer-events:none">
<defs>
<radialGradient id="g3P"><stop offset="0" stop-color="#7030a0" stop-opacity=".8"/><stop offset=".5" stop-color="#7030a0" stop-opacity=".45"/><stop offset="1" stop-color="#7030a0" stop-opacity="0"/></radialGradient>
<radialGradient id="g3G"><stop offset="0" stop-color="#00a550" stop-opacity=".9"/><stop offset=".5" stop-color="#00a550" stop-opacity=".55"/><stop offset="1" stop-color="#00a550" stop-opacity="0"/></radialGradient>
<radialGradient id="g3O"><stop offset="0" stop-color="#d9622b" stop-opacity=".85"/><stop offset=".5" stop-color="#d9622b" stop-opacity=".5"/><stop offset="1" stop-color="#d9622b" stop-opacity="0"/></radialGradient>
</defs>
<path d="M1721 926 C1790 905 1850 908 1920 922 C2000 940 2070 950 2174 927 L2176.5 1105.5 C2100 1128 2020 1125 1950 1108 C1880 1090 1800 1088 1723.5 1106 Z" fill="#c5e3f6"/>
<ellipse cx="1811.5" cy="968.8" rx="34" ry="31.3" fill="url(#g3P)"/>
<ellipse cx="1813" cy="966" rx="87.7" ry="52" fill="none" stroke="#7030a0" stroke-width="2" stroke-dasharray="11 6"/>
<circle cx="1758.5" cy="940.3" r="7.8" fill="#7030a0"/>
<line x1="1766" y1="944.3" x2="1798.3" y2="961.7" stroke="#000" stroke-width="2"/><polygon points="1805.3,965.5 1795.8,964.3 1799.1,958.1" fill="#000"/>
<circle cx="1846.7" cy="932.5" r="7.8" fill="#7030a0"/>
<line x1="1840.8" y1="938.6" x2="1821.9" y2="958" stroke="#000" stroke-width="2"/><polygon points="1816.4,963.8 1820.1,954.9 1825.2,959.8" fill="#000"/>
<circle cx="1771.3" cy="992.8" r="7.8" fill="#7030a0"/>
<line x1="1778.6" y1="988.4" x2="1798.6" y2="976.5" stroke="#000" stroke-width="2"/><polygon points="1805.5,972.4 1799.6,980 1796,974" fill="#000"/>
<circle cx="1873" cy="988.3" r="7.8" fill="#7030a0"/>
<line x1="1864.9" y1="985.7" x2="1825.8" y2="973.3" stroke="#000" stroke-width="2"/><polygon points="1818.2,970.9 1827.8,970.3 1825.7,977" fill="#000"/>
<path d="M1811.5 958.8 L1814 965.4 L1821 965.7 L1815.5 970.1 L1817.4 976.9 L1811.5 973 L1805.6 976.9 L1807.5 970.1 L1802 965.7 L1809 965.4 Z" fill="#7030a0"/>
<ellipse cx="1941.7" cy="1051.5" rx="32" ry="29.4" fill="url(#g3G)"/>
<ellipse cx="1940.6" cy="1045.9" rx="70" ry="49" fill="none" stroke="#00b050" stroke-width="2" stroke-dasharray="11 6"/>
<circle cx="1913.7" cy="1017.4" r="7.8" fill="#00b050"/>
<line x1="1919.1" y1="1024" x2="1932.2" y2="1039.9" stroke="#000" stroke-width="2"/><polygon points="1937.3,1046.1 1928.8,1041.4 1934.3,1036.9" fill="#000"/>
<circle cx="1994.7" cy="1032" r="7.8" fill="#00b050"/>
<line x1="1986.7" y1="1034.9" x2="1955.8" y2="1046.3" stroke="#000" stroke-width="2"/><polygon points="1948.3,1049.1 1955.5,1042.7 1957.9,1049.3" fill="#000"/>
<circle cx="1912.6" cy="1076.6" r="7.8" fill="#00b050"/>
<line x1="1919" y1="1071" x2="1930.3" y2="1061.3" stroke="#000" stroke-width="2"/><polygon points="1936.4,1056.1 1931.9,1064.6 1927.3,1059.3" fill="#000"/>
<path d="M1941.7 1041.5 L1944.2 1048.1 L1951.2 1048.4 L1945.7 1052.8 L1947.6 1059.6 L1941.7 1055.7 L1935.8 1059.6 L1937.7 1052.8 L1932.2 1048.4 L1939.2 1048.1 Z" fill="#00b050"/>
<ellipse cx="2094" cy="999.5" rx="32" ry="29.4" fill="url(#g3O)"/>
<ellipse cx="2092.5" cy="999.5" rx="76.5" ry="53" fill="none" stroke="#ed7d31" stroke-width="2" stroke-dasharray="11 6"/>
<circle cx="2089.7" cy="959.3" r="7.8" fill="#ed7d31"/>
<line x1="2090.6" y1="967.8" x2="2092.4" y2="984.6" stroke="#000" stroke-width="2"/><polygon points="2093.3,992.5 2088.8,984 2095.8,983.2" fill="#000"/>
<circle cx="2036.6" cy="1019" r="7.8" fill="#ed7d31"/>
<line x1="2044.6" y1="1016.3" x2="2079.8" y2="1004.3" stroke="#000" stroke-width="2"/><polygon points="2087.4,1001.8 2080,1008 2077.7,1001.3" fill="#000"/>
<circle cx="2140" cy="1023.5" r="7.8" fill="#ed7d31"/>
<line x1="2132.5" y1="1019.6" x2="2107.3" y2="1006.4" stroke="#000" stroke-width="2"/><polygon points="2100.2,1002.7 2109.8,1003.8 2106.6,1010" fill="#000"/>
<path d="M2094 989.5 L2096.5 996.1 L2103.5 996.4 L2098 1000.8 L2099.9 1007.6 L2094 1003.7 L2088.1 1007.6 L2090 1000.8 L2084.5 996.4 L2091.5 996.1 Z" fill="#ed7d31"/>
<text x="1983" y="897" font-size="27.5" text-anchor="middle" >Molecule Concepts</text>
<g transform="translate(1350,690) scale(0.35108)">
<ellipse cx="932" cy="485" rx="150" ry="180" transform="rotate(14 932 485)" fill="#e1d3ea"/>
<ellipse cx="805" cy="1260" rx="198" ry="146" transform="rotate(-12 805 1260)" fill="#c6ecd9"/>
<path d="M135 140 L205 180 L205 260 L135 295 L65 260 L65 180 Z M193 192 L193.1 247.7 M130.4 278.9 L81.6 255.3 M81.7 184.1 L130.4 156.4" fill="none" stroke="#1a1a1a" stroke-width="5.2" stroke-linecap="round" stroke-linejoin="round"/>
<path d="M205 180 L240 168 M282 185 L300 222 M278 190 L292 220 M300 222 L278 262 M240 275 L205 260 M300 222 L350 222" fill="none" stroke="#1a1a1a" stroke-width="5.2" stroke-linecap="round" stroke-linejoin="round"/>
<text class="sans" x="262" y="185" font-size="66" text-anchor="middle" fill="#1a1a1a">N</text>
<text class="sans" x="255" y="298" font-size="66" text-anchor="middle" fill="#1a1a1a">N</text>
<text class="sans" x="250" y="352" font-size="60" text-anchor="middle" fill="#1a1a1a">H</text>
<path d="M350 222 L390 155 L470 155 L510 222 L470 290 L390 290 Z M366.5 217.6 L394.4 171.3 M465.6 171.3 L493.5 217.6 M457.7 278.1 L402.3 278.1" fill="none" stroke="#1a1a1a" stroke-width="5.2" stroke-linecap="round" stroke-linejoin="round"/>
<path d="M510 222 L565 222 M608 195 L635 155 M608 252 L632 292" fill="none" stroke="#1a1a1a" stroke-width="5.2" stroke-linecap="round" stroke-linejoin="round"/>
<text class="sans" x="590" y="245" font-size="66" text-anchor="middle" fill="#1a1a1a">N</text>
<path d="M635 155 L590 85 L630 18 L710 18 L750 85 L710 155 Z M638.4 138.1 L606.8 89.8 M642.4 29.8 L697.8 29.9 M733.6 89.8 L705.8 138.4" fill="none" stroke="#1a1a1a" stroke-width="5.2" stroke-linecap="round" stroke-linejoin="round"/>
<path d="M632 292 L712 292 L750 360 L712 428 L632 428 L592 360 Z M707.5 308.4 L733.7 355.5 M699.7 416.1 L644.2 416.1 M608.5 355.5 L636.3 308.4" fill="none" stroke="#1a1a1a" stroke-width="5.2" stroke-linecap="round" stroke-linejoin="round"/>
<path d="M712 428 L755 492 L845 492 M760 478 L838 478 M845 492 L870 452 M845 492 L868 535" fill="none" stroke="#1a1a1a" stroke-width="5.2" stroke-linecap="round" stroke-linejoin="round"/>
<text class="sans" x="862" y="455" font-size="63" text-anchor="start" fill="#1a1a1a">COOH</text>
<text class="sans" x="858" y="588" font-size="63" text-anchor="start" fill="#1a1a1a">CN</text>
<path d="M270 1270 L335 1300 L415 1255 L470 1285 M408 1255 L408 1198 M422 1255 L422 1198 M535 1285 L580 1255 L635 1288 M698 1285 L750 1255 L750 1195 M750 1255 L812 1290 M500 1335 L500 1395" fill="none" stroke="#2b2b2b" stroke-width="5.2" stroke-linecap="round" stroke-linejoin="round"/>
<path d="M500 1395 L582 1440 L582 1535 L500 1582 L418 1535 L418 1440 Z M505.5 1413 L563.6 1444.5 M563.5 1530.7 L505.5 1563.9 M431 1521.1 L430.9 1453.9" fill="none" stroke="#2b2b2b" stroke-width="5.2" stroke-linecap="round" stroke-linejoin="round"/>
<path d="M418 1440 L365 1412 M582 1440 L660 1395 L722 1425" fill="none" stroke="#2b2b2b" stroke-width="5.2" stroke-linecap="round" stroke-linejoin="round"/>
<text class="sans" x="230" y="1277" font-size="65" text-anchor="middle" fill="#2b2b2b">Cl</text>
<text class="sans" x="418" y="1187" font-size="65" text-anchor="middle" fill="#2b2b2b">O</text>
<text class="sans" x="500" y="1326" font-size="67" text-anchor="middle" fill="#2b2b2b">N</text>
<text class="sans" x="668" y="1326" font-size="67" text-anchor="middle" fill="#2b2b2b">O</text>
<text class="sans" x="728" y="1187" font-size="65" fill="#2b2b2b">CH<tspan font-size="45" dy="12">3</tspan></text>
<text class="sans" x="812" y="1330" font-size="65" fill="#2b2b2b">CH<tspan font-size="45" dy="12">3</tspan></text>
<text class="sans" x="728" y="1472" font-size="65" fill="#2b2b2b">CH<tspan font-size="45" dy="12">3</tspan></text>
<text class="sans" x="236" y="1420" font-size="65" fill="#2b2b2b">H<tspan font-size="45" dy="12">3</tspan><tspan dy="-12">C</tspan></text>
<path d="M1030 325 C1150 275 1290 225 1350 310 C1395 380 1398 520 1404 615" fill="none" stroke="#000" stroke-width="10" stroke-dasharray="34 14"/>
<polygon points="1407,660 1385,615 1428,613" fill="#000"/>
<path d="M940 1360 C1100 1405 1280 1450 1400 1390 C1480 1350 1530 1250 1568 1165" fill="none" stroke="#000" stroke-width="10" stroke-dasharray="34 14"/>
<polygon points="1586,1126 1548,1158 1588,1178" fill="#000"/>
</g>
<g transform="translate(1950,690) scale(0.35108)">
<ellipse cx="772" cy="445" rx="82" ry="99" transform="rotate(-14 772 445)" fill="#f9ddd0"/>
<ellipse cx="1098" cy="1470" rx="136" ry="113" transform="rotate(18 1098 1470)" fill="#c6ecd9"/>
<path d="M1050 160 L1175 232 L1175 375 L1050 443 L922 375 L922 232 Z M1058.2 187.8 L1146.5 238.4 M1146.6 368.1 L1058.3 415.5 M942 354 L942.1 252.8" fill="none" stroke="#1a1a1a" stroke-width="5.2" stroke-linecap="round" stroke-linejoin="round"/>
<path d="M838 185 L922 232 M838 423 L922 375 M1175 232 L1300 160 L1425 232 L1515 182 M1425 232 L1425 330" fill="none" stroke="#1a1a1a" stroke-width="5.2" stroke-linecap="round" stroke-linejoin="round"/>
<text class="sans" x="775" y="187" font-size="69" text-anchor="middle" fill="#1a1a1a">HO</text>
<text class="sans" x="775" y="468" font-size="69" text-anchor="middle" fill="#1a1a1a">HO</text>
<text class="sans" x="1522" y="187" font-size="69">NH<tspan font-size="48" dy="14">2</tspan></text>
<text class="sans" x="1400" y="400" font-size="69">CH<tspan font-size="48" dy="14">3</tspan></text>
<path d="M1130 1130 L1130 1218 M1145 1130 L1145 1218 M1137 1220 L1062 1262 M1137 1220 L1248 1280 L1248 1405 L1182 1443 M1248 1405 L1357 1467 L1432 1425 M1350 1467 L1350 1562 M1365 1467 L1365 1562" fill="none" stroke="#1a1a1a" stroke-width="5.2" stroke-linecap="round" stroke-linejoin="round"/>
<text class="sans" x="1137" y="1119" font-size="69" text-anchor="middle" fill="#1a1a1a">O</text>
<text class="sans" x="1000" y="1308" font-size="69" text-anchor="middle" fill="#1a1a1a">HO</text>
<text class="sans" x="1495" y="1434" font-size="69" text-anchor="middle" fill="#1a1a1a">OH</text>
<text class="sans" x="1357" y="1620" font-size="69" text-anchor="middle" fill="#1a1a1a">O</text>
<text class="sans" x="1025" y="1498" font-size="69" fill="#0d2a1c">H<tspan font-size="48" dy="14">2</tspan><tspan dy="-14">N</tspan></text>
<path d="M805 545 C870 600 900 650 870 720 C830 790 700 850 612 905" fill="none" stroke="#000" stroke-width="10" stroke-dasharray="34 14"/>
<polygon points="568,930 597,888 622,924" fill="#000"/>
<path d="M965 1447 C800 1455 600 1460 450 1440 C250 1400 160 1250 140 1050" fill="none" stroke="#0d2233" stroke-width="10" stroke-dasharray="34 14"/>
<polygon points="132,1005 118,1052 160,1048" fill="#0d2233"/>
</g>
</svg>
<!-- p_fig4 -->
<svg width="3857" height="2870" viewBox="0 0 3857 2870" style="pointer-events:none">
<g transform="translate(1590,1340) scale(0.31532)">
<text x="494" y="133" font-size="99" font-weight="bold" text-anchor="middle">One-Step</text>
<text x="1621" y="130" font-size="99" font-weight="bold" text-anchor="middle">Feedback</text>
<line x1="921" y1="60" x2="921" y2="1612" stroke="#000" stroke-width="9" stroke-dasharray="44 27"/>
<polygon points="440,690 492,690 492,925 518,925 466,975 415,925 440,925" fill="#d9d9d9"/>
<polygon points="1515,1243 1005,1243 1005,1218 955,1268 1005,1318 1005,1293 1515,1293" fill="#d9d9d9"/>
<path d="M409 747 L526 863 M526 747 L409 863" stroke="#ff0000" stroke-width="13" fill="none"/>
<path d="M1172 1225 L1200 1225 L1243 1322 L1292 1150" stroke="#4ea72e" stroke-width="22" fill="none" stroke-linejoin="miter" stroke-miterlimit="8"/>
<rect x="337" y="172" width="297" height="154" fill="#fff" stroke="#000" stroke-width="7"/>
<rect x="88" y="467" width="300" height="156" fill="#fff" stroke="#000" stroke-width="7"/>
<rect x="563" y="467" width="300" height="156" fill="#fff" stroke="#000" stroke-width="7"/>
<line x1="485" y1="330" x2="284.2" y2="443.8" stroke="#000" stroke-width="10"/><polygon points="245,466 275.7,426.8 294.4,459.9" fill="#000"/>
<line x1="485" y1="330" x2="669.6" y2="442.6" stroke="#000" stroke-width="10"/><polygon points="708,466 658.8,458.3 678.6,425.8" fill="#000"/>
<text x="456.9" y="282" font-size="92" font-style="italic">Q</text>
<text x="168.7" y="585" font-size="92" font-style="italic">Z</text><text x="227.9" y="548.2" font-size="66.2" font-style="italic" letter-spacing="2">Spu</text>
<text x="643.7" y="585" font-size="92" font-style="italic">Z</text><text x="702.9" y="548.2" font-size="66.2" font-style="italic" letter-spacing="2">Gen</text>
<rect x="1230" y="172" width="300" height="154" fill="#fff" stroke="#000" stroke-width="7"/>
<rect x="983" y="467" width="300" height="156" fill="#fff" stroke="#000" stroke-width="7"/>
<rect x="1458" y="467" width="300" height="156" fill="#fff" stroke="#000" stroke-width="7"/>
<rect x="1252" y="782" width="300" height="156" fill="#fff" stroke="#000" stroke-width="7"/>
<rect x="1727" y="782" width="300" height="156" fill="#fff" stroke="#000" stroke-width="7"/>
<rect x="1727" y="1240" width="300" height="154" fill="#fff" stroke="#000" stroke-width="7"/>
<line x1="1380" y1="330" x2="1179.2" y2="443.8" stroke="#000" stroke-width="10"/><polygon points="1140,466 1170.7,426.8 1189.4,459.9" fill="#000"/>
<line x1="1380" y1="330" x2="1564.6" y2="442.6" stroke="#000" stroke-width="10"/><polygon points="1603,466 1553.8,458.3 1573.6,425.8" fill="#000"/>
<line x1="1607" y1="628" x2="1442.8" y2="752.8" stroke="#000" stroke-width="10"/><polygon points="1407,780 1432.1,737 1455.1,767.3" fill="#000"/>
<line x1="1607" y1="628" x2="1833" y2="757.6" stroke="#000" stroke-width="10"/><polygon points="1872,780 1822.6,773.6 1841.6,740.6" fill="#000"/>
<line x1="1877" y1="942" x2="1877" y2="991" stroke="#000" stroke-width="10"/><polygon points="1877,1036 1858,990 1896,990" fill="#000"/>
<line x1="1877" y1="1142" x2="1877" y2="1191" stroke="#000" stroke-width="10"/><polygon points="1877,1236 1858,1190 1896,1190" fill="#000"/>
<line x1="1870" y1="1400" x2="1667.2" y2="1514.8" stroke="#000" stroke-width="10"/><polygon points="1628,1537 1658.7,1497.8 1677.4,1530.9" fill="#000"/>
<line x1="1870" y1="1400" x2="2053.7" y2="1513.4" stroke="#000" stroke-width="10"/><polygon points="2092,1537 2042.9,1529 2062.8,1496.7" fill="#000"/>
<path d="M1761 543 L2095 543 L2095 1075 L1993 1075" fill="none" stroke="#000" stroke-width="10" stroke-linejoin="miter"/><polygon points="1948,1075 1994,1056 1994,1094" fill="#000"/>
<text x="1345.3" y="282" font-size="92" font-style="italic">Q</text><text x="1409.6" y="305.9" font-size="66.2">0</text>
<text x="1065.7" y="590" font-size="92" font-style="italic">Z</text><text x="1124.9" y="553.2" font-size="66.2" font-style="italic" letter-spacing="2">Spu</text><text x="1118.9" y="613.9" font-size="66.2">0</text>
<text x="1540.7" y="590" font-size="92" font-style="italic">Z</text><text x="1599.9" y="553.2" font-size="66.2" font-style="italic" letter-spacing="2">Gen</text><text x="1593.9" y="613.9" font-size="66.2">0</text>
<text x="1335.7" y="900" font-size="92" font-style="italic">Z</text><text x="1394.9" y="863.2" font-size="66.2" font-style="italic" letter-spacing="2">Spu</text><text x="1388.9" y="923.9" font-size="66.2">1</text>
<text x="1811.7" y="900" font-size="92" font-style="italic">Z</text><text x="1870.9" y="863.2" font-size="66.2" font-style="italic" letter-spacing="2">Gen</text><text x="1864.9" y="923.9" font-size="66.2">1</text>
<text x="1835.3" y="1350" font-size="92" font-style="italic">Q</text><text x="1899.6" y="1373.9" font-size="66.2">2</text>
<text x="1858.3" y="505" font-size="92" font-style="italic">Q</text><text x="1922.6" y="528.9" font-size="66.2">1</text>
<text x="1877" y="1118" font-size="92" font-weight="bold" text-anchor="middle">[,]</text>
<text x="1860" y="1540" font-size="100" font-weight="bold" text-anchor="middle">&#8230;</text>
</g>
<g transform="translate(1590,1650) scale(0.13964)"><path d="M130 620 C150 700 200 720 230 780 C260 800 180 860 220 880 C250 980 240 1050 330 1120 C400 1130 470 1090 440 1060 C380 1080 330 1090 280 1020 C240 960 260 940 330 920 C400 900 450 840 500 820" fill="none" stroke="#c02a22" stroke-width="15" stroke-linecap="round" stroke-linejoin="round"/><path d="M250 330 C300 290 400 280 430 330 C410 400 460 430 520 460 C600 430 680 300 740 270 C760 220 700 170 660 180" fill="none" stroke="#c02a22" stroke-width="15" stroke-linecap="round" stroke-linejoin="round"/><path d="M810 150 C880 160 1000 170 1040 250 C1070 330 960 350 940 400 M1100 240 C1160 220 1200 200 1250 200 M1300 300 C1380 320 1420 260 1480 270 C1520 290 1540 320 1580 330" fill="none" stroke="#c02a22" stroke-width="15" stroke-linecap="round" stroke-linejoin="round"/><path d="M880 430 C930 520 900 640 960 700 C1020 760 1100 800 1140 640 C1120 540 1020 540 990 610 C980 700 1080 720 1180 640" fill="none" stroke="#c02a22" stroke-width="15" stroke-linecap="round" stroke-linejoin="round"/><path d="M1100 470 C1200 410 1360 400 1400 520 M1250 620 C1240 800 1260 900 1340 920 M740 270 C720 380 800 400 860 440" fill="none" stroke="#c02a22" stroke-width="15" stroke-linecap="round" stroke-linejoin="round"/><path d="M430 480 C500 560 540 680 640 720 C740 760 780 700 760 600 C720 520 620 520 540 600 M650 520 C640 600 720 640 760 560 M250 340 C230 420 300 440 350 400 C380 450 360 500 440 560" fill="none" stroke="#c02a22" stroke-width="15" stroke-linecap="round" stroke-linejoin="round"/><path d="M1470 350 C1440 440 1560 440 1600 470 C1580 520 1560 560 1580 600 M1740 400 C1720 500 1760 560 1860 660 C1800 700 1760 760 1800 800 C1740 880 1660 940 1640 880 C1600 900 1580 880 1600 860" fill="none" stroke="#c02a22" stroke-width="15" stroke-linecap="round" stroke-linejoin="round"/><path d="M1580 1080 L1580 1000 C1640 1000 1640 960 1620 900 M1580 1080 L1700 1070 L1800 920 M1790 350 L1820 380 M1900 500 C1960 480 1960 560 1940 600" fill="none" stroke="#c02a22" stroke-width="15" stroke-linecap="round" stroke-linejoin="round"/><path d="M500 930 C520 1020 560 1060 600 1100 M510 920 C560 900 700 900 780 900 M880 1000 C880 1080 830 1100 820 1120 M1100 950 C1060 1050 1100 1100 1140 1080 C1200 1000 1240 950 1200 900 C1160 860 1100 800 1060 790" fill="none" stroke="#c02a22" stroke-width="15" stroke-linecap="round" stroke-linejoin="round"/><path d="M1100 1160 C1080 1240 1100 1290 1180 1240 C1260 1160 1380 1240 1370 1300 C1340 1370 1200 1300 1100 1290 C1000 1270 900 1280 880 1270 M920 1190 C860 1280 740 1230 720 1280 C720 1340 800 1340 840 1290 C860 1260 880 1260 880 1270 M1230 1000 C1280 1020 1340 1020 1400 1010" fill="none" stroke="#c02a22" stroke-width="15" stroke-linecap="round" stroke-linejoin="round"/><path d="M629.5 174 L656.6 223.7 L601.8 209.4 L628.9 259.1 L574.1 244.7 L601.2 294.5 L546.4 280.1 L573.6 329.9 L518.8 315.5 L545.9 365.3 L491.1 350.9 L518.2 400.6 L463.4 386.3 L490.5 436" fill="none" stroke="#1a9c1a" stroke-width="30" stroke-linecap="round" stroke-linejoin="round"/><path d="M768.6 251 L793.1 200.2 L811.9 253.3 L836.4 202.5 L855.3 255.6 L879.7 204.9 L898.6 258" fill="none" stroke="#1a9c1a" stroke-width="30" stroke-linecap="round" stroke-linejoin="round"/><path d="M1253.9 225.7 L1266.1 171.3 L1293.9 219.7 L1306.1 165.3 L1333.9 213.7" fill="none" stroke="#1a9c1a" stroke-width="30" stroke-linecap="round" stroke-linejoin="round"/><path d="M1023.4 372.3 L1015.2 316.6 L1060.5 350 L1052.3 294.3 L1097.7 327.7 L1089.5 272 L1134.8 305.4 L1126.6 249.7" fill="none" stroke="#1a9c1a" stroke-width="30" stroke-linecap="round" stroke-linejoin="round"/><path d="M227.1 342.3 L284.6 339.3 L250.4 385.7 L307.9 382.7 L273.8 429 L331.2 426 L297.1 472.3" fill="none" stroke="#1a9c1a" stroke-width="30" stroke-linecap="round" stroke-linejoin="round"/><path d="M146.7 619.9 L130.8 565.4 L181.7 590.6 L165.8 536.1 L216.7 561.3 L200.8 506.7 L251.7 531.9" fill="none" stroke="#1a9c1a" stroke-width="30" stroke-linecap="round" stroke-linejoin="round"/><path d="M232.3 537.9 L261.5 488.6 L279.8 542.9 L309 493.6 L327.3 547.9" fill="none" stroke="#1a9c1a" stroke-width="30" stroke-linecap="round" stroke-linejoin="round"/><path d="M281.6 558.4 L334.4 537.6 L313.6 590.4 L366.4 569.6 L345.6 622.4 L398.4 601.6 L377.6 654.4 L430.4 633.6 L409.6 686.4 L462.4 665.6 L441.6 718.4 L494.4 697.6 L473.6 750.4 L526.4 729.6 L505.6 782.4 L558.4 761.6 L537.6 814.4 L590.4 793.6 L569.6 846.4 L622.4 825.6 L601.6 878.4" fill="none" stroke="#1a9c1a" stroke-width="30" stroke-linecap="round" stroke-linejoin="round"/><path d="M622.7 419.4 L673.2 394.8 L654.3 447.7 L704.8 423.1 L686 476 L736.5 451.5 L717.7 504.4" fill="none" stroke="#1a9c1a" stroke-width="30" stroke-linecap="round" stroke-linejoin="round"/><path d="M540.3 546.9 L594.7 530.6 L570.3 581.9 L624.7 565.6 L600.3 616.9" fill="none" stroke="#1a9c1a" stroke-width="30" stroke-linecap="round" stroke-linejoin="round"/><path d="M1094.2 435.3 L1127.5 389.7 L1137.5 445.3 L1170.8 399.7 L1180.8 455.3 L1214.2 409.7 L1224.2 465.3" fill="none" stroke="#1a9c1a" stroke-width="30" stroke-linecap="round" stroke-linejoin="round"/><path d="M1208.2 496.7 L1214.3 439.8 L1253.2 481.7 L1259.3 424.8 L1298.2 466.7" fill="none" stroke="#1a9c1a" stroke-width="30" stroke-linecap="round" stroke-linejoin="round"/><path d="M1138.8 583.5 L1182.9 546.9 L1182.1 604.1 L1226.2 567.5 L1225.5 624.8 L1269.5 588.2 L1268.8 645.5" fill="none" stroke="#1a9c1a" stroke-width="30" stroke-linecap="round" stroke-linejoin="round"/><path d="M1300.3 486.9 L1354.7 470.6 L1330.3 521.9 L1384.7 505.6 L1360.3 556.9" fill="none" stroke="#1a9c1a" stroke-width="30" stroke-linecap="round" stroke-linejoin="round"/><path d="M1408.7 504.9 L1465.3 495.1 L1436.7 544.9 L1493.3 535.1 L1464.7 584.9 L1521.3 575.1" fill="none" stroke="#1a9c1a" stroke-width="30" stroke-linecap="round" stroke-linejoin="round"/><path d="M1534.9 706.7 L1590.8 714.7 L1546.3 749.6 L1602.3 757.6 L1557.7 792.4 L1613.7 800.4 L1569.2 835.3 L1625.1 843.3" fill="none" stroke="#1a9c1a" stroke-width="30" stroke-linecap="round" stroke-linejoin="round"/><path d="M530.3 1133.9 L530.9 1077 L572.6 1115.6 L573.2 1058.8 L615 1097.4 L615.6 1040.5 L657.3 1079.2 L658 1022.3 L699.7 1060.9 L700.3 1004.1 L742 1042.7 L742.7 985.8 L784.4 1024.5 L785 967.6 L826.8 1006.2 L827.4 949.4 L869.1 988 L869.7 931.1" fill="none" stroke="#1a9c1a" stroke-width="30" stroke-linecap="round" stroke-linejoin="round"/><path d="M768.1 1140.9 L795 1090.8 L814.4 1144.3 L841.3 1094.1 L860.6 1147.7 L887.5 1097.5 L906.9 1151.1 L933.8 1100.9 L953.1 1154.4 L980 1104.3 L999.4 1157.8 L1026.3 1107.6 L1045.6 1161.2 L1072.5 1111 L1091.9 1164.6 L1118.8 1114.4 L1138.1 1167.9" fill="none" stroke="#1a9c1a" stroke-width="30" stroke-linecap="round" stroke-linejoin="round"/><path d="M1191.4 1004.5 L1228.6 962.5 L1231.4 1018.5 L1268.6 976.5 L1271.4 1032.5 L1308.6 990.5 L1311.4 1046.5" fill="none" stroke="#1a9c1a" stroke-width="30" stroke-linecap="round" stroke-linejoin="round"/><path d="M1347 560.7 L1443.5 589.3 L1347.9 620.7 L1444.4 649.3 L1348.9 680.7 L1445.3 709.3 L1349.8 740.7 L1446.3 769.3 L1350.7 800.7 L1447.2 829.3 L1351.7 860.7 L1448.1 889.3 L1352.6 920.7 L1449.1 949.3 L1353.5 980.7 L1450 1009.3" fill="none" stroke="#1a9c1a" stroke-width="34" stroke-linecap="round" stroke-linejoin="round"/><path d="M1270 230 C1270 280 1310 300 1345 305" fill="none" stroke="#1a9c1a" stroke-width="16" stroke-linecap="round"/><path d="M1480 335 L1790 375" fill="none" stroke="#1414d2" stroke-width="52" stroke-linejoin="round"/><path d="M1540 462 L1720 492" fill="none" stroke="#1414d2" stroke-width="44" stroke-linejoin="round"/><path d="M1580 592 L1720 632" fill="none" stroke="#1414d2" stroke-width="44" stroke-linejoin="round"/><path d="M1580 700 L1670 750" fill="none" stroke="#1414d2" stroke-width="44" stroke-linejoin="round"/><path d="M1840 460 L1970 545 L1820 900" fill="none" stroke="#1414d2" stroke-width="46" stroke-linejoin="round"/><path d="M1720 862 L1800 832" fill="none" stroke="#1414d2" stroke-width="40" stroke-linejoin="round"/><path d="M870 382 L1000 452" fill="none" stroke="#1414d2" stroke-width="42" stroke-linejoin="round"/><path d="M1022 370 L1042 442 L1130 500 L1122 620" fill="none" stroke="#1414d2" stroke-width="34" stroke-linejoin="round"/><path d="M860 470 L780 560 L752 622" fill="none" stroke="#1414d2" stroke-width="40" stroke-linejoin="round"/><path d="M410 550 L470 640 L522 602" fill="none" stroke="#1414d2" stroke-width="40" stroke-linejoin="round"/><path d="M650 690 L740 742 L842 832 L1040 802" fill="none" stroke="#1414d2" stroke-width="44" stroke-linejoin="round"/><path d="M1120 690 L1102 920" fill="none" stroke="#1414d2" stroke-width="56" stroke-linejoin="round"/><path d="M1042 822 L982 920" fill="none" stroke="#1414d2" stroke-width="40" stroke-linejoin="round"/></g>
</svg>
<!-- p_fig5 -->
<svg width="3857" height="2870" viewBox="0 0 3857 2870" style="pointer-events:none">
<line x1="2695" y1="1937.8" x2="3725" y2="1937.8" stroke="#222" stroke-width="1.8" stroke-dasharray="9 4 2.5 4"/>
<line x1="2695" y1="2154.3" x2="3725" y2="2154.3" stroke="#222" stroke-width="1.8" stroke-dasharray="9 4 2.5 4"/>
<g transform="translate(2680,1740) scale(0.27027)"><g class="sans" text-anchor="middle" fill="none" stroke-width="5.5" stroke-linecap="round" transform="translate(0,0)"><line x1="385" y1="275" x2="330" y2="306.5" stroke="#2b2bff"/><line x1="330" y1="306.5" x2="275" y2="338" stroke="#111"/><line x1="275" y1="338" x2="278" y2="487" stroke="#111"/><line x1="315" y1="360" x2="317" y2="460" stroke="#111"/><line x1="278" y1="487" x2="427" y2="556" stroke="#111"/><line x1="427" y1="556" x2="563" y2="477" stroke="#111"/><line x1="430" y1="520" x2="527" y2="465" stroke="#111"/><line x1="563" y1="477" x2="560" y2="327" stroke="#111"/><line x1="560" y1="327" x2="502.5" y2="299.5" stroke="#111"/><line x1="502.5" y1="299.5" x2="445" y2="272" stroke="#2b2bff"/><line x1="410" y1="225" x2="409" y2="191.5" stroke="#2b2bff"/><line x1="409" y1="191.5" x2="408" y2="158" stroke="#ff2020"/><line x1="560" y1="327" x2="730" y2="283" stroke="#111"/><line x1="730" y1="283" x2="822" y2="402" stroke="#111"/><line x1="712" y1="318" x2="778" y2="402" stroke="#111"/><line x1="822" y1="402" x2="786" y2="447" stroke="#111"/><line x1="786" y1="447" x2="750" y2="492" stroke="#ff2020"/><line x1="697" y1="510" x2="630" y2="493.5" stroke="#ff2020"/><line x1="630" y1="493.5" x2="563" y2="477" stroke="#111"/><line x1="730" y1="283" x2="765" y2="206.5" stroke="#111"/><line x1="765" y1="206.5" x2="800" y2="130" stroke="#9a6030"/><line x1="190" y1="290" x2="275" y2="338" stroke="#111"/><line x1="190" y1="528" x2="278" y2="487" stroke="#111"/><line x1="427" y1="556" x2="430" y2="638" stroke="#111"/><line x1="822" y1="402" x2="915" y2="412" stroke="#111"/><text x="412" y="281.8" font-size="66" fill="#2b2bff" stroke="none">N</text><text x="408" y="153.8" font-size="66" fill="#ff2020" stroke="none">O</text><text x="823" y="125.3" font-size="62" fill="#9a6030" stroke="none">Br</text><text x="725" y="543.8" font-size="66" fill="#ff2020" stroke="none">O</text><text x="162" y="303.8" font-size="66" fill="#111" stroke="none">H</text><text x="162" y="566.8" font-size="66" fill="#111" stroke="none">H</text><text x="432" y="695.8" font-size="66" fill="#111" stroke="none">H</text><text x="952" y="441.8" font-size="66" fill="#111" stroke="none">H</text><circle cx="442" cy="128" r="3" fill="#111" stroke="none"/></g><g class="sans" text-anchor="middle" fill="none" stroke-width="5.5" stroke-linecap="round" transform="translate(1038,-3)"><line x1="385" y1="275" x2="330" y2="306.5" stroke="#2b2bff"/><line x1="330" y1="306.5" x2="275" y2="338" stroke="#111"/><line x1="275" y1="338" x2="278" y2="487" stroke="#111"/><line x1="315" y1="360" x2="317" y2="460" stroke="#111"/><line x1="278" y1="487" x2="427" y2="556" stroke="#111"/><line x1="427" y1="556" x2="563" y2="477" stroke="#111"/><line x1="430" y1="520" x2="527" y2="465" stroke="#111"/><line x1="563" y1="477" x2="560" y2="327" stroke="#111"/><line x1="560" y1="327" x2="502.5" y2="299.5" stroke="#111"/><line x1="502.5" y1="299.5" x2="445" y2="272" stroke="#2b2bff"/><line x1="410" y1="225" x2="409" y2="191.5" stroke="#2b2bff"/><line x1="409" y1="191.5" x2="408" y2="158" stroke="#ff2020"/><line x1="560" y1="327" x2="730" y2="283" stroke="#111"/><line x1="730" y1="283" x2="822" y2="402" stroke="#111"/><line x1="712" y1="318" x2="778" y2="402" stroke="#111"/><line x1="822" y1="402" x2="786" y2="447" stroke="#111"/><line x1="786" y1="447" x2="750" y2="492" stroke="#ff2020"/><line x1="697" y1="510" x2="630" y2="493.5" stroke="#ff2020"/><line x1="630" y1="493.5" x2="563" y2="477" stroke="#111"/><line x1="730" y1="283" x2="765" y2="206.5" stroke="#111"/><line x1="765" y1="206.5" x2="800" y2="130" stroke="#9a6030"/><line x1="190" y1="290" x2="275" y2="338" stroke="#111"/><line x1="190" y1="528" x2="278" y2="487" stroke="#111"/><line x1="427" y1="556" x2="430" y2="638" stroke="#111"/><line x1="822" y1="402" x2="915" y2="412" stroke="#111"/><text x="412" y="281.8" font-size="66" fill="#2b2bff" stroke="none">N</text><text x="408" y="153.8" font-size="66" fill="#ff2020" stroke="none">O</text><text x="823" y="125.3" font-size="62" fill="#9a6030" stroke="none">Br</text><text x="725" y="543.8" font-size="66" fill="#ff2020" stroke="none">O</text><text x="162" y="303.8" font-size="66" fill="#111" stroke="none">H</text><text x="162" y="566.8" font-size="66" fill="#111" stroke="none">H</text><text x="432" y="695.8" font-size="66" fill="#111" stroke="none">H</text><text x="952" y="441.8" font-size="66" fill="#111" stroke="none">H</text><circle cx="442" cy="128" r="3" fill="#111" stroke="none"/></g><g class="sans" text-anchor="middle" fill="none" stroke-width="5" stroke-linecap="round" transform="translate(0,0)"><line x1="557" y1="885" x2="677" y2="885" stroke="#111"/><line x1="575" y1="908" x2="660" y2="908" stroke="#111"/><line x1="677" y1="885" x2="697.5" y2="913.5" stroke="#111"/><line x1="697.5" y1="913.5" x2="718" y2="942" stroke="#2b2bff"/><line x1="722" y1="990" x2="701" y2="1020" stroke="#2b2bff"/><line x1="701" y1="1020" x2="680" y2="1050" stroke="#111"/><line x1="690" y1="985" x2="676" y2="1006.5" stroke="#2b2bff"/><line x1="676" y1="1006.5" x2="662" y2="1028" stroke="#111"/><line x1="680" y1="1050" x2="565" y2="1062" stroke="#111"/><line x1="565" y1="1062" x2="502" y2="972" stroke="#111"/><line x1="578" y1="1030" x2="535" y2="968" stroke="#111"/><line x1="502" y1="972" x2="557" y2="885" stroke="#111"/><line x1="557" y1="885" x2="528" y2="845" stroke="#111"/><line x1="677" y1="885" x2="705" y2="842" stroke="#111"/><line x1="502" y1="972" x2="432" y2="975" stroke="#111"/><line x1="680" y1="1050" x2="712" y2="1090" stroke="#111"/><line x1="565" y1="1062" x2="512" y2="1158" stroke="#111"/><line x1="512" y1="1158" x2="466" y2="1158" stroke="#111"/><line x1="466" y1="1158" x2="420" y2="1158" stroke="#2b2bff"/><line x1="495" y1="1180" x2="462.5" y2="1180" stroke="#111"/><line x1="462.5" y1="1180" x2="430" y2="1180" stroke="#2b2bff"/><line x1="385" y1="1182" x2="367.5" y2="1214.5" stroke="#2b2bff"/><line x1="367.5" y1="1214.5" x2="350" y2="1247" stroke="#111"/><line x1="350" y1="1247" x2="408" y2="1330" stroke="#111"/><line x1="385" y1="1255" x2="425" y2="1312" stroke="#111"/><line x1="408" y1="1330" x2="522" y2="1322" stroke="#111"/><line x1="522" y1="1322" x2="542" y2="1290" stroke="#111"/><line x1="542" y1="1290" x2="562" y2="1258" stroke="#2b2bff"/><line x1="512" y1="1298" x2="523.5" y2="1279" stroke="#111"/><line x1="523.5" y1="1279" x2="535" y2="1260" stroke="#2b2bff"/><line x1="558" y1="1215" x2="535" y2="1186.5" stroke="#2b2bff"/><line x1="535" y1="1186.5" x2="512" y2="1158" stroke="#111"/><line x1="350" y1="1247" x2="282" y2="1248" stroke="#111"/><line x1="522" y1="1322" x2="558" y2="1362" stroke="#111"/><line x1="408" y1="1330" x2="385" y2="1366" stroke="#111"/><line x1="385" y1="1366" x2="362" y2="1402" stroke="#ff2020"/><line x1="372" y1="1440" x2="388" y2="1452" stroke="#111"/><text x="735" y="980.8" font-size="44" fill="#2b2bff" stroke="none">N</text><text x="397" y="1175.8" font-size="44" fill="#2b2bff" stroke="none">N</text><text x="572" y="1252.8" font-size="44" fill="#2b2bff" stroke="none">N</text><text x="350" y="1433.8" font-size="44" fill="#ff2020" stroke="none">O</text><text x="512" y="837.1" font-size="42" fill="#111" stroke="none">H</text><text x="720" y="833.1" font-size="42" fill="#111" stroke="none">H</text><text x="410" y="995.1" font-size="42" fill="#111" stroke="none">H</text><text x="730" y="1128.1" font-size="42" fill="#111" stroke="none">H</text><text x="258" y="1265.1" font-size="42" fill="#111" stroke="none">H</text><text x="577" y="1400.1" font-size="42" fill="#111" stroke="none">H</text><text x="405" y="1485.1" font-size="42" fill="#111" stroke="none">H</text></g><g class="sans" text-anchor="middle" fill="none" stroke-width="5" stroke-linecap="round" transform="translate(788,5)"><line x1="557" y1="885" x2="677" y2="885" stroke="#111"/><line x1="575" y1="908" x2="660" y2="908" stroke="#111"/><line x1="677" y1="885" x2="697.5" y2="913.5" stroke="#111"/><line x1="697.5" y1="913.5" x2="718" y2="942" stroke="#2b2bff"/><line x1="722" y1="990" x2="701" y2="1020" stroke="#2b2bff"/><line x1="701" y1="1020" x2="680" y2="1050" stroke="#111"/><line x1="690" y1="985" x2="676" y2="1006.5" stroke="#2b2bff"/><line x1="676" y1="1006.5" x2="662" y2="1028" stroke="#111"/><line x1="680" y1="1050" x2="565" y2="1062" stroke="#111"/><line x1="565" y1="1062" x2="502" y2="972" stroke="#111"/><line x1="578" y1="1030" x2="535" y2="968" stroke="#111"/><line x1="502" y1="972" x2="557" y2="885" stroke="#111"/><line x1="557" y1="885" x2="528" y2="845" stroke="#111"/><line x1="677" y1="885" x2="705" y2="842" stroke="#111"/><line x1="502" y1="972" x2="432" y2="975" stroke="#111"/><line x1="680" y1="1050" x2="712" y2="1090" stroke="#111"/><line x1="565" y1="1062" x2="512" y2="1158" stroke="#111"/><line x1="512" y1="1158" x2="466" y2="1158" stroke="#111"/><line x1="466" y1="1158" x2="420" y2="1158" stroke="#2b2bff"/><line x1="495" y1="1180" x2="462.5" y2="1180" stroke="#111"/><line x1="462.5" y1="1180" x2="430" y2="1180" stroke="#2b2bff"/><line x1="385" y1="1182" x2="367.5" y2="1214.5" stroke="#2b2bff"/><line x1="367.5" y1="1214.5" x2="350" y2="1247" stroke="#111"/><line x1="350" y1="1247" x2="408" y2="1330" stroke="#111"/><line x1="385" y1="1255" x2="425" y2="1312" stroke="#111"/><line x1="408" y1="1330" x2="522" y2="1322" stroke="#111"/><line x1="522" y1="1322" x2="542" y2="1290" stroke="#111"/><line x1="542" y1="1290" x2="562" y2="1258" stroke="#2b2bff"/><line x1="512" y1="1298" x2="523.5" y2="1279" stroke="#111"/><line x1="523.5" y1="1279" x2="535" y2="1260" stroke="#2b2bff"/><line x1="558" y1="1215" x2="535" y2="1186.5" stroke="#2b2bff"/><line x1="535" y1="1186.5" x2="512" y2="1158" stroke="#111"/><line x1="350" y1="1247" x2="282" y2="1248" stroke="#111"/><line x1="522" y1="1322" x2="558" y2="1362" stroke="#111"/><line x1="408" y1="1330" x2="385" y2="1366" stroke="#111"/><line x1="385" y1="1366" x2="362" y2="1402" stroke="#ff2020"/><line x1="372" y1="1440" x2="388" y2="1452" stroke="#111"/><text x="735" y="980.8" font-size="44" fill="#2b2bff" stroke="none">N</text><text x="397" y="1175.8" font-size="44" fill="#2b2bff" stroke="none">N</text><text x="572" y="1252.8" font-size="44" fill="#2b2bff" stroke="none">N</text><text x="350" y="1433.8" font-size="44" fill="#ff2020" stroke="none">O</text><text x="512" y="837.1" font-size="42" fill="#111" stroke="none">H</text><text x="720" y="833.1" font-size="42" fill="#111" stroke="none">H</text><text x="410" y="995.1" font-size="42" fill="#111" stroke="none">H</text><text x="730" y="1128.1" font-size="42" fill="#111" stroke="none">H</text><text x="258" y="1265.1" font-size="42" fill="#111" stroke="none">H</text><text x="577" y="1400.1" font-size="42" fill="#111" stroke="none">H</text><text x="405" y="1485.1" font-size="42" fill="#111" stroke="none">H</text></g></g>
<g transform="translate(3200,1740) scale(0.27027)"><g class="sans" text-anchor="middle" fill="none" stroke-width="5.5" stroke-linecap="round" transform="translate(0,0)"><line x1="653" y1="250" x2="795" y2="320" stroke="#111"/><line x1="795" y1="320" x2="797" y2="460" stroke="#111"/><line x1="797" y1="460" x2="655" y2="525" stroke="#111"/><line x1="655" y1="525" x2="512" y2="460" stroke="#111"/><line x1="512" y1="460" x2="510" y2="320" stroke="#111"/><line x1="510" y1="320" x2="653" y2="250" stroke="#111"/><line x1="548" y1="330" x2="648" y2="283" stroke="#111"/><line x1="762" y1="345" x2="762" y2="437" stroke="#111"/><line x1="548" y1="445" x2="648" y2="493" stroke="#111"/><line x1="653" y1="250" x2="654" y2="177.5" stroke="#111"/><line x1="654" y1="177.5" x2="655" y2="105" stroke="#1fd01f"/><line x1="795" y1="320" x2="853.5" y2="292.5" stroke="#111"/><line x1="853.5" y1="292.5" x2="912" y2="265" stroke="#33cccc"/><line x1="797" y1="460" x2="950" y2="530" stroke="#111"/><line x1="950" y1="530" x2="941.5" y2="585" stroke="#111"/><line x1="941.5" y1="585" x2="933" y2="640" stroke="#33cccc"/><polygon points="950,530 1000,508 1002,520" fill="#111" stroke="none"/><line x1="985" y1="520" x2="1020" y2="505" stroke="#33cccc"/><line x1="428" y1="278" x2="510" y2="320" stroke="#111"/><line x1="428" y1="500" x2="512" y2="460" stroke="#111"/><line x1="655" y1="525" x2="655" y2="600" stroke="#111"/><text x="660" y="100.3" font-size="62" fill="#1fd01f" stroke="none">Cl</text><text x="930" y="277.3" font-size="62" fill="#33cccc" stroke="none">F</text><text x="1030" y="510.9" font-size="58" fill="#33cccc" stroke="none">F</text><text x="1045" y="527.9" font-size="58" fill="#33cccc" stroke="none">F</text><text x="930" y="684.3" font-size="62" fill="#33cccc" stroke="none">F</text><text x="400" y="290.3" font-size="62" fill="#111" stroke="none">H</text><text x="400" y="537.3" font-size="62" fill="#111" stroke="none">H</text><text x="655" y="659.3" font-size="62" fill="#111" stroke="none">H</text></g><g class="sans" text-anchor="middle" fill="none" stroke-width="5.5" stroke-linecap="round" transform="translate(873,5)"><line x1="653" y1="250" x2="795" y2="320" stroke="#111"/><line x1="795" y1="320" x2="797" y2="460" stroke="#111"/><line x1="797" y1="460" x2="655" y2="525" stroke="#111"/><line x1="655" y1="525" x2="512" y2="460" stroke="#111"/><line x1="512" y1="460" x2="510" y2="320" stroke="#111"/><line x1="510" y1="320" x2="653" y2="250" stroke="#111"/><line x1="548" y1="330" x2="648" y2="283" stroke="#111"/><line x1="762" y1="345" x2="762" y2="437" stroke="#111"/><line x1="548" y1="445" x2="648" y2="493" stroke="#111"/><line x1="653" y1="250" x2="654" y2="177.5" stroke="#111"/><line x1="654" y1="177.5" x2="655" y2="105" stroke="#1fd01f"/><line x1="795" y1="320" x2="853.5" y2="292.5" stroke="#111"/><line x1="853.5" y1="292.5" x2="912" y2="265" stroke="#33cccc"/><line x1="797" y1="460" x2="950" y2="530" stroke="#111"/><line x1="950" y1="530" x2="941.5" y2="585" stroke="#111"/><line x1="941.5" y1="585" x2="933" y2="640" stroke="#33cccc"/><polygon points="950,530 1000,508 1002,520" fill="#111" stroke="none"/><line x1="985" y1="520" x2="1020" y2="505" stroke="#33cccc"/><line x1="428" y1="278" x2="510" y2="320" stroke="#111"/><line x1="428" y1="500" x2="512" y2="460" stroke="#111"/><line x1="655" y1="525" x2="655" y2="600" stroke="#111"/><text x="660" y="100.3" font-size="62" fill="#1fd01f" stroke="none">Cl</text><text x="930" y="277.3" font-size="62" fill="#33cccc" stroke="none">F</text><text x="1030" y="510.9" font-size="58" fill="#33cccc" stroke="none">F</text><text x="1045" y="527.9" font-size="58" fill="#33cccc" stroke="none">F</text><text x="930" y="684.3" font-size="62" fill="#33cccc" stroke="none">F</text><text x="400" y="290.3" font-size="62" fill="#111" stroke="none">H</text><text x="400" y="537.3" font-size="62" fill="#111" stroke="none">H</text><text x="655" y="659.3" font-size="62" fill="#111" stroke="none">H</text></g><g class="sans" text-anchor="middle" fill="none" stroke-width="5.5" stroke-linecap="round" ><line x1="598" y1="898" x2="750" y2="912" stroke="#111"/><line x1="750" y1="912" x2="775" y2="953.5" stroke="#111"/><line x1="775" y1="953.5" x2="800" y2="995" stroke="#2b2bff"/><line x1="728" y1="940" x2="745" y2="967.5" stroke="#111"/><line x1="745" y1="967.5" x2="762" y2="995" stroke="#2b2bff"/><line x1="800" y1="1050" x2="766.5" y2="1086.5" stroke="#2b2bff"/><line x1="766.5" y1="1086.5" x2="733" y2="1123" stroke="#111"/><line x1="733" y1="1123" x2="575" y2="1120" stroke="#111"/><line x1="600" y1="1095" x2="710" y2="1097" stroke="#111"/><line x1="575" y1="1120" x2="510" y2="1002" stroke="#111"/><line x1="510" y1="1002" x2="598" y2="898" stroke="#111"/><line x1="545" y1="1000" x2="610" y2="925" stroke="#111"/><line x1="598" y1="898" x2="565" y2="835" stroke="#111"/><line x1="750" y1="912" x2="803" y2="857" stroke="#111"/><line x1="510" y1="1002" x2="415" y2="997" stroke="#111"/><line x1="733" y1="1123" x2="770" y2="1185" stroke="#111"/><line x1="575" y1="1120" x2="492" y2="1238" stroke="#111"/><line x1="492" y1="1238" x2="435" y2="1238" stroke="#111"/><line x1="435" y1="1238" x2="378" y2="1238" stroke="#2b2bff"/><line x1="472" y1="1265" x2="433.5" y2="1265" stroke="#111"/><line x1="433.5" y1="1265" x2="395" y2="1265" stroke="#2b2bff"/><line x1="492" y1="1238" x2="535" y2="1295" stroke="#111"/><line x1="340" y1="1265" x2="324" y2="1300" stroke="#2b2bff"/><line x1="324" y1="1300" x2="308" y2="1335" stroke="#ff2020"/><line x1="272" y1="1360" x2="210" y2="1362.5" stroke="#ff2020"/><line x1="210" y1="1362.5" x2="148" y2="1365" stroke="#111"/><line x1="148" y1="1365" x2="103" y2="1303" stroke="#111"/><line x1="148" y1="1365" x2="118" y2="1425" stroke="#111"/><text x="818" y="1047.3" font-size="62" fill="#2b2bff" stroke="none">N</text><text x="350" y="1262.3" font-size="62" fill="#2b2bff" stroke="none">N</text><text x="297" y="1384.3" font-size="62" fill="#ff2020" stroke="none">O</text><text x="550" y="828.6" font-size="60" fill="#111" stroke="none">H</text><text x="825" y="853.6" font-size="60" fill="#111" stroke="none">H</text><text x="388" y="1019.6" font-size="60" fill="#111" stroke="none">H</text><text x="788" y="1236.6" font-size="60" fill="#111" stroke="none">H</text><text x="555" y="1348.6" font-size="60" fill="#111" stroke="none">H</text><text x="85" y="1301.6" font-size="60" fill="#111" stroke="none">H</text><text x="105" y="1476.6" font-size="60" fill="#111" stroke="none">H</text></g><g class="sans" text-anchor="middle" fill="none" stroke-width="6.5" stroke-linecap="round" ><line x1="1625" y1="908" x2="1802" y2="915" stroke="#111"/><line x1="1802" y1="915" x2="1828.5" y2="967.5" stroke="#111"/><line x1="1828.5" y1="967.5" x2="1855" y2="1020" stroke="#2b2bff"/><line x1="1778" y1="945" x2="1796.5" y2="982.5" stroke="#111"/><line x1="1796.5" y1="982.5" x2="1815" y2="1020" stroke="#2b2bff"/><line x1="1848" y1="1085" x2="1809" y2="1130" stroke="#2b2bff"/><line x1="1809" y1="1130" x2="1770" y2="1175" stroke="#111"/><line x1="1770" y1="1175" x2="1592" y2="1170" stroke="#111"/><line x1="1618" y1="1145" x2="1745" y2="1148" stroke="#111"/><line x1="1592" y1="1170" x2="1522" y2="1030" stroke="#111"/><line x1="1522" y1="1030" x2="1625" y2="908" stroke="#111"/><line x1="1555" y1="1030" x2="1632" y2="935" stroke="#111"/><line x1="1625" y1="908" x2="1585" y2="835" stroke="#111"/><line x1="1802" y1="915" x2="1858" y2="850" stroke="#111"/><line x1="1522" y1="1030" x2="1410" y2="1025" stroke="#111"/><line x1="1770" y1="1175" x2="1812" y2="1250" stroke="#111"/><line x1="1592" y1="1170" x2="1488" y2="1305" stroke="#111"/><line x1="1488" y1="1305" x2="1421.5" y2="1306.5" stroke="#111"/><line x1="1421.5" y1="1306.5" x2="1355" y2="1308" stroke="#2b2bff"/><line x1="1468" y1="1328" x2="1421.5" y2="1328" stroke="#111"/><line x1="1421.5" y1="1328" x2="1375" y2="1328" stroke="#2b2bff"/><line x1="1488" y1="1305" x2="1535" y2="1375" stroke="#111"/><line x1="1303" y1="1340" x2="1277.5" y2="1374" stroke="#2b2bff"/><line x1="1277.5" y1="1374" x2="1252" y2="1408" stroke="#ff2020"/><line x1="1195" y1="1445" x2="1156" y2="1451.5" stroke="#ff2020"/><line x1="1156" y1="1451.5" x2="1117" y2="1458" stroke="#111"/><line x1="1117" y1="1458" x2="1015" y2="1422" stroke="#111"/><text x="1868" y="1080.9" font-size="72" fill="#2b2bff" stroke="none">N</text><text x="1325" y="1335.9" font-size="72" fill="#2b2bff" stroke="none">N</text><text x="1225" y="1466.6" font-size="74" fill="#ff2020" stroke="none">O</text><text x="1565" y="825.2" font-size="70" fill="#111" stroke="none">H</text><text x="1880" y="847.2" font-size="70" fill="#111" stroke="none">H</text><text x="1380" y="1053.2" font-size="70" fill="#111" stroke="none">H</text><text x="1828" y="1312.2" font-size="70" fill="#111" stroke="none">H</text><text x="1552" y="1437.2" font-size="70" fill="#111" stroke="none">H</text><text x="985" y="1442.2" font-size="70" fill="#111" stroke="none">H</text><text x="1172" y="1443.2" font-size="70" fill="#111" stroke="none">H</text><circle cx="1117" cy="1476" r="3" fill="#111" stroke="none"/></g></g>
<g transform="translate(2680,2150) scale(0.27027)"><g class="sans" text-anchor="middle" fill="none" stroke-width="5.5" stroke-linecap="round" transform="translate(0,0)"><line x1="275" y1="465" x2="403" y2="452" stroke="#111"/><line x1="403" y1="452" x2="487" y2="532" stroke="#111"/><line x1="487" y1="532" x2="440" y2="628" stroke="#111"/><line x1="440" y1="628" x2="312" y2="640" stroke="#111"/><line x1="312" y1="640" x2="230" y2="560" stroke="#111"/><line x1="230" y1="560" x2="275" y2="465" stroke="#111"/><line x1="300" y1="490" x2="385" y2="478" stroke="#111"/><line x1="455" y1="545" x2="425" y2="605" stroke="#111"/><line x1="262" y1="575" x2="322" y2="618" stroke="#111"/><line x1="275" y1="465" x2="232" y2="425" stroke="#111"/><line x1="403" y1="452" x2="425" y2="405" stroke="#111"/><line x1="230" y1="560" x2="150" y2="570" stroke="#111"/><line x1="312" y1="640" x2="290" y2="690" stroke="#111"/><line x1="440" y1="628" x2="482" y2="668" stroke="#111"/><line x1="487" y1="532" x2="622" y2="518" stroke="#111"/><line x1="622" y1="518" x2="700" y2="432" stroke="#111"/><line x1="650" y1="520" x2="712" y2="455" stroke="#111"/><line x1="700" y1="432" x2="822" y2="478" stroke="#111"/><line x1="822" y1="478" x2="821" y2="513" stroke="#111"/><line x1="821" y1="513" x2="820" y2="548" stroke="#2b2bff"/><line x1="795" y1="505" x2="795" y2="526.5" stroke="#111"/><line x1="795" y1="526.5" x2="795" y2="548" stroke="#2b2bff"/><line x1="795" y1="585" x2="757.5" y2="592.5" stroke="#2b2bff"/><line x1="757.5" y1="592.5" x2="720" y2="600" stroke="#ff2020"/><line x1="672" y1="582" x2="647" y2="550" stroke="#ff2020"/><line x1="647" y1="550" x2="622" y2="518" stroke="#111"/><line x1="700" y1="432" x2="685" y2="320" stroke="#111"/><line x1="685" y1="320" x2="790" y2="260" stroke="#111"/><line x1="790" y1="260" x2="912" y2="303" stroke="#111"/><line x1="912" y1="303" x2="930" y2="410" stroke="#111"/><line x1="930" y1="410" x2="822" y2="478" stroke="#111"/><line x1="720" y1="325" x2="795" y2="283" stroke="#111"/><line x1="890" y1="318" x2="905" y2="395" stroke="#111"/><line x1="685" y1="320" x2="620" y2="292" stroke="#111"/><line x1="912" y1="303" x2="972" y2="265" stroke="#111"/><line x1="930" y1="410" x2="1000" y2="438" stroke="#111"/><line x1="790" y1="260" x2="778" y2="140" stroke="#111"/><line x1="778" y1="140" x2="739" y2="121.5" stroke="#111"/><line x1="739" y1="121.5" x2="700" y2="103" stroke="#ff2020"/><line x1="770" y1="157" x2="735" y2="140.5" stroke="#111"/><line x1="735" y1="140.5" x2="700" y2="124" stroke="#ff2020"/><line x1="778" y1="140" x2="845" y2="108" stroke="#111"/><text x="820" y="594.6" font-size="46" fill="#2b2bff" stroke="none">N</text><text x="692" y="621.6" font-size="46" fill="#ff2020" stroke="none">O</text><text x="680" y="113.6" font-size="46" fill="#ff2020" stroke="none">O</text><text x="210" y="420.8" font-size="44" fill="#111" stroke="none">H</text><text x="437" y="395.8" font-size="44" fill="#111" stroke="none">H</text><text x="128" y="588.8" font-size="44" fill="#111" stroke="none">H</text><text x="277" y="730.8" font-size="44" fill="#111" stroke="none">H</text><text x="505" y="705.8" font-size="44" fill="#111" stroke="none">H</text><text x="595" y="298.8" font-size="44" fill="#111" stroke="none">H</text><text x="993" y="268.8" font-size="44" fill="#111" stroke="none">H</text><text x="1022" y="463.8" font-size="44" fill="#111" stroke="none">H</text><text x="867" y="113.8" font-size="44" fill="#111" stroke="none">H</text></g><g class="sans" text-anchor="middle" fill="none" stroke-width="5.5" stroke-linecap="round" transform="translate(1005,-17)"><line x1="275" y1="465" x2="403" y2="452" stroke="#111"/><line x1="403" y1="452" x2="487" y2="532" stroke="#111"/><line x1="487" y1="532" x2="440" y2="628" stroke="#111"/><line x1="440" y1="628" x2="312" y2="640" stroke="#111"/><line x1="312" y1="640" x2="230" y2="560" stroke="#111"/><line x1="230" y1="560" x2="275" y2="465" stroke="#111"/><line x1="300" y1="490" x2="385" y2="478" stroke="#111"/><line x1="455" y1="545" x2="425" y2="605" stroke="#111"/><line x1="262" y1="575" x2="322" y2="618" stroke="#111"/><line x1="275" y1="465" x2="232" y2="425" stroke="#111"/><line x1="403" y1="452" x2="425" y2="405" stroke="#111"/><line x1="230" y1="560" x2="150" y2="570" stroke="#111"/><line x1="312" y1="640" x2="290" y2="690" stroke="#111"/><line x1="440" y1="628" x2="482" y2="668" stroke="#111"/><line x1="487" y1="532" x2="622" y2="518" stroke="#111"/><line x1="622" y1="518" x2="700" y2="432" stroke="#111"/><line x1="650" y1="520" x2="712" y2="455" stroke="#111"/><line x1="700" y1="432" x2="822" y2="478" stroke="#111"/><line x1="822" y1="478" x2="821" y2="513" stroke="#111"/><line x1="821" y1="513" x2="820" y2="548" stroke="#2b2bff"/><line x1="795" y1="505" x2="795" y2="526.5" stroke="#111"/><line x1="795" y1="526.5" x2="795" y2="548" stroke="#2b2bff"/><line x1="795" y1="585" x2="757.5" y2="592.5" stroke="#2b2bff"/><line x1="757.5" y1="592.5" x2="720" y2="600" stroke="#ff2020"/><line x1="672" y1="582" x2="647" y2="550" stroke="#ff2020"/><line x1="647" y1="550" x2="622" y2="518" stroke="#111"/><line x1="700" y1="432" x2="685" y2="320" stroke="#111"/><line x1="685" y1="320" x2="790" y2="260" stroke="#111"/><line x1="790" y1="260" x2="912" y2="303" stroke="#111"/><line x1="912" y1="303" x2="930" y2="410" stroke="#111"/><line x1="930" y1="410" x2="822" y2="478" stroke="#111"/><line x1="720" y1="325" x2="795" y2="283" stroke="#111"/><line x1="890" y1="318" x2="905" y2="395" stroke="#111"/><line x1="685" y1="320" x2="620" y2="292" stroke="#111"/><line x1="912" y1="303" x2="972" y2="265" stroke="#111"/><line x1="930" y1="410" x2="1000" y2="438" stroke="#111"/><line x1="790" y1="260" x2="778" y2="140" stroke="#111"/><line x1="778" y1="140" x2="739" y2="121.5" stroke="#111"/><line x1="739" y1="121.5" x2="700" y2="103" stroke="#ff2020"/><line x1="770" y1="157" x2="735" y2="140.5" stroke="#111"/><line x1="735" y1="140.5" x2="700" y2="124" stroke="#ff2020"/><line x1="778" y1="140" x2="845" y2="108" stroke="#111"/><text x="820" y="594.6" font-size="46" fill="#2b2bff" stroke="none">N</text><text x="692" y="621.6" font-size="46" fill="#ff2020" stroke="none">O</text><text x="680" y="113.6" font-size="46" fill="#ff2020" stroke="none">O</text><text x="210" y="420.8" font-size="44" fill="#111" stroke="none">H</text><text x="437" y="395.8" font-size="44" fill="#111" stroke="none">H</text><text x="128" y="588.8" font-size="44" fill="#111" stroke="none">H</text><text x="277" y="730.8" font-size="44" fill="#111" stroke="none">H</text><text x="505" y="705.8" font-size="44" fill="#111" stroke="none">H</text><text x="595" y="298.8" font-size="44" fill="#111" stroke="none">H</text><text x="993" y="268.8" font-size="44" fill="#111" stroke="none">H</text><text x="1022" y="463.8" font-size="44" fill="#111" stroke="none">H</text><text x="867" y="113.8" font-size="44" fill="#111" stroke="none">H</text></g></g>
<g transform="translate(3200,2150) scale(0.27027)"><g class="sans" text-anchor="middle" fill="none" stroke-width="5.5" stroke-linecap="round" transform="translate(0,0)"><line x1="540" y1="335" x2="574" y2="283.5" stroke="#2b2bff"/><line x1="574" y1="283.5" x2="608" y2="232" stroke="#111"/><line x1="608" y1="232" x2="800" y2="232" stroke="#111"/><line x1="800" y1="232" x2="900" y2="352" stroke="#111"/><line x1="785" y1="268" x2="855" y2="352" stroke="#111"/><line x1="900" y1="352" x2="869" y2="428.5" stroke="#111"/><line x1="869" y1="428.5" x2="838" y2="505" stroke="#c8c800"/><line x1="795" y1="535" x2="692.5" y2="522.5" stroke="#c8c800"/><line x1="692.5" y1="522.5" x2="590" y2="510" stroke="#111"/><line x1="590" y1="510" x2="565" y2="455" stroke="#111"/><line x1="565" y1="455" x2="540" y2="400" stroke="#2b2bff"/><line x1="628" y1="220" x2="598" y2="177.5" stroke="#111"/><line x1="598" y1="177.5" x2="568" y2="135" stroke="#ff2020"/><line x1="598" y1="240" x2="568" y2="197.5" stroke="#111"/><line x1="568" y1="197.5" x2="538" y2="155" stroke="#ff2020"/><line x1="578" y1="500" x2="528" y2="564" stroke="#111"/><line x1="528" y1="564" x2="478" y2="628" stroke="#c8c800"/><line x1="605" y1="522" x2="556.5" y2="586" stroke="#111"/><line x1="556.5" y1="586" x2="508" y2="650" stroke="#c8c800"/><line x1="495" y1="368" x2="411.5" y2="362.5" stroke="#2b2bff"/><line x1="411.5" y1="362.5" x2="328" y2="357" stroke="#111"/><line x1="328" y1="357" x2="305" y2="280" stroke="#111"/><line x1="800" y1="232" x2="845" y2="150" stroke="#111"/><line x1="900" y1="352" x2="1012" y2="350" stroke="#111"/><text x="520" y="392.5" font-size="68" fill="#2b2bff" stroke="none">N</text><text x="820" y="559.5" font-size="68" fill="#c8c800" stroke="none">S</text><text x="528" y="139.5" font-size="68" fill="#ff2020" stroke="none">O</text><text x="477" y="689.5" font-size="68" fill="#c8c800" stroke="none">S</text><text x="295" y="266" font-size="64" fill="#111" stroke="none">H</text><text x="860" y="148" font-size="64" fill="#111" stroke="none">H</text><text x="1040" y="373" font-size="64" fill="#111" stroke="none">H</text><polygon points="328,357 292,400 280,388" fill="#111" stroke="none"/><text x="262" y="441" font-size="64" fill="#111" stroke="none">H</text><text x="295" y="438" font-size="64" fill="#111" stroke="none">H</text></g><g class="sans" text-anchor="middle" fill="none" stroke-width="5.5" stroke-linecap="round" transform="translate(888,-17)"><line x1="540" y1="335" x2="574" y2="283.5" stroke="#2b2bff"/><line x1="574" y1="283.5" x2="608" y2="232" stroke="#111"/><line x1="608" y1="232" x2="800" y2="232" stroke="#111"/><line x1="800" y1="232" x2="900" y2="352" stroke="#111"/><line x1="785" y1="268" x2="855" y2="352" stroke="#111"/><line x1="900" y1="352" x2="869" y2="428.5" stroke="#111"/><line x1="869" y1="428.5" x2="838" y2="505" stroke="#c8c800"/><line x1="795" y1="535" x2="692.5" y2="522.5" stroke="#c8c800"/><line x1="692.5" y1="522.5" x2="590" y2="510" stroke="#111"/><line x1="590" y1="510" x2="565" y2="455" stroke="#111"/><line x1="565" y1="455" x2="540" y2="400" stroke="#2b2bff"/><line x1="628" y1="220" x2="598" y2="177.5" stroke="#111"/><line x1="598" y1="177.5" x2="568" y2="135" stroke="#ff2020"/><line x1="598" y1="240" x2="568" y2="197.5" stroke="#111"/><line x1="568" y1="197.5" x2="538" y2="155" stroke="#ff2020"/><line x1="578" y1="500" x2="528" y2="564" stroke="#111"/><line x1="528" y1="564" x2="478" y2="628" stroke="#c8c800"/><line x1="605" y1="522" x2="556.5" y2="586" stroke="#111"/><line x1="556.5" y1="586" x2="508" y2="650" stroke="#c8c800"/><line x1="495" y1="368" x2="411.5" y2="362.5" stroke="#2b2bff"/><line x1="411.5" y1="362.5" x2="328" y2="357" stroke="#111"/><line x1="328" y1="357" x2="305" y2="280" stroke="#111"/><line x1="800" y1="232" x2="845" y2="150" stroke="#111"/><line x1="900" y1="352" x2="1012" y2="350" stroke="#111"/><text x="520" y="392.5" font-size="68" fill="#2b2bff" stroke="none">N</text><text x="820" y="559.5" font-size="68" fill="#c8c800" stroke="none">S</text><text x="528" y="139.5" font-size="68" fill="#ff2020" stroke="none">O</text><text x="477" y="689.5" font-size="68" fill="#c8c800" stroke="none">S</text><text x="295" y="266" font-size="64" fill="#111" stroke="none">H</text><text x="860" y="148" font-size="64" fill="#111" stroke="none">H</text><text x="1040" y="373" font-size="64" fill="#111" stroke="none">H</text><line x1="328" y1="357" x2="290" y2="352" stroke="#111"/><line x1="328" y1="357" x2="300" y2="420" stroke="#111"/><text x="262" y="375" font-size="64" fill="#111" stroke="none">H</text><text x="275" y="481" font-size="64" fill="#111" stroke="none">H</text></g></g>
<text x="2843" y="2370" font-size="19.8" text-anchor="middle">Ground Truth</text>
<text x="3115.7" y="2370" font-size="19.8" text-anchor="middle">Our Prediction</text>
<text x="3393.5" y="2370" font-size="19.8" text-anchor="middle">Ground Truth</text>
<text x="3640" y="2370" font-size="19.8" text-anchor="middle">Our Prediction</text>
</svg>
<!-- p_logos -->
<svg width="3857" height="2870" viewBox="0 0 3857 2870" style="pointer-events:none"><g transform="translate(70,70) scale(0.24324)"><ellipse cx="470" cy="405" rx="280" ry="205" transform="rotate(-24 470 405)" fill="#f7d51d"/><path d="M642 146 C540 140 350 170 265 290 C215 380 255 500 388 523 C335 470 318 380 385 318 C450 262 545 285 602 228 C628 200 640 172 642 146 Z" fill="#2f55b5"/><path d="M290 662 C410 665 560 628 660 530 C720 455 700 345 558 282 C625 345 635 430 580 492 C520 548 405 538 342 582 C312 605 296 635 290 662 Z" fill="#e8222a"/><circle cx="470" cy="402" r="128" fill="#fff"/><circle cx="472" cy="402" r="94" fill="#16163a"/><path d="M392 352 A94 94 0 0 1 500 312 A70 70 0 0 0 392 352 Z" fill="#fff"/><circle cx="492" cy="410" r="11" fill="#fff"/><circle cx="157" cy="830" r="66" fill="none" stroke="#16163a" stroke-width="40"/><circle cx="157" cy="830" r="27" fill="#16163a"/><circle cx="166" cy="822" r="7" fill="#fff"/><g fill="none" stroke="#16163a" stroke-width="36" stroke-linejoin="round"><path d="M318 906 V770 H420 A40 40 0 0 1 420 850 H330"/><path d="M498 770 H682 M590 770 V906"/><path d="M722 752 V906"/><path d="M760 770 H872 M778 800 V888 H872"/></g><text class="sans" x="490" y="963" font-size="30" font-weight="bold" text-anchor="middle" fill="#333" textLength="850" lengthAdjust="spacingAndGlyphs">Cognitive Computing &amp; Interactive Systems Lab</text><path d="M152 992 h38 M171 988 v46 M152 1012 h38 M155 1032 h34 M158 1000 l-6 30 M184 1000 l6 30" stroke="#111" stroke-width="7" fill="none"/><path d="M202 992 h38 M221 988 v46 M202 1012 h38 M205 1032 h34 M208 1000 l-6 30 M234 1000 l6 30" stroke="#111" stroke-width="7" fill="none"/><path d="M252 992 h38 M271 988 v46 M252 1012 h38 M255 1032 h34 M258 1000 l-6 30 M284 1000 l6 30" stroke="#111" stroke-width="7" fill="none"/><path d="M302 992 h38 M321 988 v46 M302 1012 h38 M305 1032 h34 M308 1000 l-6 30 M334 1000 l6 30" stroke="#111" stroke-width="7" fill="none"/><path d="M352 992 h38 M371 988 v46 M352 1012 h38 M355 1032 h34 M358 1000 l-6 30 M384 1000 l6 30" stroke="#111" stroke-width="7" fill="none"/><path d="M402 992 h38 M421 988 v46 M402 1012 h38 M405 1032 h34 M408 1000 l-6 30 M434 1000 l6 30" stroke="#111" stroke-width="7" fill="none"/><path d="M452 992 h38 M471 988 v46 M452 1012 h38 M455 1032 h34 M458 1000 l-6 30 M484 1000 l6 30" stroke="#111" stroke-width="7" fill="none"/><path d="M502 992 h38 M521 988 v46 M502 1012 h38 M505 1032 h34 M508 1000 l-6 30 M534 1000 l6 30" stroke="#111" stroke-width="7" fill="none"/><path d="M552 992 h38 M571 988 v46 M552 1012 h38 M555 1032 h34 M558 1000 l-6 30 M584 1000 l6 30" stroke="#111" stroke-width="7" fill="none"/><path d="M602 992 h38 M621 988 v46 M602 1012 h38 M605 1032 h34 M608 1000 l-6 30 M634 1000 l6 30" stroke="#111" stroke-width="7" fill="none"/><path d="M652 992 h38 M671 988 v46 M652 1012 h38 M655 1032 h34 M658 1000 l-6 30 M684 1000 l6 30" stroke="#111" stroke-width="7" fill="none"/><path d="M702 992 h38 M721 988 v46 M702 1012 h38 M705 1032 h34 M708 1000 l-6 30 M734 1000 l6 30" stroke="#111" stroke-width="7" fill="none"/><path d="M752 992 h38 M771 988 v46 M752 1012 h38 M755 1032 h34 M758 1000 l-6 30 M784 1000 l6 30" stroke="#111" stroke-width="7" fill="none"/></g><g transform="translate(70,70) scale(0.24324)"><path d="M2022 555 L2022.3 571.1 L2023.3 587.4 L2024.7 603.8 L2026.4 620.5 L2028 637.5 L2029.2 654.7 L2029.6 672.1 L2029 689.5 L2026.9 706.7 L2023.3 723.6 L2018 740 L2011 755.8 L2002.3 770.7 L1992.2 784.8 L1980.9 798 L1968.6 810.4 L1955.8 822 L1942.7 833.1 L1929.6 843.8 L1916.8 854.4 L1904.4 865.1 L1892.4 876 L1881 887.4 L1870.1 899.4 L1859.4 911.8 L1848.8 924.6 L1838.1 937.7 L1827 950.8 L1815.4 963.6 L1803 975.9 L1789.8 987.2 L1775.7 997.3 L1760.8 1006 L1745 1013 L1728.6 1018.3 L1711.7 1021.9 L1694.5 1024 L1677.1 1024.6 L1659.7 1024.2 L1642.5 1023 L1625.5 1021.4 L1608.8 1019.7 L1592.4 1018.3 L1576.1 1017.3 L1560 1017 L1543.9 1017.3 L1527.6 1018.3 L1511.2 1019.7 L1494.5 1021.4 L1477.5 1023 L1460.3 1024.2 L1442.9 1024.6 L1425.5 1024 L1408.3 1021.9 L1391.4 1018.3 L1375 1013 L1359.2 1006 L1344.3 997.3 L1330.2 987.2 L1317 975.9 L1304.6 963.6 L1293 950.8 L1281.9 937.7 L1271.2 924.6 L1260.6 911.8 L1249.9 899.4 L1239 887.4 L1227.6 876 L1215.6 865.1 L1203.2 854.4 L1190.4 843.8 L1177.3 833.1 L1164.2 822 L1151.4 810.4 L1139.1 798 L1127.8 784.8 L1117.7 770.7 L1109 755.8 L1102 740 L1096.7 723.6 L1093.1 706.7 L1091 689.5 L1090.4 672.1 L1090.8 654.7 L1092 637.5 L1093.6 620.5 L1095.3 603.8 L1096.7 587.4 L1097.7 571.1 L1098 555 L1097.7 538.9 L1096.7 522.6 L1095.3 506.2 L1093.6 489.5 L1092 472.5 L1090.8 455.3 L1090.4 437.9 L1091 420.5 L1093.1 403.3 L1096.7 386.4 L1102 370 L1109 354.2 L1117.7 339.3 L1127.8 325.2 L1139.1 312 L1151.4 299.6 L1164.2 288 L1177.3 276.9 L1190.4 266.2 L1203.2 255.6 L1215.6 244.9 L1227.6 234 L1239 222.6 L1249.9 210.6 L1260.6 198.2 L1271.2 185.4 L1281.9 172.3 L1293 159.2 L1304.6 146.4 L1317 134.1 L1330.2 122.8 L1344.3 112.7 L1359.2 104 L1375 97 L1391.4 91.7 L1408.3 88.1 L1425.5 86 L1442.9 85.4 L1460.3 85.8 L1477.5 87 L1494.5 88.6 L1511.2 90.3 L1527.6 91.7 L1543.9 92.7 L1560 93 L1576.1 92.7 L1592.4 91.7 L1608.8 90.3 L1625.5 88.6 L1642.5 87 L1659.7 85.8 L1677.1 85.4 L1694.5 86 L1711.7 88.1 L1728.6 91.7 L1745 97 L1760.8 104 L1775.7 112.7 L1789.8 122.8 L1803 134.1 L1815.4 146.4 L1827 159.2 L1838.1 172.3 L1848.8 185.4 L1859.4 198.2 L1870.1 210.6 L1881 222.6 L1892.4 234 L1904.4 244.9 L1916.8 255.6 L1929.6 266.2 L1942.7 276.9 L1955.8 288 L1968.6 299.6 L1980.9 312 L1992.2 325.2 L2002.3 339.3 L2011 354.2 L2018 370 L2023.3 386.4 L2026.9 403.3 L2029 420.5 L2029.6 437.9 L2029.2 455.3 L2028 472.5 L2026.4 489.5 L2024.7 506.2 L2023.3 522.6 L2022.3 538.9 L2022 555 Z" fill="#fff" stroke="#b5272d" stroke-width="8"/><circle cx="1560" cy="555" r="408" fill="none" stroke="#b5272d" stroke-width="7"/><path d="M1470 305 A262 262 0 1 1 1395 358" fill="none" stroke="#b5272d" stroke-width="13"/><circle cx="1432" cy="333" r="32" fill="#b5272d"/><path id="sealarc" d="M1190.3 696.9 A396 396 0 0 0 1929.7 696.9" fill="none"/><text class="sans" font-size="80" font-weight="bold" fill="#b5272d" textLength="953.8" lengthAdjust="spacing"><textPath href="#sealarc">XIDIAN UNIVERSITY</textPath></text><text x="1560" y="785" font-size="46" font-weight="bold" text-anchor="middle" fill="#b5272d" letter-spacing="2">1931</text><g transform="translate(1240.5,438.7) rotate(290)" stroke="#b5272d" stroke-width="9" fill="none" stroke-linecap="round"><path d="M-26 -22 q26 -10 52 0 M-4 -38 q8 40 -6 74 M-30 6 q30 -12 58 -2 M-22 30 q14 -8 24 -24 M8 10 q10 14 24 22"/></g><g transform="translate(1307.3,327.5) rotate(312)" stroke="#b5272d" stroke-width="9" fill="none" stroke-linecap="round"><path d="M-26 -22 q26 -10 52 0 M-4 -38 q8 40 -6 74 M-30 6 q30 -12 58 -2 M-22 30 q14 -8 24 -24 M8 10 q10 14 24 22"/></g><g transform="translate(1427.2,242) rotate(337)" stroke="#b5272d" stroke-width="9" fill="none" stroke-linecap="round"><path d="M-26 -22 q26 -10 52 0 M-4 -38 q8 40 -6 74 M-30 6 q30 -12 58 -2 M-22 30 q14 -8 24 -24 M8 10 q10 14 24 22"/></g><g transform="translate(1571.9,215.2) rotate(362)" stroke="#b5272d" stroke-width="9" fill="none" stroke-linecap="round"><path d="M-26 -22 q26 -10 52 0 M-4 -38 q8 40 -6 74 M-30 6 q30 -12 58 -2 M-22 30 q14 -8 24 -24 M8 10 q10 14 24 22"/></g><g transform="translate(1714.4,252.1) rotate(387)" stroke="#b5272d" stroke-width="9" fill="none" stroke-linecap="round"><path d="M-26 -22 q26 -10 52 0 M-4 -38 q8 40 -6 74 M-30 6 q30 -12 58 -2 M-22 30 q14 -8 24 -24 M8 10 q10 14 24 22"/></g><g transform="translate(1827.9,345.7) rotate(412)" stroke="#b5272d" stroke-width="9" fill="none" stroke-linecap="round"><path d="M-26 -22 q26 -10 52 0 M-4 -38 q8 40 -6 74 M-30 6 q30 -12 58 -2 M-22 30 q14 -8 24 -24 M8 10 q10 14 24 22"/></g><g transform="translate(1888.4,467) rotate(435)" stroke="#b5272d" stroke-width="9" fill="none" stroke-linecap="round"><path d="M-26 -22 q26 -10 52 0 M-4 -38 q8 40 -6 74 M-30 6 q30 -12 58 -2 M-22 30 q14 -8 24 -24 M8 10 q10 14 24 22"/></g><g fill="none" stroke="#b5272d" stroke-width="8" stroke-linejoin="round"><path d="M1262 442 L1450 452 C1500 470 1520 520 1560 520 C1600 520 1625 470 1680 452 L1775 442 L1600 720 L1520 720 Z" fill="#fff"/><path d="M1300 470 L1470 480"/><path d="M1745 470 L1640 480"/><path d="M1322 502 L1478 510"/><path d="M1725 502 L1634 510"/><path d="M1344 534 L1486 540"/><path d="M1705 534 L1628 540"/><path d="M1366 566 L1494 570"/><path d="M1685 566 L1622 570"/><path d="M1388 598 L1502 600"/><path d="M1665 598 L1616 600"/><path d="M1400 720 L1500 600 L1560 690 L1620 600 L1660 720"/><path d="M1640 648 H1800 A36 36 0 0 1 1800 720 H1640 A20 36 0 0 1 1640 648 Z" fill="#fff"/><path d="M1670 682 H1810"/></g></g><defs>
<linearGradient id="sky" x1="0" y1="0" x2="0" y2="1"><stop offset="0" stop-color="#2f6aa6"/><stop offset=".25" stop-color="#3a84bd"/><stop offset=".5" stop-color="#5ba0cc"/><stop offset=".6" stop-color="#8db6d3"/><stop offset=".645" stop-color="#a8bfd0"/><stop offset=".655" stop-color="#6d93b8"/><stop offset=".75" stop-color="#4a7fb0"/><stop offset=".9" stop-color="#35689e"/><stop offset=".965" stop-color="#2f5f92"/><stop offset=".975" stop-color="#2a3a35"/><stop offset="1" stop-color="#1f2a22"/></linearGradient>
<filter id="bl3" x="-20%" y="-20%" width="140%" height="140%"><feGaussianBlur stdDeviation="3"/></filter>
<filter id="bl1" x="-20%" y="-20%" width="140%" height="140%"><feGaussianBlur stdDeviation="1.2"/></filter>
<clipPath id="icl"><rect x="3432" y="94" width="383" height="254"/></clipPath>
</defs><g clip-path="url(#icl)"><rect x="3432" y="94" width="383" height="254" fill="url(#sky)"/><g filter="url(#bl3)"><ellipse cx="3490" cy="232" rx="55" ry="10" fill="#3f6f9f" opacity=".8"/><ellipse cx="3790" cy="228" rx="40" ry="12" fill="#456f9c" opacity=".8"/><ellipse cx="3760" cy="245" rx="50" ry="7" fill="#c9b8b8" opacity=".6"/><ellipse cx="3480" cy="215" rx="35" ry="5" fill="#d8e4ee" opacity=".5"/></g><g filter="url(#bl1)"><path d="M3445 256 Q3468 232 3498 256 Z" fill="#e8b050"/><rect x="3434" y="252" width="104" height="4" fill="#c89048" opacity=".8"/><rect x="3712" y="251" width="103" height="5" fill="#c88a44" opacity=".85"/><rect x="3783" y="215" width="18" height="42" fill="#e08a3a"/><rect x="3772" y="236" width="40" height="20" fill="#d07a35"/><circle cx="3765.5" cy="217.5" r="25" fill="none" stroke="#e0486a" stroke-width="2.2"/><rect x="3434" y="255" width="381" height="3" fill="#25303a"/></g><g filter="url(#bl3)" opacity=".85"><rect x="3455" y="259" width="12" height="40" fill="#d8a070"/><rect x="3485" y="259" width="10" height="30" fill="#d09a6a"/><rect x="3545" y="259" width="8" height="30" fill="#c8a080"/><rect x="3588" y="259" width="22" height="55" fill="#8a4a2a"/><rect x="3625" y="259" width="10" height="45" fill="#e0a060"/><rect x="3650" y="259" width="8" height="40" fill="#e8b070"/><rect x="3680" y="259" width="8" height="45" fill="#e09a60"/><rect x="3700" y="259" width="6" height="30" fill="#d8a070"/><rect x="3745" y="259" width="14" height="70" fill="#e04848"/><rect x="3775" y="259" width="10" height="80" fill="#e85040"/><rect x="3795" y="259" width="10" height="60" fill="#e07a40"/><rect x="3730" y="259" width="6" height="30" fill="#d88060"/></g><rect x="3536.5" y="182.8" width="173.7" height="76.2" rx="6" fill="#f3f4f6" opacity=".93"/><text class="sans" x="3609.5" y="222.4" font-size="32.5" font-weight="bold" fill="#2f3944" textLength="88" lengthAdjust="spacingAndGlyphs" stroke="#2f3944" stroke-width="1.2">ICLR</text><rect x="3610" y="224.8" width="88" height="1.4" fill="#444"/><text class="sans" x="3610" y="233" font-size="6.6" fill="#555" textLength="88" lengthAdjust="spacingAndGlyphs">International Conference On</text><text class="sans" x="3610" y="241" font-size="6.6" fill="#555" textLength="76" lengthAdjust="spacingAndGlyphs">Learning Representations</text><path d="M3563 203 C3575 200 3584 206 3588 214 C3594 217 3597 222 3594 226 C3597 232 3594 238 3590 240 L3585 246 C3588 232 3584 220 3576 212 C3572 207 3567 205 3563 203 Z" fill="#3a4450"/><circle cx="3557.6" cy="224.7" r="1.6" fill="#a8d050"/><circle cx="3565.2" cy="226.1" r="1.9" fill="#38b0c8"/><circle cx="3558.3" cy="212.9" r="2.4" fill="#38b0c8"/><circle cx="3567.3" cy="224.9" r="1.7" fill="#8cc860"/><circle cx="3557.4" cy="209.8" r="2.3" fill="#38b0c8"/><circle cx="3573.7" cy="229.5" r="1.3" fill="#a8d050"/><circle cx="3551.4" cy="233.6" r="2.2" fill="#58c0a0"/><circle cx="3565.1" cy="231.3" r="2.3" fill="#38b0c8"/><circle cx="3562.6" cy="234.4" r="1.7" fill="#8cc860"/><circle cx="3578.1" cy="207.7" r="1.4" fill="#8cc860"/><circle cx="3558.3" cy="229.5" r="2.1" fill="#58c0a0"/><circle cx="3563.5" cy="235.7" r="1.9" fill="#a8d050"/><circle cx="3568.7" cy="226.2" r="2.3" fill="#b8d84a"/><circle cx="3577.4" cy="241.7" r="2.0" fill="#8cc860"/><circle cx="3572.4" cy="216.4" r="1.9" fill="#a8d050"/><circle cx="3568.2" cy="231.1" r="1.5" fill="#a8d050"/><circle cx="3558.5" cy="208.7" r="1.8" fill="#38b0c8"/><circle cx="3552.8" cy="234.4" r="1.7" fill="#8cc860"/><circle cx="3563.3" cy="208.5" r="1.9" fill="#b8d84a"/><circle cx="3562.1" cy="226.3" r="1.9" fill="#58c0a0"/><circle cx="3566.2" cy="241.9" r="1.6" fill="#b8d84a"/><circle cx="3553.5" cy="224.4" r="2.3" fill="#38b0c8"/><circle cx="3559.3" cy="214.0" r="2.0" fill="#58c0a0"/><circle cx="3560.0" cy="240.4" r="2.3" fill="#38b0c8"/><circle cx="3562.1" cy="237.1" r="1.7" fill="#a8d050"/><circle cx="3571.8" cy="207.9" r="2.4" fill="#a8d050"/><circle cx="3558.7" cy="228.1" r="2.1" fill="#58c0a0"/><circle cx="3564.0" cy="213.8" r="1.6" fill="#58c0a0"/><circle cx="3568.6" cy="204.8" r="1.9" fill="#8cc860"/><circle cx="3551.9" cy="227.8" r="1.8" fill="#58c0a0"/><circle cx="3569.5" cy="214.6" r="1.8" fill="#a8d050"/><circle cx="3551.9" cy="229.7" r="2.4" fill="#58c0a0"/></g></svg>
</div>
</body></html>
